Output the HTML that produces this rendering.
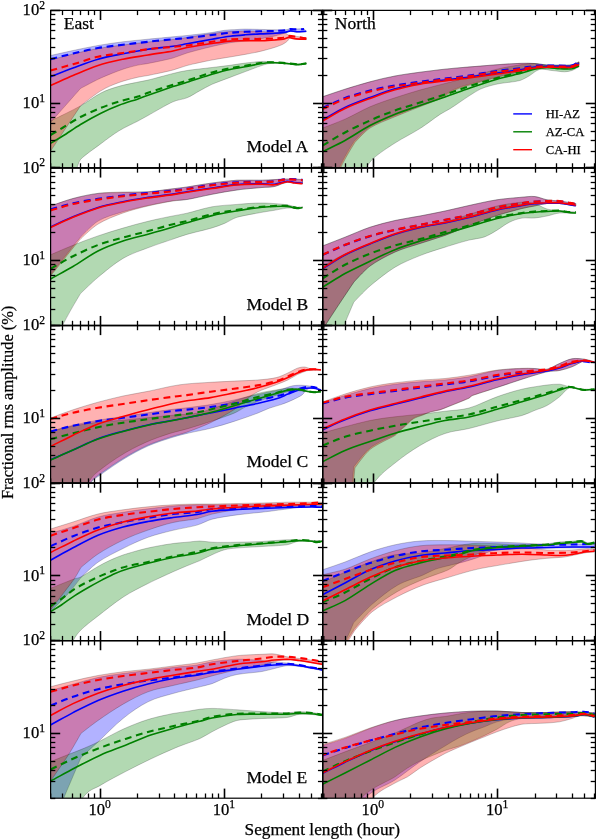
<!DOCTYPE html><html><head><meta charset="utf-8"><style>html,body{margin:0;padding:0;background:#fff}svg{display:block}text{font-family:"Liberation Serif",serif;fill:#000;stroke:#000;stroke-width:0.25px}svg{will-change:transform}</style></head><body>
<svg width="596" height="839" viewBox="0 0 596 839">
<rect width="596" height="839" fill="#fff"/>
<defs>
<clipPath id="c00"><rect x="50.60" y="10.40" width="272.05" height="157.56"/></clipPath>
<clipPath id="c01"><rect x="322.65" y="10.40" width="272.75" height="157.56"/></clipPath>
<clipPath id="c10"><rect x="50.60" y="167.96" width="272.05" height="157.56"/></clipPath>
<clipPath id="c11"><rect x="322.65" y="167.96" width="272.75" height="157.56"/></clipPath>
<clipPath id="c20"><rect x="50.60" y="325.52" width="272.05" height="157.56"/></clipPath>
<clipPath id="c21"><rect x="322.65" y="325.52" width="272.75" height="157.56"/></clipPath>
<clipPath id="c30"><rect x="50.60" y="483.08" width="272.05" height="157.56"/></clipPath>
<clipPath id="c31"><rect x="322.65" y="483.08" width="272.75" height="157.56"/></clipPath>
<clipPath id="c40"><rect x="50.60" y="640.64" width="272.05" height="157.56"/></clipPath>
<clipPath id="c41"><rect x="322.65" y="640.64" width="272.75" height="157.56"/></clipPath>
</defs>
<g clip-path="url(#c00)">
<path d="M50.5,55.5 C58.0,53.8 65.5,52.1 73.0,50.5 C80.9,48.8 89.7,47.0 98.0,45.5 C106.3,44.0 114.7,42.8 123.0,41.8 C131.3,40.7 139.7,40.1 148.0,39.2 C156.3,38.4 166.5,37.4 173.0,36.8 C177.7,36.3 182.3,36.0 187.0,35.5 C193.5,34.8 205.8,33.4 212.0,32.5 C216.2,31.9 220.3,30.8 224.5,30.3 C228.7,29.8 233.6,29.7 237.0,29.5 C239.7,29.3 242.3,29.1 245.0,29.1 C248.8,29.1 255.0,29.3 260.0,29.4 C265.0,29.5 270.7,29.7 275.0,29.8 C278.7,29.9 283.4,30.0 286.0,29.8 C287.5,29.7 288.9,28.7 290.4,28.6 C292.1,28.5 294.5,28.9 296.5,28.9 C298.8,28.9 301.5,28.7 304.0,28.6 L306.3,31.8 C303.0,32.0 299.1,32.4 296.5,32.3 C294.5,32.2 292.1,31.3 290.4,31.4 C288.9,31.5 287.5,32.4 286.0,32.8 C283.4,33.5 278.7,35.0 275.0,35.9 C270.7,36.9 265.0,38.0 260.0,38.9 C255.0,39.8 250.0,40.5 245.0,41.1 C240.0,41.7 235.0,41.9 230.0,42.7 C224.5,43.6 218.0,45.1 212.0,46.5 C204.8,48.2 193.5,51.1 187.0,53.0 C182.3,54.4 177.7,56.7 173.0,58.0 C166.5,59.8 153.8,62.3 148.0,63.5 C144.7,64.2 141.3,64.3 138.0,65.1 C133.8,66.1 128.0,67.5 123.0,69.2 C116.8,71.4 108.0,74.8 100.9,78.0 C94.1,81.1 80.5,88.5 80.5,88.5 C80.5,88.5 60.5,111.2 50.5,122.5Z" fill="#0000ff" fill-opacity="0.3" stroke="#000" stroke-opacity="0.3" stroke-width="0.7"/>
<path d="M50.5,121.0 C60.5,116.0 72.1,110.6 80.5,105.9 C87.3,102.1 94.5,96.3 100.9,93.0 C106.9,89.9 113.0,88.1 119.0,86.3 C125.2,84.5 133.2,83.2 138.0,82.1 C141.3,81.4 144.7,80.9 148.0,80.1 C153.8,78.7 166.5,75.1 173.0,73.5 C177.7,72.3 182.3,71.2 187.0,70.5 C193.5,69.5 204.8,68.4 212.0,67.5 C218.0,66.8 224.5,66.0 230.0,65.3 C235.0,64.6 240.1,63.7 245.1,63.1 C250.1,62.5 256.4,61.8 260.2,61.5 C262.7,61.3 265.3,61.4 267.8,61.5 C270.3,61.6 272.8,62.0 275.3,62.2 C277.8,62.4 280.4,62.4 282.9,62.6 C285.4,62.8 287.9,63.1 290.4,63.3 C292.9,63.5 295.5,64.1 298.0,64.1 C300.6,64.0 303.5,63.4 306.3,63.0 L306.3,64.0 C303.5,64.4 300.6,65.0 298.0,65.1 C295.5,65.1 292.9,64.5 290.4,64.3 C287.9,64.1 285.4,63.8 282.9,63.6 C280.4,63.4 277.8,63.2 275.3,63.2 C272.8,63.2 270.3,63.3 267.8,63.8 C265.3,64.3 262.7,65.2 260.2,66.1 C257.2,67.1 253.1,68.7 249.6,70.0 C244.6,71.9 236.3,75.0 230.0,77.4 C224.0,79.7 217.1,82.1 212.0,84.3 C207.8,86.2 203.7,88.7 199.5,90.9 C195.3,93.2 191.2,96.1 187.0,97.8 C182.6,99.6 177.7,99.6 173.0,101.8 C166.5,104.7 153.8,112.3 148.0,115.5 C144.7,117.3 141.3,119.2 138.0,121.0 C133.2,123.5 125.2,127.0 119.0,130.8 C113.0,134.5 106.9,139.2 100.9,143.7 C94.5,148.5 84.7,155.1 80.5,159.5 C79.0,161.1 77.5,167.2 76.0,170.0 C71.0,179.2 59.0,200.0 50.5,215.0Z" fill="#008000" fill-opacity="0.3" stroke="#000" stroke-opacity="0.3" stroke-width="0.7"/>
<path d="M50.5,60.0 C58.0,58.0 65.5,55.8 73.0,54.0 C80.9,52.1 89.7,50.0 98.0,48.5 C106.3,47.0 114.7,46.1 123.0,45.0 C131.3,43.9 139.7,42.9 148.0,42.0 C156.3,41.1 166.5,40.2 173.0,39.5 C177.7,39.0 182.3,38.2 187.0,37.5 C193.5,36.5 204.8,34.5 212.0,33.5 C218.0,32.7 224.5,31.9 230.0,31.5 C235.0,31.1 240.0,31.0 245.0,31.0 C250.0,31.0 255.0,31.2 260.0,31.5 C265.0,31.8 270.7,32.2 275.0,32.5 C278.7,32.8 283.7,33.0 286.0,33.5 C287.0,33.7 287.9,35.1 288.9,35.4 C290.6,35.9 294.0,36.0 296.5,36.4 C299.4,36.8 303.0,37.5 306.3,38.0 L306.3,39.6 C303.0,39.5 299.3,39.5 296.5,39.3 C294.2,39.1 291.2,38.0 289.7,38.3 C288.9,38.5 288.2,40.4 287.4,41.1 C286.3,42.1 284.4,43.4 282.9,44.2 C280.9,45.2 277.8,46.4 275.3,47.2 C271.5,48.4 265.2,50.2 260.2,51.4 C255.2,52.6 250.1,53.5 245.1,54.4 C240.1,55.3 235.0,56.1 230.0,57.0 C224.5,57.9 218.0,58.8 212.0,60.0 C204.8,61.4 193.5,63.8 187.0,65.5 C182.3,66.7 177.7,68.8 173.0,70.0 C166.5,71.7 153.8,74.3 148.0,75.5 C144.7,76.2 141.3,76.4 138.0,77.2 C133.2,78.4 125.2,80.2 119.0,82.5 C113.0,84.7 106.9,87.1 100.9,90.8 C94.5,94.7 80.5,105.9 80.5,105.9 C80.5,105.9 60.5,136.1 50.5,151.2Z" fill="#ff0000" fill-opacity="0.3" stroke="#000" stroke-opacity="0.3" stroke-width="0.7"/>
<path d="M50.5,76.8 C58.0,73.8 65.5,70.8 73.0,68.0 C80.9,65.1 89.7,61.6 98.0,59.2 C106.3,56.9 114.7,55.4 123.0,53.8 C131.3,52.1 139.7,50.5 148.0,49.2 C156.3,48.0 166.5,47.2 173.0,46.2 C177.7,45.6 182.3,44.6 187.0,43.8 C193.5,42.6 204.8,40.5 212.0,39.2 C218.0,38.2 224.5,37.0 230.0,36.3 C235.0,35.6 240.1,35.2 245.1,34.8 C250.1,34.4 255.2,34.1 260.2,33.9 C265.2,33.6 271.0,33.6 275.3,33.3 C278.8,33.1 283.4,32.5 285.9,32.1 C287.4,31.9 288.9,30.9 290.4,30.9 C292.2,30.8 294.5,31.7 296.5,31.8 C299.1,31.9 303.0,31.5 306.3,31.3" fill="none" stroke="#0000ff" stroke-width="1.6" stroke-linejoin="round"/>
<path d="M50.5,59.2 C58.0,57.3 65.5,55.3 73.0,53.5 C80.9,51.6 89.7,49.5 98.0,48.0 C106.3,46.5 114.7,45.8 123.0,44.8 C131.3,43.7 139.7,42.7 148.0,41.8 C156.3,40.8 166.5,39.9 173.0,39.2 C177.7,38.8 182.3,38.5 187.0,38.0 C193.5,37.3 204.8,35.9 212.0,35.0 C218.0,34.3 224.5,33.3 230.0,32.8 C235.0,32.3 240.1,32.0 245.1,31.8 C250.1,31.6 255.2,31.4 260.2,31.3 C265.2,31.1 271.0,31.1 275.3,30.9 C278.8,30.8 283.4,30.6 285.9,30.3 C287.4,30.1 288.9,29.2 290.4,29.1 C292.2,29.0 294.5,29.4 296.5,29.4 C298.8,29.4 301.5,29.2 304.0,29.1" fill="none" stroke="#0000ff" stroke-width="2.1" stroke-dasharray="6.8,4.7" stroke-dashoffset="0"/>
<path d="M50.5,143.4 C54.7,140.9 58.9,138.4 63.1,135.8 C68.1,132.7 74.7,128.0 80.5,124.5 C86.8,120.7 94.5,116.4 100.9,113.2 C106.9,110.2 113.0,107.6 119.0,105.3 C125.2,102.9 133.2,100.6 138.0,98.9 C141.3,97.7 144.7,96.4 148.0,95.2 C153.8,93.2 166.5,88.7 173.0,86.5 C177.7,85.0 182.3,83.8 187.0,82.3 C193.5,80.3 204.8,76.4 212.0,74.2 C218.0,72.5 224.5,70.7 230.0,69.5 C235.0,68.4 240.1,67.8 245.1,66.8 C250.1,65.8 256.4,64.5 260.2,63.8 C262.7,63.3 265.3,62.9 267.8,62.7 C270.3,62.5 272.8,62.6 275.3,62.7 C277.8,62.8 280.4,62.9 282.9,63.1 C285.4,63.3 287.9,63.6 290.4,63.8 C292.9,64.0 295.5,64.6 298.0,64.6 C300.6,64.5 303.5,63.9 306.3,63.5" fill="none" stroke="#008000" stroke-width="1.6" stroke-linejoin="round"/>
<path d="M50.5,135.0 C54.7,132.5 58.9,130.0 63.1,127.5 C68.1,124.5 74.7,120.0 80.5,117.0 C86.8,113.7 94.5,110.5 100.9,107.9 C106.9,105.5 113.0,103.3 119.0,101.5 C125.2,99.6 133.2,98.1 138.0,96.6 C141.3,95.6 144.7,93.9 148.0,92.8 C153.8,90.8 166.5,86.8 173.0,84.8 C177.7,83.3 182.3,82.1 187.0,80.6 C193.5,78.5 204.8,74.5 212.0,72.5 C218.0,70.8 224.5,69.4 230.0,68.3 C235.0,67.3 240.1,66.7 245.1,65.8 C250.1,64.9 256.4,63.6 260.2,63.0 C262.7,62.6 265.3,62.3 267.8,62.2 C270.3,62.1 272.8,62.3 275.3,62.4 C277.8,62.5 280.4,62.7 282.9,62.9 C285.4,63.1 287.9,63.4 290.4,63.6 C292.9,63.9 295.5,64.4 298.0,64.4 C300.6,64.4 303.5,63.7 306.3,63.3" fill="none" stroke="#008000" stroke-width="2.1" stroke-dasharray="6.8,4.7" stroke-dashoffset="0"/>
<path d="M50.5,85.5 C58.0,82.2 65.5,78.7 73.0,75.5 C80.9,72.2 89.7,68.2 98.0,65.5 C106.3,62.8 114.7,61.0 123.0,59.2 C131.3,57.5 139.7,56.4 148.0,55.0 C156.3,53.6 166.5,52.2 173.0,51.0 C177.7,50.1 182.3,48.4 187.0,47.5 C193.5,46.2 204.8,44.6 212.0,43.5 C218.0,42.6 224.5,41.6 230.0,41.1 C235.0,40.7 240.1,40.8 245.1,40.7 C250.1,40.6 255.2,40.8 260.2,40.7 C265.2,40.6 271.5,40.1 275.3,39.9 C277.8,39.7 280.6,39.7 282.9,39.3 C284.9,38.9 287.4,37.6 288.9,37.4 C289.9,37.3 290.9,37.9 291.9,38.1 C293.2,38.4 295.0,38.8 296.5,38.9 C298.9,39.1 303.0,39.2 306.3,39.3" fill="none" stroke="#ff0000" stroke-width="1.6" stroke-linejoin="round"/>
<path d="M50.5,70.5 C58.0,68.4 65.5,66.4 73.0,64.2 C80.9,62.0 89.7,58.6 98.0,56.8 C106.3,54.9 114.7,54.2 123.0,53.0 C131.3,51.8 139.7,50.3 148.0,49.2 C156.3,48.2 166.5,47.4 173.0,46.8 C177.7,46.3 182.3,46.1 187.0,45.5 C193.5,44.7 204.8,42.8 212.0,41.8 C218.0,40.9 224.5,39.8 230.0,39.3 C235.0,38.9 240.1,39.0 245.1,38.9 C250.1,38.8 255.2,39.0 260.2,38.9 C265.2,38.8 271.5,38.6 275.3,38.4 C277.8,38.3 280.6,38.2 282.9,37.8 C284.9,37.4 286.9,36.0 288.9,35.9 C291.2,35.8 294.0,36.5 296.5,36.9 C299.4,37.3 303.0,37.9 306.3,38.4" fill="none" stroke="#ff0000" stroke-width="2.1" stroke-dasharray="6.8,4.7" stroke-dashoffset="0"/>
</g>
<g clip-path="url(#c01)">
<path d="M322.5,96.8 C330.0,94.2 337.5,91.6 345.0,89.2 C352.9,86.8 361.7,84.0 370.0,81.8 C378.3,79.5 386.7,77.6 395.0,76.0 C403.3,74.4 412.5,73.3 420.0,72.2 C426.7,71.3 433.3,70.5 440.0,69.7 C446.7,68.9 453.3,68.3 460.0,67.7 C466.7,67.1 473.3,66.6 480.0,66.1 C486.7,65.6 493.3,64.9 500.0,64.5 C507.0,64.0 516.2,63.5 522.0,63.3 C526.2,63.2 530.3,63.2 534.5,63.5 C538.7,63.8 542.8,64.8 547.0,65.0 C553.2,65.2 566.7,65.5 572.0,65.0 C574.3,64.8 576.7,62.8 579.0,61.8 L579.0,64.5 C576.7,65.7 574.3,67.7 572.0,68.0 C566.7,68.6 553.2,67.9 547.0,68.0 C542.8,68.1 538.7,68.0 534.5,68.5 C530.3,69.0 526.2,70.1 522.0,71.0 C515.8,72.4 505.3,74.9 497.0,77.0 C488.7,79.1 478.2,81.8 472.0,83.5 C468.0,84.6 463.7,85.7 460.0,87.0 C456.7,88.2 453.3,89.8 450.0,91.5 C446.7,93.2 443.3,95.9 440.0,97.5 C435.0,99.8 426.7,102.8 420.0,105.5 C412.5,108.5 403.3,112.0 395.0,115.5 C386.7,119.0 376.9,122.4 370.0,126.8 C364.6,130.2 353.8,141.8 353.8,141.8 C353.8,141.8 344.1,156.7 339.3,168.0 C334.1,180.2 328.1,199.3 322.5,215.0Z" fill="#0000ff" fill-opacity="0.3" stroke="#000" stroke-opacity="0.3" stroke-width="0.7"/>
<path d="M322.5,128.0 C330.0,125.1 337.5,122.6 345.0,119.2 C352.9,115.7 361.7,110.3 370.0,106.8 C378.3,103.2 386.7,100.5 395.0,97.8 C403.3,95.0 411.7,92.4 420.0,90.0 C428.3,87.6 436.7,85.7 445.0,83.5 C453.3,81.3 461.7,79.3 470.0,77.0 C478.7,74.6 488.3,71.3 497.0,69.2 C505.3,67.2 515.8,65.5 522.0,64.5 C526.2,63.9 530.3,63.4 534.5,63.5 C538.7,63.6 542.8,64.8 547.0,65.0 C553.2,65.2 566.7,65.4 572.0,65.0 C574.3,64.8 576.7,63.3 579.0,62.5 L579.0,66.8 C576.7,68.0 574.3,69.7 572.0,70.5 C569.6,71.3 567.0,71.8 564.5,71.8 C561.2,71.8 555.8,70.9 552.0,70.5 C548.7,70.1 544.5,69.2 542.0,69.2 C540.3,69.2 538.7,69.6 537.0,70.5 C534.8,71.6 531.7,74.4 529.0,76.0 C526.2,77.7 523.0,79.5 520.0,80.5 C516.8,81.5 513.3,81.7 510.0,82.2 C506.7,82.7 503.3,82.9 500.0,83.5 C496.7,84.1 493.3,84.8 490.0,85.8 C486.7,86.8 483.3,87.7 480.0,89.3 C476.7,90.9 473.3,93.2 470.0,95.3 C466.7,97.4 463.3,99.8 460.0,102.0 C456.7,104.3 453.3,106.7 450.0,108.7 C446.7,110.8 443.3,112.2 440.0,114.4 C435.0,117.7 426.7,124.3 420.0,128.5 C412.5,133.3 402.7,138.1 395.0,143.0 C387.9,147.5 378.5,153.8 373.8,158.0 C371.2,160.2 368.8,163.5 366.2,168.0 C357.7,183.3 337.1,222.7 322.5,250.0Z" fill="#008000" fill-opacity="0.3" stroke="#000" stroke-opacity="0.3" stroke-width="0.7"/>
<path d="M322.5,96.8 C330.0,94.2 337.5,91.6 345.0,89.2 C352.9,86.8 361.7,84.0 370.0,81.8 C378.3,79.5 386.7,77.6 395.0,76.0 C403.3,74.4 412.5,73.3 420.0,72.2 C426.7,71.3 433.3,70.5 440.0,69.7 C446.7,68.9 453.3,68.3 460.0,67.7 C466.7,67.1 473.3,66.6 480.0,66.1 C486.7,65.6 493.3,64.9 500.0,64.5 C507.0,64.0 516.2,63.5 522.0,63.3 C526.2,63.2 530.3,63.2 534.5,63.5 C538.7,63.8 542.8,64.8 547.0,65.0 C553.2,65.2 566.7,65.5 572.0,65.0 C574.3,64.8 576.7,62.8 579.0,61.8 L579.0,64.5 C576.7,65.7 574.3,67.7 572.0,68.0 C566.7,68.6 553.2,67.9 547.0,68.0 C542.8,68.1 538.7,67.9 534.5,68.5 C530.3,69.1 526.2,70.5 522.0,71.5 C515.8,73.0 505.3,75.3 497.0,77.5 C488.7,79.7 478.2,82.8 472.0,84.5 C468.0,85.6 463.7,86.6 460.0,88.0 C456.7,89.2 453.3,90.9 450.0,92.7 C446.7,94.5 443.3,97.1 440.0,98.7 C435.0,101.0 426.7,104.0 420.0,106.7 C412.5,109.7 403.3,113.2 395.0,116.7 C386.7,120.2 376.7,123.7 370.0,128.0 C365.0,131.2 354.9,142.5 354.9,142.5 C354.9,142.5 345.4,157.3 340.6,168.0 C335.2,180.1 328.5,199.3 322.5,215.0Z" fill="#ff0000" fill-opacity="0.3" stroke="#000" stroke-opacity="0.3" stroke-width="0.7"/>
<path d="M322.5,120.0 C330.0,115.8 337.5,111.1 345.0,107.5 C352.9,103.8 361.7,100.6 370.0,97.5 C378.3,94.4 386.7,91.1 395.0,88.8 C403.3,86.4 411.7,84.7 420.0,83.2 C428.3,81.8 436.8,81.0 445.0,80.0 C453.0,79.0 461.0,78.1 469.0,77.0 C477.7,75.8 488.2,74.2 497.0,73.0 C505.3,71.8 515.8,70.5 522.0,69.5 C526.2,68.8 530.3,67.5 534.5,67.0 C538.7,66.5 542.8,66.3 547.0,66.2 C553.2,66.1 566.7,66.7 572.0,66.2 C574.3,66.1 576.7,64.6 579.0,63.8" fill="none" stroke="#0000ff" stroke-width="1.6" stroke-linejoin="round"/>
<path d="M322.5,108.0 C330.0,104.7 337.5,100.8 345.0,98.0 C352.9,95.1 361.7,92.6 370.0,90.5 C378.3,88.4 386.7,87.0 395.0,85.5 C403.3,84.0 411.7,82.9 420.0,81.8 C428.3,80.6 436.8,79.5 445.0,78.5 C453.0,77.5 461.0,76.7 469.0,75.5 C477.7,74.2 488.2,72.2 497.0,71.0 C505.3,69.8 515.8,68.8 522.0,68.0 C526.2,67.4 530.3,66.4 534.5,66.0 C538.7,65.6 542.8,65.6 547.0,65.5 C553.2,65.4 566.7,66.1 572.0,65.5 C574.3,65.2 576.7,63.0 579.0,61.8" fill="none" stroke="#0000ff" stroke-width="2.1" stroke-dasharray="6.8,4.7" stroke-dashoffset="0"/>
<path d="M322.5,151.8 C330.0,148.0 337.5,144.6 345.0,140.5 C352.9,136.1 361.7,129.9 370.0,125.5 C378.3,121.1 386.7,117.6 395.0,114.2 C403.3,110.9 411.7,108.4 420.0,105.5 C428.3,102.6 436.7,99.9 445.0,97.0 C453.3,94.1 461.7,90.8 470.0,88.0 C478.7,85.0 488.3,81.8 497.0,79.2 C505.3,76.8 515.8,74.7 522.0,73.0 C526.2,71.9 530.3,70.2 534.5,69.2 C538.7,68.3 542.8,67.6 547.0,67.5 C551.2,67.4 555.3,68.5 559.5,68.8 C563.7,69.0 568.8,69.2 572.0,68.8 C574.3,68.4 576.7,66.9 579.0,66.0" fill="none" stroke="#008000" stroke-width="1.6" stroke-linejoin="round"/>
<path d="M322.5,145.5 C330.0,141.2 337.5,136.4 345.0,132.5 C352.9,128.3 361.7,124.2 370.0,120.5 C378.3,116.8 386.7,113.5 395.0,110.5 C403.3,107.5 411.7,105.2 420.0,102.5 C428.3,99.8 436.7,97.2 445.0,94.5 C453.3,91.8 461.7,88.6 470.0,86.0 C478.7,83.2 488.3,80.4 497.0,78.0 C505.3,75.7 515.8,73.4 522.0,71.8 C526.2,70.6 530.3,68.8 534.5,68.0 C538.7,67.2 542.8,66.8 547.0,66.8 C551.2,66.8 555.3,67.8 559.5,68.0 C563.7,68.2 568.8,68.4 572.0,68.0 C574.3,67.7 576.7,66.3 579.0,65.5" fill="none" stroke="#008000" stroke-width="2.1" stroke-dasharray="6.8,4.7" stroke-dashoffset="0"/>
<path d="M322.5,121.0 C330.0,116.8 337.5,112.1 345.0,108.5 C352.9,104.8 361.7,101.6 370.0,98.5 C378.3,95.4 386.7,92.1 395.0,89.8 C403.3,87.4 411.7,85.7 420.0,84.2 C428.3,82.8 436.8,82.0 445.0,81.0 C453.0,80.0 461.0,79.1 469.0,78.0 C477.7,76.8 488.2,75.2 497.0,74.0 C505.3,72.8 515.8,71.5 522.0,70.5 C526.2,69.8 530.3,68.5 534.5,68.0 C538.7,67.5 542.8,67.3 547.0,67.2 C553.2,67.1 566.7,67.7 572.0,67.2 C574.3,67.0 576.7,65.4 579.0,64.5" fill="none" stroke="#ff0000" stroke-width="1.6" stroke-linejoin="round"/>
<path d="M322.5,109.0 C330.0,105.7 337.5,101.8 345.0,99.0 C352.9,96.1 361.7,93.6 370.0,91.5 C378.3,89.4 386.7,87.9 395.0,86.5 C403.3,85.0 411.7,83.9 420.0,82.7 C428.3,81.5 436.8,80.5 445.0,79.4 C453.0,78.4 461.0,77.6 469.0,76.4 C477.7,75.1 488.2,73.1 497.0,71.9 C505.3,70.7 515.8,69.7 522.0,68.9 C526.2,68.3 530.3,67.3 534.5,66.8 C538.7,66.4 542.8,66.4 547.0,66.3 C553.2,66.2 566.7,66.9 572.0,66.3 C574.3,66.0 576.7,63.8 579.0,62.5" fill="none" stroke="#ff0000" stroke-width="2.1" stroke-dasharray="6.8,4.7" stroke-dashoffset="0"/>
</g>
<g clip-path="url(#c10)">
<path d="M50.5,206.0 C58.0,203.5 65.5,200.5 73.0,198.5 C80.9,196.4 89.7,194.4 98.0,193.4 C106.3,192.4 114.7,192.8 123.0,192.5 C131.3,192.2 139.7,192.4 148.0,191.8 C156.3,191.1 166.5,189.5 173.0,188.8 C177.7,188.2 182.3,187.7 187.0,187.0 C193.5,186.0 203.7,184.1 212.0,183.0 C220.3,181.9 228.7,180.7 237.0,180.2 C245.3,179.8 253.7,180.5 262.0,180.2 C270.3,180.0 280.2,179.1 287.0,179.0 C292.2,178.9 297.3,179.3 302.5,179.5 L302.5,183.5 C297.3,183.1 291.7,181.9 287.0,182.4 C282.8,182.8 278.7,185.6 274.5,186.5 C270.3,187.4 266.2,187.1 262.0,187.5 C255.8,188.1 245.3,188.8 237.0,190.0 C228.7,191.1 220.3,192.7 212.0,194.3 C203.7,195.9 193.5,198.5 187.0,199.5 C182.3,200.3 177.7,200.0 173.0,200.7 C166.5,201.7 156.3,203.7 148.0,205.5 C139.7,207.4 131.3,209.2 123.0,211.8 C114.7,214.3 105.1,216.8 98.0,221.1 C92.2,224.6 80.5,237.2 80.5,237.2 C80.5,237.2 76.3,242.1 74.2,244.8 C69.2,251.0 58.4,264.8 50.5,274.8Z" fill="#0000ff" fill-opacity="0.3" stroke="#000" stroke-opacity="0.3" stroke-width="0.7"/>
<path d="M50.5,254.8 C58.4,251.4 66.3,247.9 74.2,244.8 C82.2,241.6 90.1,238.6 98.0,235.9 C106.1,233.1 114.7,230.5 123.0,228.1 C131.3,225.6 139.7,223.3 148.0,221.3 C156.3,219.2 166.5,217.2 173.0,215.9 C177.7,214.9 182.3,214.3 187.0,213.2 C193.5,211.7 203.7,208.3 212.0,206.8 C220.3,205.3 228.7,205.1 237.0,204.4 C245.3,203.8 253.7,202.9 262.0,203.0 C270.3,203.1 281.2,204.0 287.0,204.8 C290.3,205.2 294.4,206.9 297.0,207.2 C298.8,207.5 300.7,206.9 302.5,206.8 L302.5,208.0 C300.7,208.2 298.8,208.5 297.0,208.5 C294.4,208.5 290.3,207.8 287.0,208.1 C283.2,208.4 278.7,209.6 274.5,210.3 C270.3,211.0 266.2,211.5 262.0,212.3 C255.8,213.5 243.2,215.5 237.0,217.3 C232.8,218.5 228.7,221.6 224.5,223.4 C220.3,225.1 216.2,226.7 212.0,227.9 C205.8,229.8 193.5,232.5 187.0,234.4 C182.3,235.7 177.7,237.4 173.0,239.1 C166.5,241.3 156.3,244.6 148.0,247.8 C139.7,251.0 131.3,253.5 123.0,258.4 C114.7,263.3 105.1,271.4 98.0,277.3 C92.2,282.1 80.5,293.6 80.5,293.6 C80.5,293.6 66.8,316.0 61.8,327.3 C58.0,335.8 54.2,350.0 50.5,361.3Z" fill="#008000" fill-opacity="0.3" stroke="#000" stroke-opacity="0.3" stroke-width="0.7"/>
<path d="M50.5,206.0 C58.0,203.5 65.5,200.5 73.0,198.5 C80.9,196.4 89.7,194.5 98.0,193.4 C106.3,192.3 114.7,192.3 123.0,192.0 C131.3,191.7 139.7,192.3 148.0,191.8 C156.3,191.2 166.5,189.5 173.0,188.8 C177.7,188.2 182.3,187.7 187.0,187.0 C193.5,186.0 203.7,184.1 212.0,183.0 C220.3,181.9 228.7,180.7 237.0,180.2 C245.3,179.8 253.7,180.5 262.0,180.2 C270.3,180.0 280.2,179.1 287.0,179.0 C292.2,178.9 297.3,179.3 302.5,179.5 L302.5,183.5 C297.3,183.1 291.7,181.9 287.0,182.4 C282.8,182.8 278.7,185.6 274.5,186.5 C270.3,187.4 266.2,187.1 262.0,187.5 C255.8,188.1 245.3,188.8 237.0,190.0 C228.7,191.1 220.3,192.7 212.0,194.3 C203.7,195.9 193.5,198.4 187.0,199.5 C182.3,200.3 177.7,200.2 173.0,201.0 C166.5,202.1 156.3,204.0 148.0,206.0 C139.7,208.0 131.3,210.0 123.0,213.0 C114.7,216.0 105.1,219.7 98.0,224.1 C92.2,227.6 80.5,239.0 80.5,239.0 C80.5,239.0 76.3,243.9 74.2,246.5 C69.2,252.7 58.4,266.2 50.5,276.0Z" fill="#ff0000" fill-opacity="0.3" stroke="#000" stroke-opacity="0.3" stroke-width="0.7"/>
<path d="M50.5,227.0 C58.0,223.6 65.5,219.9 73.0,216.8 C80.9,213.6 89.7,210.1 98.0,207.5 C106.3,205.0 114.7,203.4 123.0,201.7 C131.3,200.0 139.7,198.7 148.0,197.4 C156.3,196.2 166.5,195.0 173.0,194.1 C177.7,193.4 182.3,192.4 187.0,191.7 C193.5,190.7 203.7,189.2 212.0,188.0 C220.3,186.8 228.7,185.2 237.0,184.5 C245.3,183.8 255.8,183.8 262.0,183.8 C266.2,183.7 270.3,184.7 274.5,184.2 C278.7,183.8 283.7,181.5 287.0,181.2 C289.5,181.0 292.0,182.2 294.5,182.5 C297.1,182.8 299.8,183.0 302.5,183.2" fill="none" stroke="#0000ff" stroke-width="1.6" stroke-linejoin="round"/>
<path d="M50.5,209.5 C58.0,207.4 65.5,204.9 73.0,203.2 C80.9,201.4 89.7,200.1 98.0,198.8 C106.3,197.5 114.7,196.5 123.0,195.5 C131.3,194.5 139.7,193.8 148.0,193.0 C156.3,192.2 166.5,191.2 173.0,190.5 C177.7,190.0 182.3,189.4 187.0,188.8 C193.5,187.8 203.7,185.8 212.0,184.8 C220.3,183.7 228.7,182.8 237.0,182.3 C245.3,181.8 255.8,181.8 262.0,181.6 C266.2,181.4 270.3,181.5 274.5,181.1 C278.7,180.6 282.8,179.2 287.0,179.1 C291.7,178.8 297.3,179.6 302.5,179.8" fill="none" stroke="#0000ff" stroke-width="2.1" stroke-dasharray="6.8,4.7" stroke-dashoffset="0"/>
<path d="M50.5,279.0 C58.0,274.8 65.5,270.9 73.0,266.5 C80.9,261.8 89.7,255.3 98.0,251.0 C106.3,246.7 114.7,243.8 123.0,241.0 C131.3,238.2 139.7,236.5 148.0,234.2 C156.3,231.9 166.5,229.0 173.0,227.0 C177.7,225.7 182.3,224.0 187.0,222.7 C193.5,220.8 203.7,217.6 212.0,215.6 C220.3,213.7 228.7,212.3 237.0,210.9 C245.3,209.5 253.7,208.0 262.0,207.2 C270.3,206.5 281.2,206.2 287.0,206.4 C290.3,206.5 294.4,208.3 297.0,208.5 C298.8,208.6 300.7,207.8 302.5,207.5" fill="none" stroke="#008000" stroke-width="1.6" stroke-linejoin="round"/>
<path d="M50.5,268.8 C58.0,264.6 65.5,260.0 73.0,256.2 C80.9,252.3 89.7,248.1 98.0,245.0 C106.3,241.9 114.7,239.8 123.0,237.5 C131.3,235.2 139.7,233.3 148.0,231.1 C156.3,228.9 166.5,225.9 173.0,224.2 C177.7,223.0 182.3,222.3 187.0,221.1 C193.5,219.4 203.7,216.1 212.0,214.2 C220.3,212.4 228.7,211.2 237.0,209.9 C245.3,208.7 253.7,207.4 262.0,206.7 C270.3,206.0 281.2,205.7 287.0,205.9 C290.3,206.0 294.4,207.8 297.0,208.0 C298.8,208.2 300.7,207.5 302.5,207.2" fill="none" stroke="#008000" stroke-width="2.1" stroke-dasharray="6.8,4.7" stroke-dashoffset="0"/>
<path d="M50.5,227.5 C58.0,224.1 65.5,220.4 73.0,217.3 C80.9,214.1 89.7,210.6 98.0,208.0 C106.3,205.5 114.7,203.9 123.0,202.2 C131.3,200.5 139.7,199.2 148.0,197.9 C156.3,196.7 166.5,195.5 173.0,194.6 C177.7,193.9 182.3,192.9 187.0,192.2 C193.5,191.2 203.7,189.7 212.0,188.5 C220.3,187.3 228.7,185.7 237.0,185.0 C245.3,184.3 255.8,184.3 262.0,184.2 C266.2,184.2 270.3,185.2 274.5,184.8 C278.7,184.3 283.7,182.0 287.0,181.8 C289.5,181.5 292.0,182.7 294.5,183.0 C297.1,183.3 299.8,183.5 302.5,183.8" fill="none" stroke="#ff0000" stroke-width="1.6" stroke-linejoin="round"/>
<path d="M50.5,210.4 C58.0,208.3 65.5,205.8 73.0,204.1 C80.9,202.3 89.7,200.9 98.0,199.6 C106.3,198.3 114.7,197.2 123.0,196.2 C131.3,195.3 139.7,194.6 148.0,193.7 C156.3,192.9 166.5,191.9 173.0,191.2 C177.7,190.6 182.3,190.0 187.0,189.3 C193.5,188.4 203.7,186.4 212.0,185.3 C220.3,184.2 228.7,183.4 237.0,182.8 C245.3,182.2 255.8,182.2 262.0,182.0 C266.2,181.9 270.3,181.9 274.5,181.5 C278.7,181.0 282.8,179.6 287.0,179.4 C291.7,179.2 297.3,179.9 302.5,180.1" fill="none" stroke="#ff0000" stroke-width="2.1" stroke-dasharray="6.8,4.7" stroke-dashoffset="0"/>
</g>
<g clip-path="url(#c11)">
<path d="M322.5,246.0 C330.0,243.1 337.5,240.2 345.0,237.2 C352.9,234.1 361.7,230.0 370.0,227.2 C378.3,224.5 386.7,222.4 395.0,220.5 C403.3,218.6 411.7,217.6 420.0,216.0 C428.3,214.4 436.8,212.8 445.0,211.0 C453.0,209.3 461.0,207.2 469.0,205.5 C477.7,203.6 488.2,201.1 497.0,199.8 C505.3,198.5 515.8,197.8 522.0,197.2 C526.2,196.9 530.3,196.1 534.5,196.5 C538.7,196.9 542.8,199.0 547.0,199.8 C551.2,200.5 555.3,200.5 559.5,201.0 C564.3,201.6 570.3,202.7 575.8,203.5 L575.8,206.0 C570.3,205.2 564.3,203.9 559.5,203.5 C555.3,203.1 551.2,203.1 547.0,203.5 C542.8,203.9 538.7,205.2 534.5,206.0 C530.3,206.8 526.2,207.4 522.0,208.5 C515.8,210.1 505.3,212.8 497.0,215.5 C488.2,218.4 477.7,222.4 469.0,225.7 C461.0,228.8 453.0,232.5 445.0,235.4 C436.8,238.3 428.3,240.7 420.0,243.5 C411.7,246.3 403.3,248.2 395.0,252.0 C386.7,255.8 376.9,261.0 370.0,266.0 C364.6,270.0 353.8,282.2 353.8,282.2 C353.8,282.2 330.2,317.2 325.0,326.0 C324.2,327.4 323.3,332.0 322.5,335.0Z" fill="#0000ff" fill-opacity="0.3" stroke="#000" stroke-opacity="0.3" stroke-width="0.7"/>
<path d="M322.5,266.0 C330.0,262.0 337.5,257.5 345.0,254.0 C352.9,250.3 361.7,246.9 370.0,243.7 C378.3,240.5 386.7,237.4 395.0,234.8 C403.3,232.1 411.7,230.1 420.0,228.0 C428.3,225.9 436.8,224.3 445.0,222.0 C453.0,219.8 461.0,217.0 469.0,214.5 C477.7,211.8 488.2,208.0 497.0,206.0 C505.3,204.1 515.8,202.7 522.0,202.2 C526.2,202.0 530.3,202.4 534.5,203.5 C538.7,204.6 542.8,207.8 547.0,209.0 C551.2,210.2 555.3,210.1 559.5,210.5 C564.3,211.0 570.3,211.5 575.8,212.0 L575.8,213.5 C570.3,213.3 564.3,212.6 559.5,213.0 C555.3,213.4 551.2,215.2 547.0,216.0 C542.8,216.8 538.7,217.7 534.5,218.0 C530.3,218.4 526.2,217.4 522.0,218.1 C517.8,218.8 513.7,220.1 509.5,222.2 C505.3,224.2 501.2,227.7 497.0,230.2 C492.8,232.7 488.7,235.4 484.5,236.9 C479.8,238.6 474.2,238.8 469.0,240.1 C462.4,241.8 453.0,244.6 445.0,247.2 C436.8,249.7 428.3,252.3 420.0,255.6 C411.7,259.0 403.3,262.2 395.0,267.2 C386.7,272.3 376.9,280.2 370.0,286.0 C364.6,290.6 353.8,302.2 353.8,302.2 C353.8,302.2 347.1,317.7 343.8,326.0 C338.5,339.0 329.6,362.0 322.5,380.0Z" fill="#008000" fill-opacity="0.3" stroke="#000" stroke-opacity="0.3" stroke-width="0.7"/>
<path d="M322.5,246.0 C330.0,243.1 337.5,240.2 345.0,237.2 C352.9,234.1 361.7,230.0 370.0,227.2 C378.3,224.5 386.7,222.4 395.0,220.5 C403.3,218.6 411.7,217.6 420.0,216.0 C428.3,214.4 436.8,212.8 445.0,211.0 C453.0,209.3 461.0,207.2 469.0,205.5 C477.7,203.6 488.2,201.1 497.0,199.8 C505.3,198.5 515.8,197.8 522.0,197.2 C526.2,196.9 530.3,196.1 534.5,196.5 C538.7,196.9 542.8,199.0 547.0,199.8 C551.2,200.5 555.3,200.5 559.5,201.0 C564.3,201.6 570.3,202.7 575.8,203.5 L575.8,206.0 C570.3,205.2 564.3,203.9 559.5,203.5 C555.3,203.1 551.2,203.1 547.0,203.5 C542.8,203.9 538.7,205.2 534.5,206.0 C530.3,206.8 526.2,207.4 522.0,208.5 C515.8,210.1 505.3,212.8 497.0,215.5 C488.2,218.4 477.7,222.4 469.0,225.7 C461.0,228.8 453.0,232.5 445.0,235.4 C436.8,238.3 428.3,240.7 420.0,243.5 C411.7,246.3 403.3,248.2 395.0,252.0 C386.7,255.8 376.9,261.0 370.0,266.0 C364.6,270.0 353.8,282.2 353.8,282.2 C353.8,282.2 330.2,317.2 325.0,326.0 C324.2,327.4 323.3,332.0 322.5,335.0Z" fill="#ff0000" fill-opacity="0.3" stroke="#000" stroke-opacity="0.3" stroke-width="0.7"/>
<path d="M322.5,268.8 C330.0,264.2 337.5,258.9 345.0,255.0 C352.9,250.9 361.7,247.4 370.0,243.9 C378.3,240.5 386.7,237.0 395.0,234.2 C403.3,231.5 411.7,229.3 420.0,227.4 C428.3,225.5 436.8,224.5 445.0,222.9 C453.0,221.3 461.0,219.5 469.0,217.5 C477.7,215.4 488.2,212.0 497.0,210.0 C505.3,208.1 515.8,206.5 522.0,205.5 C526.2,204.8 530.3,204.1 534.5,203.8 C538.7,203.4 542.8,203.3 547.0,203.2 C551.2,203.2 555.3,202.9 559.5,203.2 C564.3,203.7 570.3,204.9 575.8,205.8" fill="none" stroke="#0000ff" stroke-width="1.6" stroke-linejoin="round"/>
<path d="M322.5,255.0 C330.0,251.7 337.5,248.0 345.0,245.0 C352.9,241.9 361.7,238.8 370.0,236.2 C378.3,233.8 386.7,231.9 395.0,230.0 C403.3,228.1 411.7,226.7 420.0,225.0 C428.3,223.3 436.8,221.7 445.0,220.0 C453.0,218.4 461.0,216.9 469.0,215.0 C477.7,212.9 488.2,209.5 497.0,207.5 C505.3,205.7 515.8,204.2 522.0,203.2 C526.2,202.6 530.3,202.1 534.5,201.8 C538.7,201.4 542.8,201.3 547.0,201.2 C551.2,201.2 555.3,200.8 559.5,201.2 C564.3,201.8 570.3,203.2 575.8,204.2" fill="none" stroke="#0000ff" stroke-width="2.1" stroke-dasharray="6.8,4.7" stroke-dashoffset="0"/>
<path d="M322.5,287.2 C330.0,282.7 337.5,277.6 345.0,273.5 C352.9,269.2 361.7,265.2 370.0,261.2 C378.3,257.2 386.7,253.0 395.0,249.7 C403.3,246.3 411.7,243.7 420.0,241.1 C428.3,238.5 436.8,236.3 445.0,233.9 C453.0,231.6 461.0,229.1 469.0,226.8 C477.7,224.2 488.2,220.7 497.0,218.5 C505.3,216.4 515.8,214.5 522.0,213.5 C526.2,212.8 530.3,212.6 534.5,212.2 C538.7,211.9 542.8,211.7 547.0,211.5 C551.2,211.3 556.2,210.9 559.5,211.0 C562.0,211.1 564.5,211.9 567.0,212.2 C569.7,212.6 572.8,212.8 575.8,213.0" fill="none" stroke="#008000" stroke-width="1.6" stroke-linejoin="round"/>
<path d="M322.5,278.5 C330.0,273.9 337.5,268.7 345.0,264.8 C352.9,260.6 361.7,256.9 370.0,253.7 C378.3,250.5 386.7,247.9 395.0,245.5 C403.3,243.1 411.7,241.3 420.0,239.1 C428.3,236.9 436.8,234.4 445.0,232.1 C453.0,229.9 461.0,227.8 469.0,225.5 C477.7,223.0 488.2,219.3 497.0,217.2 C505.3,215.3 515.8,214.0 522.0,213.0 C526.2,212.4 530.3,211.8 534.5,211.5 C538.7,211.2 542.8,211.2 547.0,211.0 C551.2,210.8 556.2,210.4 559.5,210.5 C562.0,210.6 564.5,211.5 567.0,211.8 C569.7,212.0 572.8,212.1 575.8,212.2" fill="none" stroke="#008000" stroke-width="2.1" stroke-dasharray="6.8,4.7" stroke-dashoffset="0"/>
<path d="M322.5,268.2 C330.0,263.7 337.5,258.4 345.0,254.5 C352.9,250.4 361.7,246.9 370.0,243.4 C378.3,240.0 386.7,236.5 395.0,233.8 C403.3,231.0 411.7,228.8 420.0,226.9 C428.3,225.0 436.8,224.0 445.0,222.4 C453.0,220.8 461.0,219.0 469.0,217.0 C477.7,214.9 488.2,211.5 497.0,209.5 C505.3,207.6 515.8,206.0 522.0,205.0 C526.2,204.3 530.3,203.6 534.5,203.2 C538.7,202.9 542.8,202.8 547.0,202.8 C551.2,202.7 555.3,202.4 559.5,202.8 C564.3,203.2 570.3,204.4 575.8,205.2" fill="none" stroke="#ff0000" stroke-width="1.6" stroke-linejoin="round"/>
<path d="M322.5,254.8 C330.0,251.4 337.5,247.7 345.0,244.8 C352.9,241.6 361.7,238.5 370.0,236.0 C378.3,233.5 386.7,231.6 395.0,229.8 C403.3,227.9 411.7,226.4 420.0,224.8 C428.3,223.1 436.8,221.4 445.0,219.8 C453.0,218.1 461.0,216.7 469.0,214.8 C477.7,212.7 488.2,209.2 497.0,207.2 C505.3,205.4 515.8,204.0 522.0,203.0 C526.2,202.4 530.3,201.8 534.5,201.5 C538.7,201.2 542.8,201.1 547.0,201.0 C551.2,200.9 555.3,200.6 559.5,201.0 C564.3,201.5 570.3,203.0 575.8,204.0" fill="none" stroke="#ff0000" stroke-width="2.1" stroke-dasharray="6.8,4.7" stroke-dashoffset="0"/>
</g>
<g clip-path="url(#c20)">
<path d="M50.5,431.5 C58.0,429.4 65.5,427.0 73.0,425.2 C80.9,423.4 89.7,421.7 98.0,420.2 C106.3,418.8 114.7,417.8 123.0,416.5 C131.3,415.2 139.7,414.0 148.0,412.8 C156.3,411.5 166.5,410.1 173.0,409.3 C177.7,408.7 182.3,408.3 187.0,407.8 C193.2,407.0 202.7,405.9 210.5,404.6 C218.3,403.3 226.2,401.7 234.0,400.0 C241.8,398.3 249.7,396.3 257.5,394.5 C265.3,392.7 275.1,390.8 281.0,389.4 C284.9,388.4 288.8,386.5 292.7,385.8 C296.6,385.1 301.0,385.2 304.5,385.4 C307.6,385.6 311.1,386.3 313.8,387.0 C316.2,387.6 318.5,388.6 320.9,389.4 L320.9,390.1 C318.5,389.5 316.1,388.3 313.8,388.2 C311.5,388.1 308.8,388.6 306.8,389.7 C305.2,390.6 303.7,393.8 302.1,394.9 C299.8,396.6 295.8,398.4 292.7,399.9 C289.2,401.5 284.9,403.3 281.0,404.6 C277.1,406.0 273.1,406.8 269.2,408.2 C265.3,409.6 261.4,411.7 257.5,413.2 C251.6,415.4 241.8,418.9 234.0,421.4 C226.2,423.9 218.3,426.3 210.5,428.3 C202.7,430.3 193.2,431.9 187.0,433.4 C182.3,434.5 177.7,435.7 173.0,437.2 C166.5,439.3 156.3,442.3 148.0,446.0 C139.7,449.7 131.3,454.4 123.0,459.5 C114.7,464.6 103.4,472.7 98.0,476.6 C95.5,478.4 93.0,479.5 90.5,483.1 C82.6,494.5 63.8,524.4 50.5,545.0Z" fill="#0000ff" fill-opacity="0.3" stroke="#000" stroke-opacity="0.3" stroke-width="0.7"/>
<path d="M50.5,431.0 C58.0,429.4 65.5,427.5 73.0,426.1 C80.9,424.6 89.7,423.2 98.0,422.2 C106.3,421.2 114.7,420.9 123.0,420.2 C131.3,419.4 139.7,418.5 148.0,417.7 C156.3,416.9 164.8,415.9 173.0,415.2 C181.0,414.5 190.8,414.2 197.0,413.2 C201.5,412.5 206.0,410.7 210.5,409.2 C216.7,407.2 226.2,403.8 234.0,401.2 C241.8,398.6 250.4,395.4 257.5,393.5 C263.8,391.8 271.2,390.8 276.3,389.9 C280.2,389.2 284.5,388.4 288.0,388.2 C291.1,388.0 294.3,388.2 297.4,388.7 C300.5,389.2 303.7,390.5 306.8,391.0 C310.7,391.6 316.2,391.8 320.9,392.2 L320.9,392.0 C316.2,391.9 310.7,392.1 306.8,391.8 C303.7,391.6 300.5,390.7 297.4,390.6 C294.3,390.6 291.1,390.9 288.0,391.6 C284.5,392.4 280.2,394.0 276.3,395.3 C271.2,396.9 262.6,399.5 257.5,401.5 C253.6,402.9 249.6,404.9 245.7,406.8 C241.8,408.8 237.9,411.6 234.0,413.2 C228.1,415.7 218.3,418.9 210.5,421.5 C202.7,424.1 193.8,426.9 187.0,428.9 C181.3,430.5 175.7,431.6 170.0,433.4 C163.0,435.7 153.3,438.9 145.0,442.7 C136.7,446.4 128.2,450.8 120.0,456.0 C111.8,461.1 100.8,469.1 95.5,473.6 C93.0,475.7 90.5,479.3 88.0,483.0 C80.5,494.1 63.0,521.0 50.5,540.0Z" fill="#008000" fill-opacity="0.3" stroke="#000" stroke-opacity="0.3" stroke-width="0.7"/>
<path d="M50.5,418.0 C58.0,415.2 65.5,412.2 73.0,409.8 C80.9,407.1 89.7,404.5 98.0,402.2 C106.3,400.0 114.7,397.8 123.0,396.0 C131.3,394.2 139.7,393.0 148.0,391.3 C156.3,389.6 166.5,387.1 173.0,385.9 C177.7,385.0 182.3,384.4 187.0,383.9 C193.2,383.3 202.7,382.8 210.5,382.3 C218.3,381.8 226.2,381.5 234.0,381.1 C241.8,380.7 250.4,380.6 257.5,380.0 C263.8,379.5 271.2,378.8 276.3,377.6 C280.2,376.7 284.5,374.5 288.0,372.9 C291.1,371.5 294.6,369.2 297.4,368.2 C299.8,367.4 302.1,366.9 304.5,367.0 C306.8,367.1 309.2,368.7 311.5,369.0 C314.2,369.4 317.8,369.3 320.9,369.4 L320.9,370.3 C318.5,370.2 316.1,369.9 313.8,370.0 C311.5,370.1 309.1,370.2 306.8,370.8 C304.1,371.6 300.5,373.1 297.4,374.6 C294.3,376.1 291.1,378.4 288.0,379.9 C284.5,381.6 280.2,383.1 276.3,384.7 C271.2,386.7 262.6,389.4 257.5,392.0 C253.6,393.9 249.6,396.9 245.7,399.8 C241.8,402.8 237.9,407.2 234.0,409.7 C228.1,413.5 218.3,418.9 210.5,422.7 C202.7,426.4 193.3,429.9 187.0,432.2 C182.2,433.9 177.3,434.8 172.5,436.4 C165.9,438.6 155.8,441.6 147.5,445.3 C139.2,449.1 130.8,453.7 122.5,458.8 C114.2,463.9 102.9,471.8 97.5,475.8 C95.0,477.7 92.5,479.4 90.0,483.0 C82.2,494.4 63.7,523.7 50.5,544.0Z" fill="#ff0000" fill-opacity="0.3" stroke="#000" stroke-opacity="0.3" stroke-width="0.7"/>
<path d="M50.5,459.8 C58.0,456.5 65.5,453.2 73.0,449.9 C80.9,446.4 89.7,441.9 98.0,438.8 C106.3,435.6 114.7,433.5 123.0,431.2 C131.3,429.0 139.7,426.8 148.0,425.0 C156.3,423.2 164.8,421.9 173.0,420.3 C181.0,418.8 190.8,416.8 197.0,415.6 C201.5,414.7 206.0,413.9 210.5,413.0 C216.7,411.8 226.2,409.8 234.0,408.2 C241.8,406.6 250.4,405.1 257.5,403.5 C263.8,402.1 271.2,400.4 276.3,398.8 C280.2,397.6 284.5,395.5 288.0,394.1 C291.1,392.9 294.3,391.5 297.4,390.5 C300.5,389.5 304.1,388.6 306.8,388.2 C309.1,387.9 311.5,387.9 313.8,388.2 C316.1,388.5 318.5,389.5 320.9,390.1" fill="none" stroke="#0000ff" stroke-width="1.6" stroke-linejoin="round"/>
<path d="M50.5,431.5 C58.0,429.6 65.5,427.4 73.0,425.8 C80.9,424.0 89.7,422.3 98.0,421.0 C106.3,419.7 114.7,418.8 123.0,417.8 C131.3,416.7 139.7,415.6 148.0,414.5 C156.3,413.4 166.5,411.8 173.0,411.0 C177.7,410.4 182.3,410.1 187.0,409.6 C193.2,408.9 202.7,408.0 210.5,407.0 C218.3,406.0 226.2,404.7 234.0,403.5 C241.8,402.3 250.4,401.2 257.5,400.0 C263.8,398.9 271.2,397.6 276.3,396.4 C280.2,395.5 284.5,394.1 288.0,392.9 C291.1,391.9 294.3,390.4 297.4,389.4 C300.5,388.4 304.1,387.4 306.8,387.0 C309.1,386.7 311.5,386.6 313.8,387.0 C316.1,387.4 318.5,388.6 320.9,389.4" fill="none" stroke="#0000ff" stroke-width="2.1" stroke-dasharray="6.8,4.7" stroke-dashoffset="0"/>
<path d="M50.5,460.0 C58.0,456.7 65.5,453.5 73.0,450.1 C80.9,446.6 89.7,442.1 98.0,439.0 C106.3,435.9 114.7,433.8 123.0,431.5 C131.3,429.2 139.7,427.1 148.0,425.2 C156.3,423.4 164.8,422.1 173.0,420.5 C181.0,419.0 190.8,416.9 197.0,415.6 C201.5,414.7 206.0,413.8 210.5,412.6 C216.7,411.0 226.2,408.1 234.0,405.8 C241.8,403.5 250.4,400.9 257.5,398.8 C263.8,397.0 271.2,394.8 276.3,393.4 C280.2,392.3 284.5,390.8 288.0,390.1 C291.1,389.5 294.3,389.2 297.4,389.4 C300.5,389.6 304.1,390.7 306.8,391.2 C309.1,391.6 311.5,392.1 313.8,392.2 C316.1,392.3 318.5,391.9 320.9,391.7" fill="none" stroke="#008000" stroke-width="1.6" stroke-linejoin="round"/>
<path d="M50.5,439.3 C58.0,437.3 65.5,435.2 73.0,433.3 C80.9,431.3 89.7,429.0 98.0,427.2 C106.3,425.4 114.7,424.0 123.0,422.7 C131.3,421.4 139.7,420.4 148.0,419.2 C156.3,418.0 164.8,416.9 173.0,415.8 C181.0,414.6 190.8,413.4 197.0,412.3 C201.5,411.6 206.0,410.4 210.5,409.4 C216.7,407.9 226.2,405.8 234.0,403.8 C241.8,401.7 250.4,398.8 257.5,397.0 C263.8,395.4 271.2,394.1 276.3,392.9 C280.2,392.0 284.5,390.5 288.0,389.9 C291.1,389.4 294.3,389.0 297.4,389.2 C300.5,389.4 304.1,390.5 306.8,391.0 C309.1,391.4 311.5,392.0 313.8,392.2 C316.1,392.4 318.5,392.2 320.9,392.2" fill="none" stroke="#008000" stroke-width="2.1" stroke-dasharray="6.8,4.7" stroke-dashoffset="0"/>
<path d="M50.5,446.5 C58.0,442.8 65.5,438.8 73.0,435.2 C80.9,431.5 89.7,427.1 98.0,424.0 C106.3,420.9 114.7,418.9 123.0,416.5 C131.3,414.1 139.7,411.9 148.0,409.8 C156.3,407.6 166.5,405.0 173.0,403.5 C177.7,402.4 182.3,401.5 187.0,400.8 C193.2,399.8 202.7,398.9 210.5,397.6 C218.3,396.3 226.2,394.5 234.0,392.9 C241.8,391.2 250.4,389.5 257.5,387.7 C263.8,386.1 271.2,384.0 276.3,382.3 C280.2,381.0 284.5,379.2 288.0,377.6 C291.1,376.2 294.3,374.2 297.4,372.9 C300.5,371.6 304.1,370.5 306.8,369.9 C309.1,369.4 311.5,369.4 313.8,369.4 C316.1,369.4 318.5,369.7 320.9,369.9" fill="none" stroke="#ff0000" stroke-width="1.6" stroke-linejoin="round"/>
<path d="M50.5,419.0 C58.0,416.9 65.5,414.5 73.0,412.8 C80.9,410.9 89.7,409.2 98.0,407.8 C106.3,406.3 114.7,405.2 123.0,404.0 C131.3,402.8 139.7,401.5 148.0,400.2 C156.3,399.0 166.5,397.6 173.0,396.8 C177.7,396.1 182.3,395.7 187.0,395.1 C193.2,394.2 202.7,392.8 210.5,391.7 C218.3,390.6 226.2,389.8 234.0,388.7 C241.8,387.6 250.4,386.7 257.5,385.4 C263.8,384.3 271.2,382.6 276.3,381.1 C280.2,379.9 284.5,377.9 288.0,376.4 C291.1,375.1 294.3,373.4 297.4,372.2 C300.5,371.0 303.7,369.8 306.8,369.4 C310.7,368.9 316.2,369.4 320.9,369.4" fill="none" stroke="#ff0000" stroke-width="2.1" stroke-dasharray="6.8,4.7" stroke-dashoffset="0"/>
</g>
<g clip-path="url(#c21)">
<path d="M322.5,402.5 C330.0,400.2 337.5,397.7 345.0,395.5 C352.9,393.2 361.7,390.4 370.0,388.5 C378.3,386.6 386.7,385.4 395.0,384.2 C403.3,383.1 411.7,382.5 420.0,381.8 C428.3,381.0 436.8,380.8 445.0,380.0 C453.0,379.2 461.0,378.2 469.0,376.8 C477.7,375.2 488.2,371.9 497.0,370.5 C505.3,369.2 515.8,368.8 522.0,368.5 C526.2,368.3 530.3,368.4 534.5,368.5 C538.7,368.6 542.8,370.1 547.0,369.2 C551.2,368.4 555.3,365.2 559.5,363.5 C563.7,361.8 567.8,359.5 572.0,358.8 C576.2,358.0 580.8,358.8 584.5,359.2 C587.8,359.7 591.2,360.9 594.5,361.8 L594.5,362.5 C591.2,362.0 587.8,360.4 584.5,361.0 C580.8,361.7 576.2,365.2 572.0,366.8 C567.8,368.3 563.7,369.7 559.5,370.5 C555.3,371.3 551.2,370.8 547.0,371.8 C540.8,373.2 530.3,376.6 522.0,379.2 C513.7,381.9 505.3,384.8 497.0,387.5 C488.7,390.2 476.7,393.8 472.0,395.5 C471.0,395.9 470.0,397.5 469.0,398.0 C464.8,399.9 451.8,405.1 447.0,407.0 C444.7,407.9 442.3,409.0 440.0,409.7 C437.2,410.5 433.3,410.9 430.4,411.8 C427.7,412.6 425.0,413.8 422.3,414.8 C419.4,415.9 416.1,416.5 413.2,418.3 C410.5,420.0 407.7,423.2 405.2,425.4 C402.8,427.5 399.8,429.9 398.1,431.4 C397.1,432.3 396.0,433.9 395.0,434.5 C390.3,437.3 376.9,442.6 370.0,448.0 C364.6,452.2 353.8,466.8 353.8,466.8 C353.8,466.8 352.7,477.5 352.5,483.0 C352.5,483.0 352.5,500.0 352.5,500.0 C347.5,506.2 332.5,513.3 322.5,520.0Z" fill="#0000ff" fill-opacity="0.3" stroke="#000" stroke-opacity="0.3" stroke-width="0.7"/>
<path d="M322.5,433.0 C330.0,430.9 337.5,428.7 345.0,426.8 C352.9,424.7 361.7,422.2 370.0,420.5 C378.3,418.8 386.7,417.8 395.0,416.8 C403.3,415.7 411.7,415.2 420.0,414.2 C428.3,413.3 436.8,412.3 445.0,411.2 C453.0,410.2 461.0,410.2 469.0,408.0 C477.7,405.6 488.2,399.9 497.0,396.8 C505.3,393.8 513.7,391.2 522.0,389.2 C530.3,387.3 540.8,385.8 547.0,385.0 C551.2,384.4 555.8,384.0 559.5,384.2 C562.8,384.5 566.2,386.1 569.5,386.8 C573.7,387.6 580.3,388.9 584.5,389.2 C587.8,389.6 591.2,389.1 594.5,389.0 L594.5,389.5 C591.2,389.8 587.8,390.7 584.5,390.5 C580.3,390.2 573.7,387.0 569.5,388.0 C566.2,388.8 562.8,394.2 559.5,396.8 C555.8,399.7 551.2,403.2 547.0,405.5 C542.8,407.8 538.7,408.8 534.5,410.5 C530.3,412.2 526.2,414.3 522.0,415.5 C515.8,417.2 505.3,419.0 497.0,421.0 C488.2,423.2 477.7,426.4 469.0,428.5 C461.0,430.4 453.0,430.7 445.0,433.5 C436.8,436.3 428.3,440.6 420.0,445.5 C411.7,450.4 402.7,456.8 395.0,463.0 C387.9,468.7 380.8,473.5 373.8,483.0 C361.7,499.2 339.6,534.3 322.5,560.0Z" fill="#008000" fill-opacity="0.3" stroke="#000" stroke-opacity="0.3" stroke-width="0.7"/>
<path d="M322.5,402.0 C330.0,399.3 337.5,396.4 345.0,394.0 C352.9,391.5 361.7,388.9 370.0,387.0 C378.3,385.1 386.7,383.9 395.0,382.8 C403.3,381.6 411.7,381.0 420.0,380.2 C428.3,379.5 436.8,379.3 445.0,378.5 C453.0,377.7 461.0,376.5 469.0,375.2 C477.7,373.9 488.2,371.3 497.0,370.1 C505.3,369.0 515.8,368.6 522.0,368.3 C526.2,368.1 530.3,368.3 534.5,368.5 C538.7,368.7 542.8,370.1 547.0,369.2 C551.2,368.4 555.3,365.2 559.5,363.5 C563.7,361.8 567.8,359.5 572.0,358.8 C576.2,358.0 580.8,358.8 584.5,359.2 C587.8,359.7 591.2,360.9 594.5,361.8 L594.5,362.5 C591.2,362.0 587.8,360.4 584.5,361.0 C580.8,361.7 576.2,365.2 572.0,366.8 C567.8,368.3 563.7,369.7 559.5,370.5 C555.3,371.3 551.2,370.8 547.0,371.8 C540.8,373.2 530.3,376.6 522.0,379.2 C513.7,381.9 505.3,384.7 497.0,387.5 C488.7,390.3 476.7,394.0 472.0,395.8 C471.0,396.2 470.0,397.8 469.0,398.3 C464.8,400.2 451.8,405.3 447.0,407.2 C444.7,408.1 442.3,409.2 440.0,409.9 C437.2,410.7 433.3,411.2 430.4,412.1 C427.7,412.9 425.0,414.2 422.3,415.3 C419.4,416.4 416.1,417.2 413.2,419.0 C410.5,420.7 407.7,424.0 405.2,426.2 C402.8,428.3 399.8,430.8 398.1,432.4 C397.1,433.3 396.0,434.9 395.0,435.5 C390.3,438.4 376.7,444.1 370.0,449.5 C365.0,453.6 354.9,468.0 354.9,468.0 C354.9,468.0 353.9,477.7 353.7,483.0 C353.7,483.0 353.7,500.0 353.7,500.0 C348.5,506.2 332.9,513.3 322.5,520.0Z" fill="#ff0000" fill-opacity="0.3" stroke="#000" stroke-opacity="0.3" stroke-width="0.7"/>
<path d="M322.5,429.8 C330.0,426.4 337.5,422.7 345.0,419.8 C352.9,416.6 361.7,413.4 370.0,410.8 C378.3,408.2 386.7,406.4 395.0,404.2 C403.3,402.1 411.7,400.1 420.0,398.0 C428.3,395.9 436.8,393.7 445.0,391.8 C453.0,390.0 461.0,388.9 469.0,387.0 C477.7,385.0 488.2,381.8 497.0,379.8 C505.3,377.8 513.7,376.2 522.0,374.8 C530.3,373.3 540.8,372.1 547.0,371.0 C551.2,370.2 555.3,369.2 559.5,368.0 C563.7,366.8 567.8,364.7 572.0,363.5 C576.2,362.3 580.8,360.9 584.5,360.8 C587.8,360.6 591.2,361.9 594.5,362.5" fill="none" stroke="#0000ff" stroke-width="1.6" stroke-linejoin="round"/>
<path d="M322.5,403.6 C330.0,401.6 337.5,399.2 345.0,397.6 C352.9,396.1 361.7,395.2 370.0,394.1 C378.3,393.0 386.7,392.0 395.0,390.9 C403.3,389.8 411.7,388.6 420.0,387.6 C428.3,386.5 436.8,385.4 445.0,384.4 C453.0,383.4 461.0,382.7 469.0,381.4 C477.7,380.0 488.2,377.4 497.0,375.9 C505.3,374.5 513.7,373.6 522.0,372.6 C530.3,371.7 540.8,371.1 547.0,370.1 C551.2,369.5 555.3,368.1 559.5,366.9 C563.7,365.6 567.8,363.6 572.0,362.6 C576.2,361.7 580.8,361.3 584.5,361.4 C587.8,361.5 591.2,362.6 594.5,363.1" fill="none" stroke="#0000ff" stroke-width="2.1" stroke-dasharray="6.8,4.7" stroke-dashoffset="0"/>
<path d="M322.5,461.8 C330.0,458.0 337.5,453.7 345.0,450.5 C352.9,447.1 361.7,444.4 370.0,441.6 C378.3,438.7 386.7,435.8 395.0,433.2 C403.3,430.7 411.7,428.6 420.0,426.5 C428.3,424.4 436.8,422.1 445.0,420.5 C453.0,418.9 461.0,418.7 469.0,417.0 C477.7,415.1 488.2,411.8 497.0,409.2 C505.3,406.9 513.7,404.2 522.0,401.8 C530.3,399.2 540.8,396.2 547.0,394.2 C551.2,392.9 555.8,391.2 559.5,390.0 C562.8,389.0 566.2,387.2 569.5,387.2 C573.7,387.2 580.3,389.7 584.5,390.0 C587.8,390.3 591.2,389.5 594.5,389.2" fill="none" stroke="#008000" stroke-width="1.6" stroke-linejoin="round"/>
<path d="M322.5,445.5 C330.0,442.6 337.5,439.1 345.0,436.8 C352.9,434.3 361.7,432.5 370.0,430.7 C378.3,428.8 386.7,427.3 395.0,425.8 C403.3,424.2 411.7,423.0 420.0,421.7 C428.3,420.4 436.8,419.2 445.0,418.0 C453.0,416.8 461.0,416.2 469.0,414.5 C477.7,412.6 488.2,409.2 497.0,406.8 C505.3,404.5 513.7,402.3 522.0,400.0 C530.3,397.7 540.8,394.8 547.0,393.0 C551.2,391.8 555.8,390.3 559.5,389.2 C562.8,388.3 566.2,386.6 569.5,386.8 C573.7,386.9 580.3,389.6 584.5,390.0 C587.8,390.3 591.2,389.5 594.5,389.2" fill="none" stroke="#008000" stroke-width="2.1" stroke-dasharray="6.8,4.7" stroke-dashoffset="0"/>
<path d="M322.5,429.0 C330.0,425.7 337.5,422.0 345.0,419.0 C352.9,415.8 361.7,412.7 370.0,410.1 C378.3,407.5 386.7,405.6 395.0,403.5 C403.3,401.4 411.7,399.3 420.0,397.2 C428.3,395.2 436.8,392.9 445.0,391.1 C453.0,389.3 461.0,388.1 469.0,386.2 C477.7,384.2 488.2,381.0 497.0,379.0 C505.3,377.1 513.7,375.5 522.0,374.0 C530.3,372.5 540.8,371.4 547.0,370.2 C551.2,369.5 555.3,368.5 559.5,367.2 C563.7,366.0 567.8,364.1 572.0,363.0 C576.2,361.9 580.8,360.6 584.5,360.5 C587.8,360.4 591.2,361.7 594.5,362.2" fill="none" stroke="#ff0000" stroke-width="1.6" stroke-linejoin="round"/>
<path d="M322.5,402.8 C330.0,400.8 337.5,398.3 345.0,396.8 C352.9,395.2 361.7,394.3 370.0,393.2 C378.3,392.1 386.7,391.1 395.0,390.0 C403.3,388.9 411.7,387.8 420.0,386.7 C428.3,385.6 436.8,384.5 445.0,383.5 C453.0,382.5 461.0,381.8 469.0,380.5 C477.7,379.1 488.2,376.5 497.0,375.0 C505.3,373.6 513.7,372.7 522.0,371.8 C530.3,370.8 540.8,370.2 547.0,369.2 C551.2,368.6 555.3,367.2 559.5,366.0 C563.7,364.8 567.8,362.7 572.0,361.8 C576.2,360.8 580.8,360.4 584.5,360.5 C587.8,360.6 591.2,361.7 594.5,362.2" fill="none" stroke="#ff0000" stroke-width="2.1" stroke-dasharray="6.8,4.7" stroke-dashoffset="0"/>
</g>
<g clip-path="url(#c30)">
<path d="M50.5,533.2 C58.0,531.0 65.5,529.1 73.0,526.5 C80.9,523.8 89.7,519.4 98.0,517.0 C106.3,514.6 114.7,513.7 123.0,512.3 C131.3,510.9 139.7,509.8 148.0,508.8 C156.3,507.7 164.8,506.7 173.0,506.0 C181.0,505.3 190.5,505.0 197.0,504.8 C202.0,504.6 207.0,504.8 212.0,504.8 C218.7,504.8 228.7,504.9 237.0,504.8 C245.3,504.6 253.7,504.1 262.0,504.0 C270.3,503.9 278.7,503.9 287.0,504.0 C295.3,504.1 306.2,504.5 312.0,504.8 C315.3,504.9 318.7,505.2 322.0,505.5 L322.0,507.0 C318.7,506.9 315.3,506.7 312.0,506.8 C308.2,506.8 303.7,506.9 299.5,507.2 C295.3,507.6 291.2,508.4 287.0,509.0 C280.8,509.8 270.3,511.3 262.0,512.2 C253.7,513.2 245.3,513.7 237.0,514.9 C228.7,516.0 218.7,517.5 212.0,519.2 C207.0,520.5 202.0,523.7 197.0,525.1 C190.5,527.0 181.0,528.4 173.0,530.3 C164.8,532.4 156.3,534.3 148.0,537.3 C139.7,540.3 131.3,544.3 123.0,548.5 C114.7,552.6 105.0,557.4 98.0,562.2 C92.3,566.2 80.9,577.6 80.9,577.6 C80.9,577.6 72.4,588.9 68.1,593.7 C63.0,599.4 56.4,605.6 50.5,611.5Z" fill="#0000ff" fill-opacity="0.3" stroke="#000" stroke-opacity="0.3" stroke-width="0.7"/>
<path d="M50.5,588.3 C58.4,585.2 69.1,580.8 74.2,578.9 C76.4,578.1 78.7,578.1 80.9,576.9 C84.9,574.8 93.2,569.3 98.0,566.5 C102.0,564.2 106.0,562.1 110.0,560.3 C114.2,558.4 118.7,556.4 123.0,555.0 C129.3,553.0 139.7,549.9 148.0,548.0 C156.3,546.1 166.5,544.5 173.0,543.5 C177.7,542.8 182.6,542.7 187.0,542.2 C191.2,541.9 195.3,541.0 199.5,541.0 C203.7,541.0 207.8,542.1 212.0,542.2 C218.2,542.5 228.7,542.4 237.0,542.2 C245.3,542.1 253.7,541.9 262.0,541.5 C270.3,541.1 278.7,539.9 287.0,539.8 C295.3,539.6 306.2,540.4 312.0,540.5 C315.3,540.6 318.7,540.5 322.0,540.5 L322.0,541.5 C318.7,541.5 315.3,541.6 312.0,541.5 C308.2,541.4 303.7,540.5 299.5,541.0 C295.3,541.5 291.2,544.1 287.0,544.8 C280.8,545.7 270.3,546.0 262.0,546.5 C253.7,547.0 243.2,547.5 237.0,548.0 C232.8,548.4 228.7,548.6 224.5,549.8 C220.3,550.9 216.2,552.9 212.0,554.8 C207.8,556.6 203.7,558.9 199.5,560.8 C195.3,562.6 191.2,564.0 187.0,565.8 C182.6,567.6 177.7,569.7 173.0,571.8 C166.5,574.8 156.3,579.3 148.0,583.5 C139.7,587.7 131.3,591.8 123.0,597.2 C114.7,602.7 105.0,610.5 98.0,616.0 C92.3,620.4 85.1,625.8 80.9,630.0 C78.3,632.6 75.6,635.8 73.0,641.0 C67.9,651.0 58.0,673.7 50.5,690.0Z" fill="#008000" fill-opacity="0.3" stroke="#000" stroke-opacity="0.3" stroke-width="0.7"/>
<path d="M50.5,529.0 C58.0,526.7 65.5,524.4 73.0,522.0 C80.9,519.5 89.7,516.0 98.0,514.0 C106.3,512.0 114.7,511.0 123.0,509.8 C131.3,508.6 139.7,507.6 148.0,506.8 C156.3,505.9 164.8,505.2 173.0,504.8 C181.0,504.3 190.5,504.1 197.0,504.0 C202.0,503.9 207.0,504.1 212.0,504.0 C218.7,503.9 228.7,503.7 237.0,503.5 C245.3,503.3 253.7,503.2 262.0,503.0 C270.3,502.8 278.7,502.4 287.0,502.2 C295.3,502.1 306.2,502.2 312.0,502.2 C315.3,502.2 318.7,502.2 322.0,502.2 L322.0,504.8 C318.7,504.9 315.3,505.1 312.0,505.2 C306.2,505.5 295.3,506.1 287.0,506.5 C278.7,506.9 270.3,507.2 262.0,507.8 C253.7,508.3 245.3,508.6 237.0,509.7 C228.7,510.7 218.7,512.6 212.0,514.1 C207.0,515.2 202.0,517.6 197.0,518.7 C190.5,520.1 181.0,520.6 173.0,522.5 C164.8,524.4 156.3,527.1 148.0,530.1 C139.7,533.0 131.3,536.1 123.0,540.1 C114.7,544.1 105.0,549.4 98.0,554.0 C92.3,557.7 80.9,567.5 80.9,567.5 C80.9,567.5 76.4,575.8 74.2,578.9 C69.1,586.0 58.4,599.6 50.5,610.0Z" fill="#ff0000" fill-opacity="0.3" stroke="#000" stroke-opacity="0.3" stroke-width="0.7"/>
<path d="M50.5,560.2 C58.0,556.1 65.5,551.7 73.0,547.8 C80.9,543.6 89.7,538.7 98.0,535.2 C106.3,531.8 114.7,529.3 123.0,527.0 C131.3,524.7 139.7,523.1 148.0,521.5 C156.3,519.9 164.8,518.7 173.0,517.5 C181.0,516.4 190.5,515.6 197.0,514.5 C202.0,513.7 207.0,511.8 212.0,511.2 C218.7,510.3 228.7,509.9 237.0,509.5 C245.3,509.1 253.7,508.8 262.0,508.5 C270.3,508.2 278.7,507.8 287.0,507.5 C295.3,507.2 306.2,507.0 312.0,507.0 C315.3,507.0 318.7,507.2 322.0,507.2" fill="none" stroke="#0000ff" stroke-width="1.6" stroke-linejoin="round"/>
<path d="M50.5,546.2 C58.0,542.9 65.5,539.2 73.0,536.2 C80.9,533.1 89.7,529.8 98.0,527.5 C106.3,525.2 114.7,523.9 123.0,522.2 C131.3,520.6 139.7,519.2 148.0,517.9 C156.3,516.5 164.8,514.9 173.0,514.0 C181.0,513.1 190.5,513.1 197.0,512.2 C202.0,511.6 207.0,509.6 212.0,509.0 C218.7,508.2 228.7,508.1 237.0,507.8 C245.3,507.4 253.7,507.0 262.0,506.8 C270.3,506.5 278.7,506.1 287.0,506.0 C295.3,505.9 306.2,505.9 312.0,506.0 C315.3,506.0 318.7,506.3 322.0,506.5" fill="none" stroke="#0000ff" stroke-width="2.1" stroke-dasharray="6.8,4.7" stroke-dashoffset="0"/>
<path d="M50.5,611.7 C54.1,609.5 57.8,607.4 61.4,605.0 C65.5,602.3 70.3,598.5 74.8,595.6 C79.3,592.7 83.8,590.1 88.3,587.5 C92.8,584.9 97.2,582.5 101.7,580.1 C106.2,577.8 110.7,575.3 115.1,573.4 C119.4,571.5 123.7,570.0 128.0,568.7 C133.5,567.0 141.3,564.9 148.0,563.2 C155.5,561.4 164.8,559.2 173.0,557.5 C181.0,555.9 190.5,554.7 197.0,553.2 C202.0,552.2 207.0,549.9 212.0,549.0 C218.7,547.8 228.7,546.8 237.0,545.9 C245.3,545.0 253.7,544.5 262.0,543.8 C270.3,543.1 280.8,542.3 287.0,541.8 C291.2,541.4 295.3,540.6 299.5,540.5 C303.7,540.5 309.1,541.0 312.0,541.3 C313.7,541.5 315.3,542.5 317.0,542.5 C318.7,542.5 320.3,541.7 322.0,541.3" fill="none" stroke="#008000" stroke-width="1.6" stroke-linejoin="round"/>
<path d="M50.5,606.3 C54.1,603.8 57.8,601.5 61.4,598.9 C65.5,596.0 70.3,591.8 74.8,588.9 C79.3,586.0 83.8,583.8 88.3,581.5 C92.8,579.3 97.2,577.3 101.7,575.4 C106.2,573.5 110.7,571.7 115.1,570.1 C119.4,568.6 123.7,567.1 128.0,566.0 C133.5,564.6 141.3,563.4 148.0,562.0 C155.5,560.4 164.8,558.2 173.0,556.5 C181.0,554.9 190.5,553.4 197.0,552.0 C202.0,550.9 207.0,549.1 212.0,548.2 C218.7,547.1 228.7,546.0 237.0,545.1 C245.3,544.3 253.7,543.9 262.0,543.3 C270.3,542.7 280.8,541.8 287.0,541.3 C291.2,540.9 295.3,540.1 299.5,540.0 C303.7,540.0 309.1,540.5 312.0,540.8 C313.7,541.0 315.3,542.0 317.0,542.0 C318.7,542.1 320.3,541.5 322.0,541.3" fill="none" stroke="#008000" stroke-width="2.1" stroke-dasharray="6.8,4.7" stroke-dashoffset="0"/>
<path d="M50.5,552.5 C58.0,548.8 65.5,544.8 73.0,541.2 C80.9,537.5 89.7,533.2 98.0,530.0 C106.3,526.8 114.7,524.2 123.0,522.0 C131.3,519.8 139.7,518.3 148.0,516.8 C156.3,515.3 164.8,514.0 173.0,513.0 C181.0,512.1 190.5,511.7 197.0,511.0 C202.0,510.5 207.0,509.5 212.0,509.0 C218.7,508.4 228.7,507.8 237.0,507.2 C245.3,506.8 253.7,506.3 262.0,506.0 C270.3,505.7 278.7,505.5 287.0,505.2 C295.3,505.0 306.2,504.5 312.0,504.2 C315.3,504.1 318.7,504.1 322.0,504.0" fill="none" stroke="#ff0000" stroke-width="1.6" stroke-linejoin="round"/>
<path d="M50.5,535.8 C58.0,533.2 65.5,530.8 73.0,528.2 C80.9,525.5 89.7,521.7 98.0,519.5 C106.3,517.3 114.7,516.2 123.0,514.9 C131.3,513.6 139.7,512.7 148.0,511.8 C156.3,510.8 164.8,509.8 173.0,509.0 C181.0,508.3 190.5,507.7 197.0,507.2 C202.0,506.9 207.0,506.7 212.0,506.5 C218.7,506.2 228.7,505.8 237.0,505.5 C245.3,505.2 253.7,505.0 262.0,504.8 C270.3,504.5 278.7,504.3 287.0,504.0 C295.3,503.7 306.2,503.3 312.0,503.0 C315.3,502.8 318.7,502.5 322.0,502.2" fill="none" stroke="#ff0000" stroke-width="2.1" stroke-dasharray="6.8,4.7" stroke-dashoffset="0"/>
</g>
<g clip-path="url(#c31)">
<path d="M322.5,569.8 C330.0,567.2 337.5,564.8 345.0,562.0 C352.9,559.0 361.7,554.9 370.0,552.0 C378.3,549.1 386.7,546.6 395.0,544.8 C403.3,542.9 411.7,541.7 420.0,541.0 C428.3,540.3 436.7,540.5 445.0,540.5 C453.7,540.5 463.3,541.0 472.0,541.2 C480.3,541.5 488.7,541.7 497.0,542.0 C505.3,542.3 513.7,542.6 522.0,543.0 C530.3,543.4 538.7,544.4 547.0,544.5 C555.3,544.6 564.1,543.8 572.0,543.8 C579.5,543.8 587.0,544.2 594.5,544.5 L594.5,548.0 C587.0,548.0 579.5,548.0 572.0,548.0 C564.1,548.0 555.3,548.1 547.0,548.2 C538.7,548.4 529.8,548.6 522.0,548.8 C514.7,549.0 505.0,549.4 500.0,549.7 C497.3,549.9 494.3,550.2 492.0,550.8 C490.0,551.3 487.9,552.0 486.0,553.0 C484.1,553.9 482.2,555.6 480.3,556.5 C478.0,557.6 474.8,558.5 472.0,559.4 C469.2,560.3 466.4,561.2 463.6,561.9 C459.4,563.0 451.8,564.8 447.0,566.0 C443.0,567.0 439.0,567.8 435.0,569.3 C430.9,570.8 426.8,573.5 422.7,575.2 C416.4,577.9 405.9,580.4 397.5,585.2 C389.1,590.0 379.6,597.8 372.3,604.1 C366.0,609.5 353.5,623.0 353.5,623.0 C353.5,623.0 348.4,635.1 345.9,640.6 C340.7,651.8 330.3,673.5 322.5,690.0Z" fill="#0000ff" fill-opacity="0.3" stroke="#000" stroke-opacity="0.3" stroke-width="0.7"/>
<path d="M322.5,582.2 C330.0,578.9 337.5,575.4 345.0,572.2 C352.9,568.9 361.7,565.2 370.0,562.2 C378.3,559.3 386.7,556.2 395.0,554.8 C403.3,553.2 411.7,554.3 420.0,553.2 C428.3,552.2 436.7,550.1 445.0,548.5 C453.7,546.9 463.3,544.3 472.0,543.5 C480.3,542.7 488.7,543.6 497.0,543.8 C505.3,543.9 513.7,544.5 522.0,544.5 C530.3,544.5 540.8,544.2 547.0,543.8 C551.2,543.5 555.3,542.4 559.5,542.0 C563.7,541.6 568.2,541.5 572.0,541.2 C575.3,541.0 579.3,540.2 582.0,540.5 C584.1,540.7 586.2,542.8 588.2,543.0 C590.3,543.2 592.4,542.3 594.5,542.0 L594.5,543.5 C592.4,543.9 590.3,545.0 588.2,544.8 C586.2,544.5 584.1,542.5 582.0,542.2 C579.3,542.0 575.3,542.7 572.0,543.0 C568.2,543.3 563.7,543.6 559.5,544.0 C555.3,544.4 551.2,545.2 547.0,545.5 C540.8,546.0 530.3,546.5 522.0,547.0 C513.7,547.5 503.2,548.0 497.0,548.8 C492.8,549.2 488.7,550.0 484.5,551.2 C480.3,552.5 476.2,554.4 472.0,556.2 C467.8,558.1 463.5,560.2 459.5,562.5 C455.6,564.7 451.8,568.2 447.9,570.0 C441.8,572.8 431.1,575.9 422.7,579.5 C414.3,583.1 405.9,586.6 397.5,591.5 C389.1,596.4 379.5,602.8 372.3,609.1 C366.3,614.4 354.2,629.3 354.2,629.3 C354.2,629.3 349.5,636.1 347.2,640.6 C341.9,650.7 330.7,673.5 322.5,690.0Z" fill="#008000" fill-opacity="0.3" stroke="#000" stroke-opacity="0.3" stroke-width="0.7"/>
<path d="M322.5,574.8 C330.0,572.9 337.5,571.7 345.0,569.2 C352.9,566.6 361.7,562.1 370.0,559.0 C378.3,556.0 386.7,553.0 395.0,550.8 C403.3,548.5 411.7,546.8 420.0,545.8 C428.3,544.8 436.7,544.9 445.0,544.8 C453.7,544.6 463.3,544.8 472.0,545.0 C480.3,545.2 488.7,545.8 497.0,546.2 C505.3,546.7 513.7,546.9 522.0,547.5 C530.3,548.1 538.7,549.6 547.0,550.0 C555.3,550.4 565.3,550.2 572.0,550.0 C577.0,549.8 583.2,548.8 587.0,548.8 C589.5,548.7 592.0,549.2 594.5,549.5 L594.5,552.0 C592.0,552.2 589.5,552.1 587.0,552.5 C584.1,552.9 580.3,553.8 577.0,554.5 C573.2,555.2 568.7,556.5 564.5,557.0 C559.5,557.6 552.8,557.8 547.0,558.3 C541.3,558.8 535.5,559.5 530.0,560.2 C524.7,560.9 519.3,561.8 514.0,562.7 C508.5,563.6 502.7,564.6 497.0,565.6 C491.3,566.6 485.6,567.4 480.0,568.6 C474.5,569.8 469.0,571.3 463.6,572.8 C458.4,574.3 453.1,575.9 447.9,577.5 C441.1,579.6 431.1,582.0 422.7,585.2 C414.3,588.4 405.9,592.2 397.5,596.6 C389.1,601.0 379.4,606.1 372.3,611.7 C366.4,616.3 354.7,630.5 354.7,630.5 C354.7,630.5 350.6,636.8 348.5,640.6 C343.1,650.5 331.2,673.5 322.5,690.0Z" fill="#ff0000" fill-opacity="0.3" stroke="#000" stroke-opacity="0.3" stroke-width="0.7"/>
<path d="M322.5,594.8 C330.0,590.8 337.5,586.9 345.0,583.0 C352.9,578.8 361.7,573.4 370.0,569.8 C378.3,566.1 386.7,563.4 395.0,561.0 C403.3,558.6 411.7,556.8 420.0,555.5 C428.3,554.2 436.7,553.8 445.0,553.0 C453.7,552.2 463.3,551.1 472.0,550.5 C480.3,549.9 488.7,549.9 497.0,549.5 C505.3,549.1 513.7,548.3 522.0,548.0 C530.3,547.7 538.7,547.7 547.0,547.5 C555.3,547.3 564.1,547.1 572.0,547.0 C579.5,546.9 587.0,547.0 594.5,547.0" fill="none" stroke="#0000ff" stroke-width="1.6" stroke-linejoin="round"/>
<path d="M322.5,581.0 C330.0,578.1 337.5,575.0 345.0,572.2 C352.9,569.2 361.7,565.8 370.0,563.1 C378.3,560.4 386.7,558.0 395.0,556.1 C403.3,554.2 411.7,552.6 420.0,551.5 C428.3,550.4 436.7,550.3 445.0,549.8 C453.7,549.2 463.3,548.5 472.0,548.0 C480.3,547.6 488.7,547.3 497.0,547.0 C505.3,546.7 513.7,546.6 522.0,546.2 C530.3,545.9 538.7,545.3 547.0,545.0 C555.3,544.7 564.1,544.7 572.0,544.5 C579.5,544.3 587.0,544.0 594.5,543.8" fill="none" stroke="#0000ff" stroke-width="2.1" stroke-dasharray="6.8,4.7" stroke-dashoffset="0"/>
<path d="M322.5,611.0 C330.0,607.6 337.5,604.8 345.0,600.6 C352.9,596.2 361.7,589.6 370.0,584.6 C378.3,579.6 386.7,574.1 395.0,570.5 C403.3,566.9 411.7,565.1 420.0,563.0 C428.3,560.9 438.4,559.2 445.0,557.8 C449.8,556.7 455.0,555.7 459.5,554.5 C463.7,553.4 467.8,551.5 472.0,550.8 C478.2,549.6 488.7,548.2 497.0,547.5 C505.3,546.8 513.7,546.7 522.0,546.2 C530.3,545.8 540.8,545.5 547.0,545.0 C551.2,544.7 555.3,543.9 559.5,543.5 C563.7,543.1 568.2,542.8 572.0,542.5 C575.3,542.2 579.3,541.5 582.0,541.8 C584.1,542.0 586.2,544.0 588.2,544.2 C590.3,544.5 592.4,543.4 594.5,543.0" fill="none" stroke="#008000" stroke-width="1.6" stroke-linejoin="round"/>
<path d="M322.5,602.3 C330.0,599.0 337.5,596.2 345.0,592.5 C352.9,588.6 361.7,583.1 370.0,578.9 C378.3,574.7 386.7,570.2 395.0,567.2 C403.3,564.3 411.7,562.8 420.0,561.0 C428.3,559.2 438.4,557.7 445.0,556.5 C449.8,555.6 455.0,554.8 459.5,553.8 C463.7,552.7 467.8,550.8 472.0,550.0 C478.2,548.9 488.7,547.7 497.0,547.0 C505.3,546.3 513.7,546.2 522.0,545.8 C530.3,545.3 540.8,545.0 547.0,544.5 C551.2,544.2 555.3,543.4 559.5,543.0 C563.7,542.6 568.2,542.3 572.0,542.0 C575.3,541.7 579.3,541.0 582.0,541.2 C584.1,541.5 586.2,543.5 588.2,543.8 C590.3,544.0 592.4,542.9 594.5,542.5" fill="none" stroke="#008000" stroke-width="2.1" stroke-dasharray="6.8,4.7" stroke-dashoffset="0"/>
<path d="M322.5,601.0 C330.0,597.3 337.5,593.5 345.0,589.7 C352.9,585.8 361.7,581.1 370.0,577.3 C378.3,573.6 386.7,570.0 395.0,567.2 C403.3,564.5 411.7,562.5 420.0,561.0 C428.3,559.5 436.7,558.8 445.0,558.0 C453.7,557.2 463.3,556.8 472.0,556.2 C480.3,555.8 488.7,555.3 497.0,555.0 C505.3,554.7 513.7,554.2 522.0,554.2 C530.3,554.2 540.8,554.8 547.0,555.0 C551.2,555.1 555.3,555.6 559.5,555.5 C563.7,555.4 567.8,555.1 572.0,554.5 C576.2,553.9 580.8,552.5 584.5,552.0 C587.8,551.5 591.2,551.5 594.5,551.2" fill="none" stroke="#ff0000" stroke-width="1.6" stroke-linejoin="round"/>
<path d="M322.5,587.3 C330.0,584.5 337.5,581.8 345.0,579.1 C352.9,576.2 361.7,572.6 370.0,569.9 C378.3,567.2 386.7,564.8 395.0,562.7 C403.3,560.6 411.7,558.4 420.0,557.2 C428.3,556.1 436.7,555.9 445.0,555.5 C453.7,555.0 463.3,554.9 472.0,554.5 C480.3,554.1 488.7,553.3 497.0,553.0 C505.3,552.7 513.7,552.5 522.0,552.5 C530.3,552.5 538.7,553.0 547.0,553.0 C555.3,553.0 565.8,552.8 572.0,552.5 C576.2,552.3 580.8,551.7 584.5,551.2 C587.8,550.9 591.2,550.4 594.5,550.0" fill="none" stroke="#ff0000" stroke-width="2.1" stroke-dasharray="6.8,4.7" stroke-dashoffset="0"/>
</g>
<g clip-path="url(#c40)">
<path d="M50.5,690.5 C58.0,688.4 65.5,686.3 73.0,684.2 C80.9,682.1 89.7,679.3 98.0,677.5 C106.3,675.7 114.7,674.7 123.0,673.5 C131.3,672.3 139.7,671.5 148.0,670.5 C156.3,669.5 164.8,668.4 173.0,667.5 C181.0,666.6 190.5,666.0 197.0,665.0 C202.0,664.3 207.0,662.5 212.0,661.8 C218.7,660.8 228.7,659.5 237.0,659.2 C245.3,659.0 255.8,660.0 262.0,660.5 C266.2,660.9 270.3,662.1 274.5,662.5 C278.7,662.9 282.8,662.6 287.0,663.0 C291.2,663.4 295.3,664.3 299.5,665.0 C305.3,666.0 314.5,667.8 322.0,669.2 L322.0,670.5 C314.5,669.2 305.3,667.3 299.5,666.5 C295.3,665.9 291.2,665.4 287.0,665.7 C282.8,666.0 278.7,667.5 274.5,668.5 C270.3,669.5 266.2,670.8 262.0,671.5 C255.8,672.5 243.2,673.4 237.0,674.5 C232.8,675.3 228.7,676.6 224.5,678.2 C220.3,679.7 216.2,682.3 212.0,683.7 C207.4,685.2 202.0,686.2 197.0,687.5 C190.5,689.1 181.0,691.2 173.0,693.5 C164.8,695.9 156.3,697.6 148.0,701.8 C139.7,705.9 131.3,711.8 123.0,718.5 C114.6,725.2 104.7,735.7 97.7,742.2 C92.1,747.4 80.9,757.7 80.9,757.7 C80.9,757.7 69.2,785.2 64.1,797.2 C59.6,808.0 55.0,819.1 50.5,830.0Z" fill="#0000ff" fill-opacity="0.3" stroke="#000" stroke-opacity="0.3" stroke-width="0.7"/>
<path d="M50.5,761.7 C56.6,759.2 63.7,756.3 68.8,754.3 C72.8,752.7 76.9,751.3 80.9,749.6 C85.7,747.6 92.1,744.9 97.7,742.2 C104.7,738.8 114.6,733.0 123.0,729.2 C131.3,725.5 139.7,722.1 148.0,719.5 C156.3,716.9 166.5,714.9 173.0,713.5 C177.7,712.6 182.6,712.2 187.0,711.4 C191.2,710.8 195.3,709.8 199.5,709.3 C203.7,708.8 207.8,708.3 212.0,708.4 C218.2,708.4 228.7,709.2 237.0,709.8 C245.3,710.3 253.7,711.1 262.0,711.6 C270.3,712.1 280.8,712.8 287.0,712.8 C291.2,712.8 295.3,711.8 299.5,711.8 C303.7,711.7 308.2,712.1 312.0,712.5 C315.3,712.9 318.7,713.7 322.0,714.2 L322.0,715.8 C318.7,715.3 315.3,714.7 312.0,714.5 C308.2,714.2 303.7,713.8 299.5,714.2 C295.3,714.8 291.2,717.0 287.0,717.5 C280.8,718.2 268.2,718.2 262.0,718.5 C257.8,718.7 253.7,718.9 249.5,719.2 C245.3,719.6 241.2,719.5 237.0,720.5 C232.8,721.5 228.7,723.6 224.5,725.5 C220.3,727.4 216.1,729.6 212.0,731.8 C208.0,733.9 204.0,736.7 200.0,738.5 C194.0,741.2 183.9,744.3 175.8,747.7 C167.6,751.1 159.1,755.0 150.7,759.0 C142.3,763.0 133.9,767.2 125.5,771.6 C117.1,776.0 107.4,781.0 100.3,785.4 C94.4,789.0 88.6,789.2 82.7,798.0 C74.4,810.4 61.2,839.3 50.5,860.0Z" fill="#008000" fill-opacity="0.3" stroke="#000" stroke-opacity="0.3" stroke-width="0.7"/>
<path d="M50.5,686.8 C58.0,684.8 65.5,682.8 73.0,681.0 C80.9,679.1 89.7,677.0 98.0,675.5 C106.3,674.0 114.7,672.8 123.0,671.8 C131.3,670.7 139.7,670.2 148.0,669.2 C156.3,668.3 164.8,667.0 173.0,666.0 C181.0,665.0 190.5,664.0 197.0,663.0 C202.0,662.2 207.0,660.9 212.0,660.0 C218.7,658.8 228.7,656.7 237.0,655.7 C245.3,654.8 255.8,654.5 262.0,654.3 C266.2,654.1 270.3,653.6 274.5,654.0 C278.7,654.4 282.8,656.1 287.0,656.8 C291.2,657.5 295.3,657.9 299.5,658.5 C305.3,659.3 314.5,660.6 322.0,661.8 L322.0,664.8 C314.5,663.5 305.3,661.8 299.5,661.0 C295.3,660.4 291.2,659.6 287.0,659.8 C282.8,659.9 278.7,660.9 274.5,661.8 C270.3,662.6 266.2,664.1 262.0,665.0 C255.8,666.3 245.3,667.9 237.0,669.7 C228.7,671.5 218.7,674.2 212.0,675.9 C207.0,677.2 202.0,678.8 197.0,680.0 C190.5,681.6 181.0,683.6 173.0,685.5 C164.8,687.5 156.3,688.6 148.0,691.8 C139.7,694.9 131.3,699.5 123.0,704.2 C114.7,709.0 105.0,715.6 98.0,720.5 C92.3,724.5 80.9,733.5 80.9,733.5 C80.9,733.5 72.8,748.0 68.8,754.3 C63.7,762.2 56.6,772.2 50.5,781.1Z" fill="#ff0000" fill-opacity="0.3" stroke="#000" stroke-opacity="0.3" stroke-width="0.7"/>
<path d="M50.5,725.0 C58.0,720.9 65.5,716.5 73.0,712.6 C80.9,708.6 89.7,704.1 98.0,700.5 C106.3,696.9 114.7,694.0 123.0,691.2 C131.3,688.5 139.7,686.1 148.0,684.0 C156.3,681.9 164.8,680.0 173.0,678.5 C181.0,677.0 190.5,676.1 197.0,675.1 C202.0,674.3 207.0,673.2 212.0,672.5 C218.7,671.5 228.7,670.3 237.0,669.2 C245.3,668.2 255.8,667.0 262.0,666.2 C266.2,665.8 270.3,665.3 274.5,665.0 C278.7,664.7 282.8,664.4 287.0,664.5 C291.2,664.6 295.3,665.2 299.5,665.8 C303.7,666.3 308.2,667.3 312.0,668.0 C315.3,668.6 318.7,669.3 322.0,670.0" fill="none" stroke="#0000ff" stroke-width="1.6" stroke-linejoin="round"/>
<path d="M50.5,705.5 C58.0,702.6 65.5,699.3 73.0,696.8 C80.9,694.0 89.7,691.3 98.0,689.2 C106.3,687.2 114.7,685.7 123.0,684.2 C131.3,682.8 139.7,681.6 148.0,680.5 C156.3,679.4 164.8,678.5 173.0,677.5 C181.0,676.5 190.5,675.5 197.0,674.5 C202.0,673.8 207.0,672.5 212.0,671.8 C218.7,670.8 228.7,669.5 237.0,668.5 C245.3,667.5 255.8,666.2 262.0,665.5 C266.2,665.0 270.3,664.5 274.5,664.2 C278.7,664.0 282.8,663.6 287.0,663.8 C291.2,663.9 295.3,664.4 299.5,665.0 C303.7,665.6 308.2,666.8 312.0,667.5 C315.3,668.1 318.7,668.7 322.0,669.2" fill="none" stroke="#0000ff" stroke-width="2.1" stroke-dasharray="6.8,4.7" stroke-dashoffset="0"/>
<path d="M50.5,781.1 C58.7,776.7 67.0,772.1 75.2,767.8 C83.5,763.5 91.9,759.0 100.3,755.2 C108.7,751.4 117.1,748.6 125.5,745.2 C133.9,741.9 142.3,738.0 150.7,735.1 C159.1,732.2 167.6,729.9 175.8,727.6 C183.9,725.3 194.0,722.9 200.0,721.3 C204.0,720.2 208.0,718.7 212.0,718.0 C218.2,716.9 228.7,715.1 237.0,714.5 C245.3,713.9 253.7,714.3 262.0,714.2 C270.3,714.2 280.8,714.4 287.0,714.2 C291.2,714.1 295.3,713.3 299.5,713.2 C303.7,713.2 308.2,713.4 312.0,713.8 C315.3,714.0 318.7,714.8 322.0,715.2" fill="none" stroke="#008000" stroke-width="1.6" stroke-linejoin="round"/>
<path d="M50.5,769.5 C58.7,765.6 67.0,761.4 75.2,757.8 C83.5,754.2 91.9,750.8 100.3,747.7 C108.7,744.6 117.1,741.6 125.5,738.9 C133.9,736.2 142.3,733.5 150.7,731.3 C159.1,729.1 167.6,727.3 175.8,725.5 C183.9,723.7 194.0,722.0 200.0,720.5 C204.0,719.5 208.0,717.5 212.0,716.8 C218.2,715.6 228.7,714.3 237.0,713.8 C245.3,713.2 253.7,713.5 262.0,713.5 C270.3,713.5 280.8,713.7 287.0,713.5 C291.2,713.4 295.3,712.6 299.5,712.5 C303.7,712.4 308.2,712.6 312.0,713.0 C315.3,713.3 318.7,714.2 322.0,714.8" fill="none" stroke="#008000" stroke-width="2.1" stroke-dasharray="6.8,4.7" stroke-dashoffset="0"/>
<path d="M50.5,715.5 C58.0,711.5 65.5,707.1 73.0,703.6 C80.9,699.9 89.7,696.3 98.0,693.2 C106.3,690.2 114.7,687.7 123.0,685.5 C131.3,683.2 139.7,681.3 148.0,679.6 C156.3,677.9 164.8,676.6 173.0,675.2 C181.0,673.9 190.5,672.4 197.0,671.4 C202.0,670.6 207.0,670.1 212.0,669.2 C218.7,668.0 228.7,665.5 237.0,664.2 C245.3,663.0 255.8,662.5 262.0,661.8 C266.2,661.3 270.3,660.4 274.5,660.0 C278.7,659.6 282.8,659.2 287.0,659.2 C291.2,659.3 295.3,660.0 299.5,660.5 C303.7,661.0 308.2,661.9 312.0,662.5 C315.3,663.1 318.7,663.7 322.0,664.2" fill="none" stroke="#ff0000" stroke-width="1.6" stroke-linejoin="round"/>
<path d="M50.5,691.8 C58.0,689.7 65.5,687.4 73.0,685.5 C80.9,683.5 89.7,681.6 98.0,680.0 C106.3,678.4 114.7,677.2 123.0,676.0 C131.3,674.8 139.7,674.0 148.0,673.0 C156.3,672.0 164.8,670.9 173.0,670.0 C181.0,669.1 190.5,668.5 197.0,667.5 C202.0,666.8 207.0,665.1 212.0,664.2 C218.7,663.2 228.7,662.0 237.0,661.0 C245.3,660.0 255.8,659.2 262.0,658.5 C266.2,658.0 270.3,657.0 274.5,656.8 C278.7,656.5 282.8,656.5 287.0,656.8 C291.2,657.0 295.3,657.5 299.5,658.0 C303.7,658.5 308.2,659.1 312.0,659.8 C315.3,660.3 318.7,661.1 322.0,661.8" fill="none" stroke="#ff0000" stroke-width="2.1" stroke-dasharray="6.8,4.7" stroke-dashoffset="0"/>
</g>
<g clip-path="url(#c41)">
<path d="M322.5,745.5 C330.0,743.1 337.5,741.1 345.0,738.4 C352.9,735.6 361.7,731.5 370.0,728.5 C378.3,725.5 386.7,722.6 395.0,720.5 C403.3,718.4 411.7,717.2 420.0,716.0 C428.3,714.8 436.7,713.8 445.0,713.0 C453.7,712.2 463.3,711.6 472.0,711.2 C480.3,710.9 488.7,710.8 497.0,711.0 C505.3,711.2 513.7,712.2 522.0,712.5 C530.3,712.8 538.7,712.6 547.0,712.5 C555.3,712.4 564.1,711.7 572.0,711.8 C579.5,711.8 587.0,712.6 594.5,713.0 L594.5,717.0 C591.2,716.3 587.8,715.1 584.5,715.0 C580.8,714.9 576.2,716.2 572.0,716.5 C565.8,717.0 555.3,717.5 547.0,717.8 C538.7,718.0 528.2,717.8 522.0,718.0 C517.8,718.2 513.7,718.6 509.5,719.2 C505.3,719.9 501.2,720.5 497.0,721.8 C492.8,723.0 488.7,725.1 484.5,726.8 C480.3,728.4 476.2,729.7 472.0,731.5 C467.8,733.3 463.7,735.3 459.5,737.5 C455.0,739.9 449.8,743.0 445.0,746.0 C438.4,750.0 428.3,756.1 420.0,761.8 C411.7,767.4 403.3,774.5 395.0,780.0 C385.8,786.0 375.0,788.3 365.0,798.0 C352.9,809.7 336.7,832.7 322.5,850.0Z" fill="#0000ff" fill-opacity="0.3" stroke="#000" stroke-opacity="0.3" stroke-width="0.7"/>
<path d="M322.5,760.5 C330.0,757.6 337.5,754.6 345.0,751.8 C352.9,748.8 361.7,745.8 370.0,742.7 C378.3,739.5 386.7,736.5 395.0,733.0 C403.3,729.5 413.8,724.2 420.0,721.8 C424.2,720.1 428.3,718.9 432.5,718.0 C436.7,717.1 440.8,717.1 445.0,716.5 C451.6,715.5 463.3,712.9 472.0,712.0 C480.3,711.2 488.7,711.2 497.0,711.2 C505.3,711.3 513.7,712.3 522.0,712.5 C530.3,712.7 538.7,712.6 547.0,712.5 C555.3,712.4 564.1,711.7 572.0,711.8 C579.5,711.8 587.0,712.6 594.5,713.0 L594.5,717.0 C591.2,716.3 587.8,715.1 584.5,715.0 C580.8,714.9 576.2,716.2 572.0,716.5 C565.8,717.0 555.3,717.7 547.0,718.0 C538.7,718.3 528.2,717.9 522.0,718.5 C517.8,718.9 513.7,720.0 509.5,721.8 C505.3,723.5 501.2,727.0 497.0,729.2 C492.8,731.5 488.7,733.5 484.5,735.5 C480.3,737.5 476.2,739.2 472.0,741.0 C467.8,742.8 463.7,744.5 459.5,746.0 C455.0,747.6 449.5,748.9 445.0,750.5 C440.8,752.0 436.7,753.8 432.5,755.5 C428.3,757.2 424.2,758.9 420.0,761.0 C415.8,763.1 411.7,765.4 407.5,768.0 C403.3,770.6 399.2,774.0 395.0,776.8 C387.3,781.8 372.5,786.6 361.2,798.0 C349.2,810.2 335.4,832.7 322.5,850.0Z" fill="#008000" fill-opacity="0.3" stroke="#000" stroke-opacity="0.3" stroke-width="0.7"/>
<path d="M322.5,744.5 C330.0,742.1 337.5,740.0 345.0,737.4 C352.9,734.7 361.7,730.8 370.0,728.0 C378.3,725.2 386.7,722.5 395.0,720.5 C403.3,718.5 411.7,717.2 420.0,716.0 C428.3,714.8 436.7,713.8 445.0,713.0 C453.7,712.2 463.3,711.6 472.0,711.2 C480.3,710.9 488.7,710.8 497.0,711.0 C505.3,711.2 513.7,712.2 522.0,712.5 C530.3,712.8 538.7,712.6 547.0,712.5 C555.3,712.4 564.1,711.7 572.0,711.8 C579.5,711.8 587.0,712.6 594.5,713.0 L594.5,717.0 C589.5,716.7 583.2,715.8 579.5,716.0 C577.0,716.2 574.5,717.8 572.0,718.5 C568.7,719.5 563.7,721.0 559.5,721.8 C555.3,722.5 551.2,722.7 547.0,723.0 C542.8,723.3 538.7,723.3 534.5,723.5 C530.3,723.7 526.2,723.6 522.0,724.2 C517.8,724.9 513.7,726.2 509.5,727.5 C505.3,728.8 501.2,730.2 497.0,731.8 C492.8,733.3 488.7,735.1 484.5,736.8 C480.3,738.4 476.2,740.0 472.0,741.8 C467.8,743.5 463.7,745.2 459.5,747.0 C455.0,749.0 449.5,751.2 445.0,753.5 C440.8,755.6 436.7,758.1 432.5,760.5 C428.3,762.9 424.2,765.3 420.0,768.0 C415.8,770.7 411.7,774.2 407.5,776.8 C403.3,779.2 399.2,780.5 395.0,783.0 C389.2,786.5 380.0,790.0 372.5,798.0 C360.4,810.8 339.2,839.3 322.5,860.0Z" fill="#ff0000" fill-opacity="0.3" stroke="#000" stroke-opacity="0.3" stroke-width="0.7"/>
<path d="M322.5,773.5 C330.0,769.8 337.5,765.8 345.0,762.2 C352.9,758.5 361.7,754.3 370.0,750.9 C378.3,747.4 386.7,744.5 395.0,741.8 C403.3,739.0 411.7,736.6 420.0,734.2 C428.3,731.9 436.7,729.6 445.0,727.8 C453.7,725.9 463.3,724.3 472.0,723.0 C480.3,721.7 488.7,720.6 497.0,719.8 C505.3,718.9 513.7,718.4 522.0,718.0 C530.3,717.6 538.7,717.8 547.0,717.5 C555.3,717.2 565.8,717.0 572.0,716.5 C576.2,716.2 580.8,714.7 584.5,714.8 C587.8,714.8 591.2,716.2 594.5,717.0" fill="none" stroke="#0000ff" stroke-width="1.6" stroke-linejoin="round"/>
<path d="M322.5,755.5 C330.0,753.0 337.5,750.4 345.0,748.0 C352.9,745.5 361.7,742.9 370.0,740.6 C378.3,738.2 386.7,736.0 395.0,733.8 C403.3,731.7 411.7,729.3 420.0,727.5 C428.3,725.7 436.7,724.3 445.0,723.0 C453.7,721.6 463.3,720.4 472.0,719.2 C480.3,718.1 488.7,716.8 497.0,716.0 C505.3,715.2 513.7,714.8 522.0,714.2 C530.3,713.8 538.7,713.3 547.0,713.0 C555.3,712.7 565.8,712.5 572.0,712.2 C576.2,712.1 580.8,711.5 584.5,711.8 C587.8,711.9 591.2,712.9 594.5,713.5" fill="none" stroke="#0000ff" stroke-width="2.1" stroke-dasharray="6.8,4.7" stroke-dashoffset="0"/>
<path d="M322.5,784.3 C330.0,780.5 337.5,776.8 345.0,773.0 C352.9,769.0 361.7,764.5 370.0,760.2 C378.3,756.0 386.7,751.3 395.0,747.4 C403.3,743.5 411.7,740.1 420.0,737.0 C428.3,733.9 436.7,731.2 445.0,729.0 C453.7,726.7 463.3,724.6 472.0,723.0 C480.3,721.5 488.7,720.4 497.0,719.5 C505.3,718.6 513.7,718.1 522.0,717.8 C530.3,717.4 538.7,717.5 547.0,717.2 C555.3,717.0 565.8,716.7 572.0,716.2 C576.2,715.9 580.8,714.4 584.5,714.5 C587.8,714.6 591.2,716.0 594.5,716.8" fill="none" stroke="#008000" stroke-width="1.6" stroke-linejoin="round"/>
<path d="M322.5,771.8 C330.0,768.2 337.5,764.3 345.0,761.1 C352.9,757.7 361.7,754.4 370.0,751.3 C378.3,748.2 386.7,745.2 395.0,742.4 C403.3,739.6 411.7,736.9 420.0,734.5 C428.3,732.1 436.7,730.0 445.0,728.0 C453.7,725.9 463.3,723.8 472.0,722.0 C480.3,720.3 488.7,718.7 497.0,717.5 C505.3,716.3 513.7,715.5 522.0,715.0 C530.3,714.5 538.7,714.5 547.0,714.2 C555.3,714.0 565.8,714.0 572.0,713.8 C576.2,713.6 580.8,712.8 584.5,713.0 C587.8,713.2 591.2,714.3 594.5,715.0" fill="none" stroke="#008000" stroke-width="2.1" stroke-dasharray="6.8,4.7" stroke-dashoffset="0"/>
<path d="M322.5,773.0 C330.0,769.2 337.5,765.3 345.0,761.8 C352.9,758.0 361.7,753.8 370.0,750.4 C378.3,746.9 386.7,744.0 395.0,741.2 C403.3,738.5 411.7,736.0 420.0,733.8 C428.3,731.5 436.7,729.3 445.0,727.5 C453.7,725.6 463.3,723.9 472.0,722.5 C480.3,721.2 488.7,720.1 497.0,719.2 C505.3,718.4 513.7,717.9 522.0,717.5 C530.3,717.1 538.7,717.2 547.0,717.0 C555.3,716.8 565.8,716.5 572.0,716.0 C576.2,715.7 580.8,714.2 584.5,714.2 C587.8,714.3 591.2,715.8 594.5,716.5" fill="none" stroke="#ff0000" stroke-width="1.6" stroke-linejoin="round"/>
<path d="M322.5,755.0 C330.0,752.5 337.5,749.8 345.0,747.5 C352.9,745.1 361.7,742.7 370.0,740.6 C378.3,738.4 386.7,736.6 395.0,734.6 C403.3,732.6 411.7,730.3 420.0,728.8 C428.3,727.2 436.7,726.1 445.0,725.0 C453.7,723.8 463.3,722.8 472.0,721.8 C480.3,720.7 488.7,719.3 497.0,718.5 C505.3,717.7 513.7,717.2 522.0,716.8 C530.3,716.3 538.7,716.3 547.0,716.0 C555.3,715.7 565.8,715.4 572.0,715.0 C576.2,714.8 580.8,713.6 584.5,713.8 C587.8,713.9 591.2,715.2 594.5,716.0" fill="none" stroke="#ff0000" stroke-width="2.1" stroke-dasharray="6.8,4.7" stroke-dashoffset="3"/>
</g>
<path d="M50.60,167.50 L55.30,167.50" stroke="#000" stroke-width="1.3" fill="none"/>
<path d="M322.65,167.50 L317.95,167.50" stroke="#000" stroke-width="1.3" fill="none"/>
<path d="M50.60,151.50 L55.30,151.50" stroke="#000" stroke-width="1.3" fill="none"/>
<path d="M322.65,151.50 L317.95,151.50" stroke="#000" stroke-width="1.3" fill="none"/>
<path d="M50.60,140.50 L55.30,140.50" stroke="#000" stroke-width="1.3" fill="none"/>
<path d="M322.65,140.50 L317.95,140.50" stroke="#000" stroke-width="1.3" fill="none"/>
<path d="M50.60,131.50 L55.30,131.50" stroke="#000" stroke-width="1.3" fill="none"/>
<path d="M322.65,131.50 L317.95,131.50" stroke="#000" stroke-width="1.3" fill="none"/>
<path d="M50.60,123.50 L55.30,123.50" stroke="#000" stroke-width="1.3" fill="none"/>
<path d="M322.65,123.50 L317.95,123.50" stroke="#000" stroke-width="1.3" fill="none"/>
<path d="M50.60,117.50 L55.30,117.50" stroke="#000" stroke-width="1.3" fill="none"/>
<path d="M322.65,117.50 L317.95,117.50" stroke="#000" stroke-width="1.3" fill="none"/>
<path d="M50.60,112.50 L55.30,112.50" stroke="#000" stroke-width="1.3" fill="none"/>
<path d="M322.65,112.50 L317.95,112.50" stroke="#000" stroke-width="1.3" fill="none"/>
<path d="M50.60,107.50 L55.30,107.50" stroke="#000" stroke-width="1.3" fill="none"/>
<path d="M322.65,107.50 L317.95,107.50" stroke="#000" stroke-width="1.3" fill="none"/>
<path d="M50.60,103.50 L60.20,103.50" stroke="#000" stroke-width="1.6" fill="none"/>
<path d="M322.65,103.50 L313.05,103.50" stroke="#000" stroke-width="1.6" fill="none"/>
<path d="M50.60,75.50 L55.30,75.50" stroke="#000" stroke-width="1.3" fill="none"/>
<path d="M322.65,75.50 L317.95,75.50" stroke="#000" stroke-width="1.3" fill="none"/>
<path d="M50.60,58.50 L55.30,58.50" stroke="#000" stroke-width="1.3" fill="none"/>
<path d="M322.65,58.50 L317.95,58.50" stroke="#000" stroke-width="1.3" fill="none"/>
<path d="M50.60,47.50 L55.30,47.50" stroke="#000" stroke-width="1.3" fill="none"/>
<path d="M322.65,47.50 L317.95,47.50" stroke="#000" stroke-width="1.3" fill="none"/>
<path d="M50.60,38.50 L55.30,38.50" stroke="#000" stroke-width="1.3" fill="none"/>
<path d="M322.65,38.50 L317.95,38.50" stroke="#000" stroke-width="1.3" fill="none"/>
<path d="M50.60,30.50 L55.30,30.50" stroke="#000" stroke-width="1.3" fill="none"/>
<path d="M322.65,30.50 L317.95,30.50" stroke="#000" stroke-width="1.3" fill="none"/>
<path d="M50.60,24.50 L55.30,24.50" stroke="#000" stroke-width="1.3" fill="none"/>
<path d="M322.65,24.50 L317.95,24.50" stroke="#000" stroke-width="1.3" fill="none"/>
<path d="M50.60,19.50 L55.30,19.50" stroke="#000" stroke-width="1.3" fill="none"/>
<path d="M322.65,19.50 L317.95,19.50" stroke="#000" stroke-width="1.3" fill="none"/>
<path d="M50.60,14.50 L55.30,14.50" stroke="#000" stroke-width="1.3" fill="none"/>
<path d="M322.65,14.50 L317.95,14.50" stroke="#000" stroke-width="1.3" fill="none"/>
<path d="M50.60,10.50 L60.20,10.50" stroke="#000" stroke-width="1.6" fill="none"/>
<path d="M322.65,10.50 L313.05,10.50" stroke="#000" stroke-width="1.6" fill="none"/>
<path d="M50.64,10.40 L50.64,15.10" stroke="#000" stroke-width="1.3" fill="none"/>
<path d="M50.64,167.96 L50.64,163.26" stroke="#000" stroke-width="1.3" fill="none"/>
<path d="M62.50,10.40 L62.50,15.10" stroke="#000" stroke-width="1.3" fill="none"/>
<path d="M62.50,167.96 L62.50,163.26" stroke="#000" stroke-width="1.3" fill="none"/>
<path d="M72.50,10.40 L72.50,15.10" stroke="#000" stroke-width="1.3" fill="none"/>
<path d="M72.50,167.96 L72.50,163.26" stroke="#000" stroke-width="1.3" fill="none"/>
<path d="M80.50,10.40 L80.50,15.10" stroke="#000" stroke-width="1.3" fill="none"/>
<path d="M80.50,167.96 L80.50,163.26" stroke="#000" stroke-width="1.3" fill="none"/>
<path d="M88.50,10.40 L88.50,15.10" stroke="#000" stroke-width="1.3" fill="none"/>
<path d="M88.50,167.96 L88.50,163.26" stroke="#000" stroke-width="1.3" fill="none"/>
<path d="M94.50,10.40 L94.50,15.10" stroke="#000" stroke-width="1.3" fill="none"/>
<path d="M94.50,167.96 L94.50,163.26" stroke="#000" stroke-width="1.3" fill="none"/>
<path d="M100.50,10.40 L100.50,20.00" stroke="#000" stroke-width="1.6" fill="none"/>
<path d="M100.50,167.96 L100.50,158.36" stroke="#000" stroke-width="1.6" fill="none"/>
<path d="M137.50,10.40 L137.50,15.10" stroke="#000" stroke-width="1.3" fill="none"/>
<path d="M137.50,167.96 L137.50,163.26" stroke="#000" stroke-width="1.3" fill="none"/>
<path d="M159.50,10.40 L159.50,15.10" stroke="#000" stroke-width="1.3" fill="none"/>
<path d="M159.50,167.96 L159.50,163.26" stroke="#000" stroke-width="1.3" fill="none"/>
<path d="M174.50,10.40 L174.50,15.10" stroke="#000" stroke-width="1.3" fill="none"/>
<path d="M174.50,167.96 L174.50,163.26" stroke="#000" stroke-width="1.3" fill="none"/>
<path d="M186.50,10.40 L186.50,15.10" stroke="#000" stroke-width="1.3" fill="none"/>
<path d="M186.50,167.96 L186.50,163.26" stroke="#000" stroke-width="1.3" fill="none"/>
<path d="M196.50,10.40 L196.50,15.10" stroke="#000" stroke-width="1.3" fill="none"/>
<path d="M196.50,167.96 L196.50,163.26" stroke="#000" stroke-width="1.3" fill="none"/>
<path d="M205.50,10.40 L205.50,15.10" stroke="#000" stroke-width="1.3" fill="none"/>
<path d="M205.50,167.96 L205.50,163.26" stroke="#000" stroke-width="1.3" fill="none"/>
<path d="M212.50,10.40 L212.50,15.10" stroke="#000" stroke-width="1.3" fill="none"/>
<path d="M212.50,167.96 L212.50,163.26" stroke="#000" stroke-width="1.3" fill="none"/>
<path d="M218.50,10.40 L218.50,15.10" stroke="#000" stroke-width="1.3" fill="none"/>
<path d="M218.50,167.96 L218.50,163.26" stroke="#000" stroke-width="1.3" fill="none"/>
<path d="M224.50,10.40 L224.50,20.00" stroke="#000" stroke-width="1.6" fill="none"/>
<path d="M224.50,167.96 L224.50,158.36" stroke="#000" stroke-width="1.6" fill="none"/>
<path d="M261.50,10.40 L261.50,15.10" stroke="#000" stroke-width="1.3" fill="none"/>
<path d="M261.50,167.96 L261.50,163.26" stroke="#000" stroke-width="1.3" fill="none"/>
<path d="M283.50,10.40 L283.50,15.10" stroke="#000" stroke-width="1.3" fill="none"/>
<path d="M283.50,167.96 L283.50,163.26" stroke="#000" stroke-width="1.3" fill="none"/>
<path d="M299.50,10.40 L299.50,15.10" stroke="#000" stroke-width="1.3" fill="none"/>
<path d="M299.50,167.96 L299.50,163.26" stroke="#000" stroke-width="1.3" fill="none"/>
<path d="M311.50,10.40 L311.50,15.10" stroke="#000" stroke-width="1.3" fill="none"/>
<path d="M311.50,167.96 L311.50,163.26" stroke="#000" stroke-width="1.3" fill="none"/>
<path d="M321.50,10.40 L321.50,15.10" stroke="#000" stroke-width="1.3" fill="none"/>
<path d="M321.50,167.96 L321.50,163.26" stroke="#000" stroke-width="1.3" fill="none"/>
<path d="M322.65,167.50 L327.35,167.50" stroke="#000" stroke-width="1.3" fill="none"/>
<path d="M595.40,167.50 L590.70,167.50" stroke="#000" stroke-width="1.3" fill="none"/>
<path d="M322.65,151.50 L327.35,151.50" stroke="#000" stroke-width="1.3" fill="none"/>
<path d="M595.40,151.50 L590.70,151.50" stroke="#000" stroke-width="1.3" fill="none"/>
<path d="M322.65,140.50 L327.35,140.50" stroke="#000" stroke-width="1.3" fill="none"/>
<path d="M595.40,140.50 L590.70,140.50" stroke="#000" stroke-width="1.3" fill="none"/>
<path d="M322.65,131.50 L327.35,131.50" stroke="#000" stroke-width="1.3" fill="none"/>
<path d="M595.40,131.50 L590.70,131.50" stroke="#000" stroke-width="1.3" fill="none"/>
<path d="M322.65,123.50 L327.35,123.50" stroke="#000" stroke-width="1.3" fill="none"/>
<path d="M595.40,123.50 L590.70,123.50" stroke="#000" stroke-width="1.3" fill="none"/>
<path d="M322.65,117.50 L327.35,117.50" stroke="#000" stroke-width="1.3" fill="none"/>
<path d="M595.40,117.50 L590.70,117.50" stroke="#000" stroke-width="1.3" fill="none"/>
<path d="M322.65,112.50 L327.35,112.50" stroke="#000" stroke-width="1.3" fill="none"/>
<path d="M595.40,112.50 L590.70,112.50" stroke="#000" stroke-width="1.3" fill="none"/>
<path d="M322.65,107.50 L327.35,107.50" stroke="#000" stroke-width="1.3" fill="none"/>
<path d="M595.40,107.50 L590.70,107.50" stroke="#000" stroke-width="1.3" fill="none"/>
<path d="M322.65,103.50 L332.25,103.50" stroke="#000" stroke-width="1.6" fill="none"/>
<path d="M595.40,103.50 L585.80,103.50" stroke="#000" stroke-width="1.6" fill="none"/>
<path d="M322.65,75.50 L327.35,75.50" stroke="#000" stroke-width="1.3" fill="none"/>
<path d="M595.40,75.50 L590.70,75.50" stroke="#000" stroke-width="1.3" fill="none"/>
<path d="M322.65,58.50 L327.35,58.50" stroke="#000" stroke-width="1.3" fill="none"/>
<path d="M595.40,58.50 L590.70,58.50" stroke="#000" stroke-width="1.3" fill="none"/>
<path d="M322.65,47.50 L327.35,47.50" stroke="#000" stroke-width="1.3" fill="none"/>
<path d="M595.40,47.50 L590.70,47.50" stroke="#000" stroke-width="1.3" fill="none"/>
<path d="M322.65,38.50 L327.35,38.50" stroke="#000" stroke-width="1.3" fill="none"/>
<path d="M595.40,38.50 L590.70,38.50" stroke="#000" stroke-width="1.3" fill="none"/>
<path d="M322.65,30.50 L327.35,30.50" stroke="#000" stroke-width="1.3" fill="none"/>
<path d="M595.40,30.50 L590.70,30.50" stroke="#000" stroke-width="1.3" fill="none"/>
<path d="M322.65,24.50 L327.35,24.50" stroke="#000" stroke-width="1.3" fill="none"/>
<path d="M595.40,24.50 L590.70,24.50" stroke="#000" stroke-width="1.3" fill="none"/>
<path d="M322.65,19.50 L327.35,19.50" stroke="#000" stroke-width="1.3" fill="none"/>
<path d="M595.40,19.50 L590.70,19.50" stroke="#000" stroke-width="1.3" fill="none"/>
<path d="M322.65,14.50 L327.35,14.50" stroke="#000" stroke-width="1.3" fill="none"/>
<path d="M595.40,14.50 L590.70,14.50" stroke="#000" stroke-width="1.3" fill="none"/>
<path d="M322.65,10.50 L332.25,10.50" stroke="#000" stroke-width="1.6" fill="none"/>
<path d="M595.40,10.50 L585.80,10.50" stroke="#000" stroke-width="1.6" fill="none"/>
<path d="M323.84,10.40 L323.84,15.10" stroke="#000" stroke-width="1.3" fill="none"/>
<path d="M323.84,167.96 L323.84,163.26" stroke="#000" stroke-width="1.3" fill="none"/>
<path d="M335.50,10.40 L335.50,15.10" stroke="#000" stroke-width="1.3" fill="none"/>
<path d="M335.50,167.96 L335.50,163.26" stroke="#000" stroke-width="1.3" fill="none"/>
<path d="M345.50,10.40 L345.50,15.10" stroke="#000" stroke-width="1.3" fill="none"/>
<path d="M345.50,167.96 L345.50,163.26" stroke="#000" stroke-width="1.3" fill="none"/>
<path d="M354.50,10.40 L354.50,15.10" stroke="#000" stroke-width="1.3" fill="none"/>
<path d="M354.50,167.96 L354.50,163.26" stroke="#000" stroke-width="1.3" fill="none"/>
<path d="M361.50,10.40 L361.50,15.10" stroke="#000" stroke-width="1.3" fill="none"/>
<path d="M361.50,167.96 L361.50,163.26" stroke="#000" stroke-width="1.3" fill="none"/>
<path d="M367.50,10.40 L367.50,15.10" stroke="#000" stroke-width="1.3" fill="none"/>
<path d="M367.50,167.96 L367.50,163.26" stroke="#000" stroke-width="1.3" fill="none"/>
<path d="M373.50,10.40 L373.50,20.00" stroke="#000" stroke-width="1.6" fill="none"/>
<path d="M373.50,167.96 L373.50,158.36" stroke="#000" stroke-width="1.6" fill="none"/>
<path d="M410.50,10.40 L410.50,15.10" stroke="#000" stroke-width="1.3" fill="none"/>
<path d="M410.50,167.96 L410.50,163.26" stroke="#000" stroke-width="1.3" fill="none"/>
<path d="M432.50,10.40 L432.50,15.10" stroke="#000" stroke-width="1.3" fill="none"/>
<path d="M432.50,167.96 L432.50,163.26" stroke="#000" stroke-width="1.3" fill="none"/>
<path d="M448.50,10.40 L448.50,15.10" stroke="#000" stroke-width="1.3" fill="none"/>
<path d="M448.50,167.96 L448.50,163.26" stroke="#000" stroke-width="1.3" fill="none"/>
<path d="M460.50,10.40 L460.50,15.10" stroke="#000" stroke-width="1.3" fill="none"/>
<path d="M460.50,167.96 L460.50,163.26" stroke="#000" stroke-width="1.3" fill="none"/>
<path d="M470.50,10.40 L470.50,15.10" stroke="#000" stroke-width="1.3" fill="none"/>
<path d="M470.50,167.96 L470.50,163.26" stroke="#000" stroke-width="1.3" fill="none"/>
<path d="M478.50,10.40 L478.50,15.10" stroke="#000" stroke-width="1.3" fill="none"/>
<path d="M478.50,167.96 L478.50,163.26" stroke="#000" stroke-width="1.3" fill="none"/>
<path d="M485.50,10.40 L485.50,15.10" stroke="#000" stroke-width="1.3" fill="none"/>
<path d="M485.50,167.96 L485.50,163.26" stroke="#000" stroke-width="1.3" fill="none"/>
<path d="M491.50,10.40 L491.50,15.10" stroke="#000" stroke-width="1.3" fill="none"/>
<path d="M491.50,167.96 L491.50,163.26" stroke="#000" stroke-width="1.3" fill="none"/>
<path d="M497.50,10.40 L497.50,20.00" stroke="#000" stroke-width="1.6" fill="none"/>
<path d="M497.50,167.96 L497.50,158.36" stroke="#000" stroke-width="1.6" fill="none"/>
<path d="M535.50,10.40 L535.50,15.10" stroke="#000" stroke-width="1.3" fill="none"/>
<path d="M535.50,167.96 L535.50,163.26" stroke="#000" stroke-width="1.3" fill="none"/>
<path d="M556.50,10.40 L556.50,15.10" stroke="#000" stroke-width="1.3" fill="none"/>
<path d="M556.50,167.96 L556.50,163.26" stroke="#000" stroke-width="1.3" fill="none"/>
<path d="M572.50,10.40 L572.50,15.10" stroke="#000" stroke-width="1.3" fill="none"/>
<path d="M572.50,167.96 L572.50,163.26" stroke="#000" stroke-width="1.3" fill="none"/>
<path d="M584.50,10.40 L584.50,15.10" stroke="#000" stroke-width="1.3" fill="none"/>
<path d="M584.50,167.96 L584.50,163.26" stroke="#000" stroke-width="1.3" fill="none"/>
<path d="M594.50,10.40 L594.50,15.10" stroke="#000" stroke-width="1.3" fill="none"/>
<path d="M594.50,167.96 L594.50,163.26" stroke="#000" stroke-width="1.3" fill="none"/>
<path d="M50.60,325.50 L55.30,325.50" stroke="#000" stroke-width="1.3" fill="none"/>
<path d="M322.65,325.50 L317.95,325.50" stroke="#000" stroke-width="1.3" fill="none"/>
<path d="M50.60,309.50 L55.30,309.50" stroke="#000" stroke-width="1.3" fill="none"/>
<path d="M322.65,309.50 L317.95,309.50" stroke="#000" stroke-width="1.3" fill="none"/>
<path d="M50.60,297.50 L55.30,297.50" stroke="#000" stroke-width="1.3" fill="none"/>
<path d="M322.65,297.50 L317.95,297.50" stroke="#000" stroke-width="1.3" fill="none"/>
<path d="M50.60,288.50 L55.30,288.50" stroke="#000" stroke-width="1.3" fill="none"/>
<path d="M322.65,288.50 L317.95,288.50" stroke="#000" stroke-width="1.3" fill="none"/>
<path d="M50.60,281.50 L55.30,281.50" stroke="#000" stroke-width="1.3" fill="none"/>
<path d="M322.65,281.50 L317.95,281.50" stroke="#000" stroke-width="1.3" fill="none"/>
<path d="M50.60,275.50 L55.30,275.50" stroke="#000" stroke-width="1.3" fill="none"/>
<path d="M322.65,275.50 L317.95,275.50" stroke="#000" stroke-width="1.3" fill="none"/>
<path d="M50.60,269.50 L55.30,269.50" stroke="#000" stroke-width="1.3" fill="none"/>
<path d="M322.65,269.50 L317.95,269.50" stroke="#000" stroke-width="1.3" fill="none"/>
<path d="M50.60,264.50 L55.30,264.50" stroke="#000" stroke-width="1.3" fill="none"/>
<path d="M322.65,264.50 L317.95,264.50" stroke="#000" stroke-width="1.3" fill="none"/>
<path d="M50.60,260.50 L60.20,260.50" stroke="#000" stroke-width="1.6" fill="none"/>
<path d="M322.65,260.50 L313.05,260.50" stroke="#000" stroke-width="1.6" fill="none"/>
<path d="M50.60,232.50 L55.30,232.50" stroke="#000" stroke-width="1.3" fill="none"/>
<path d="M322.65,232.50 L317.95,232.50" stroke="#000" stroke-width="1.3" fill="none"/>
<path d="M50.60,216.50 L55.30,216.50" stroke="#000" stroke-width="1.3" fill="none"/>
<path d="M322.65,216.50 L317.95,216.50" stroke="#000" stroke-width="1.3" fill="none"/>
<path d="M50.60,204.50 L55.30,204.50" stroke="#000" stroke-width="1.3" fill="none"/>
<path d="M322.65,204.50 L317.95,204.50" stroke="#000" stroke-width="1.3" fill="none"/>
<path d="M50.60,195.50 L55.30,195.50" stroke="#000" stroke-width="1.3" fill="none"/>
<path d="M322.65,195.50 L317.95,195.50" stroke="#000" stroke-width="1.3" fill="none"/>
<path d="M50.60,188.50 L55.30,188.50" stroke="#000" stroke-width="1.3" fill="none"/>
<path d="M322.65,188.50 L317.95,188.50" stroke="#000" stroke-width="1.3" fill="none"/>
<path d="M50.60,182.50 L55.30,182.50" stroke="#000" stroke-width="1.3" fill="none"/>
<path d="M322.65,182.50 L317.95,182.50" stroke="#000" stroke-width="1.3" fill="none"/>
<path d="M50.60,176.50 L55.30,176.50" stroke="#000" stroke-width="1.3" fill="none"/>
<path d="M322.65,176.50 L317.95,176.50" stroke="#000" stroke-width="1.3" fill="none"/>
<path d="M50.60,172.50 L55.30,172.50" stroke="#000" stroke-width="1.3" fill="none"/>
<path d="M322.65,172.50 L317.95,172.50" stroke="#000" stroke-width="1.3" fill="none"/>
<path d="M50.60,167.50 L60.20,167.50" stroke="#000" stroke-width="1.6" fill="none"/>
<path d="M322.65,167.50 L313.05,167.50" stroke="#000" stroke-width="1.6" fill="none"/>
<path d="M50.64,167.96 L50.64,172.66" stroke="#000" stroke-width="1.3" fill="none"/>
<path d="M50.64,325.52 L50.64,320.82" stroke="#000" stroke-width="1.3" fill="none"/>
<path d="M62.50,167.96 L62.50,172.66" stroke="#000" stroke-width="1.3" fill="none"/>
<path d="M62.50,325.52 L62.50,320.82" stroke="#000" stroke-width="1.3" fill="none"/>
<path d="M72.50,167.96 L72.50,172.66" stroke="#000" stroke-width="1.3" fill="none"/>
<path d="M72.50,325.52 L72.50,320.82" stroke="#000" stroke-width="1.3" fill="none"/>
<path d="M80.50,167.96 L80.50,172.66" stroke="#000" stroke-width="1.3" fill="none"/>
<path d="M80.50,325.52 L80.50,320.82" stroke="#000" stroke-width="1.3" fill="none"/>
<path d="M88.50,167.96 L88.50,172.66" stroke="#000" stroke-width="1.3" fill="none"/>
<path d="M88.50,325.52 L88.50,320.82" stroke="#000" stroke-width="1.3" fill="none"/>
<path d="M94.50,167.96 L94.50,172.66" stroke="#000" stroke-width="1.3" fill="none"/>
<path d="M94.50,325.52 L94.50,320.82" stroke="#000" stroke-width="1.3" fill="none"/>
<path d="M100.50,167.96 L100.50,177.56" stroke="#000" stroke-width="1.6" fill="none"/>
<path d="M100.50,325.52 L100.50,315.92" stroke="#000" stroke-width="1.6" fill="none"/>
<path d="M137.50,167.96 L137.50,172.66" stroke="#000" stroke-width="1.3" fill="none"/>
<path d="M137.50,325.52 L137.50,320.82" stroke="#000" stroke-width="1.3" fill="none"/>
<path d="M159.50,167.96 L159.50,172.66" stroke="#000" stroke-width="1.3" fill="none"/>
<path d="M159.50,325.52 L159.50,320.82" stroke="#000" stroke-width="1.3" fill="none"/>
<path d="M174.50,167.96 L174.50,172.66" stroke="#000" stroke-width="1.3" fill="none"/>
<path d="M174.50,325.52 L174.50,320.82" stroke="#000" stroke-width="1.3" fill="none"/>
<path d="M186.50,167.96 L186.50,172.66" stroke="#000" stroke-width="1.3" fill="none"/>
<path d="M186.50,325.52 L186.50,320.82" stroke="#000" stroke-width="1.3" fill="none"/>
<path d="M196.50,167.96 L196.50,172.66" stroke="#000" stroke-width="1.3" fill="none"/>
<path d="M196.50,325.52 L196.50,320.82" stroke="#000" stroke-width="1.3" fill="none"/>
<path d="M205.50,167.96 L205.50,172.66" stroke="#000" stroke-width="1.3" fill="none"/>
<path d="M205.50,325.52 L205.50,320.82" stroke="#000" stroke-width="1.3" fill="none"/>
<path d="M212.50,167.96 L212.50,172.66" stroke="#000" stroke-width="1.3" fill="none"/>
<path d="M212.50,325.52 L212.50,320.82" stroke="#000" stroke-width="1.3" fill="none"/>
<path d="M218.50,167.96 L218.50,172.66" stroke="#000" stroke-width="1.3" fill="none"/>
<path d="M218.50,325.52 L218.50,320.82" stroke="#000" stroke-width="1.3" fill="none"/>
<path d="M224.50,167.96 L224.50,177.56" stroke="#000" stroke-width="1.6" fill="none"/>
<path d="M224.50,325.52 L224.50,315.92" stroke="#000" stroke-width="1.6" fill="none"/>
<path d="M261.50,167.96 L261.50,172.66" stroke="#000" stroke-width="1.3" fill="none"/>
<path d="M261.50,325.52 L261.50,320.82" stroke="#000" stroke-width="1.3" fill="none"/>
<path d="M283.50,167.96 L283.50,172.66" stroke="#000" stroke-width="1.3" fill="none"/>
<path d="M283.50,325.52 L283.50,320.82" stroke="#000" stroke-width="1.3" fill="none"/>
<path d="M299.50,167.96 L299.50,172.66" stroke="#000" stroke-width="1.3" fill="none"/>
<path d="M299.50,325.52 L299.50,320.82" stroke="#000" stroke-width="1.3" fill="none"/>
<path d="M311.50,167.96 L311.50,172.66" stroke="#000" stroke-width="1.3" fill="none"/>
<path d="M311.50,325.52 L311.50,320.82" stroke="#000" stroke-width="1.3" fill="none"/>
<path d="M321.50,167.96 L321.50,172.66" stroke="#000" stroke-width="1.3" fill="none"/>
<path d="M321.50,325.52 L321.50,320.82" stroke="#000" stroke-width="1.3" fill="none"/>
<path d="M322.65,325.50 L327.35,325.50" stroke="#000" stroke-width="1.3" fill="none"/>
<path d="M595.40,325.50 L590.70,325.50" stroke="#000" stroke-width="1.3" fill="none"/>
<path d="M322.65,309.50 L327.35,309.50" stroke="#000" stroke-width="1.3" fill="none"/>
<path d="M595.40,309.50 L590.70,309.50" stroke="#000" stroke-width="1.3" fill="none"/>
<path d="M322.65,297.50 L327.35,297.50" stroke="#000" stroke-width="1.3" fill="none"/>
<path d="M595.40,297.50 L590.70,297.50" stroke="#000" stroke-width="1.3" fill="none"/>
<path d="M322.65,288.50 L327.35,288.50" stroke="#000" stroke-width="1.3" fill="none"/>
<path d="M595.40,288.50 L590.70,288.50" stroke="#000" stroke-width="1.3" fill="none"/>
<path d="M322.65,281.50 L327.35,281.50" stroke="#000" stroke-width="1.3" fill="none"/>
<path d="M595.40,281.50 L590.70,281.50" stroke="#000" stroke-width="1.3" fill="none"/>
<path d="M322.65,275.50 L327.35,275.50" stroke="#000" stroke-width="1.3" fill="none"/>
<path d="M595.40,275.50 L590.70,275.50" stroke="#000" stroke-width="1.3" fill="none"/>
<path d="M322.65,269.50 L327.35,269.50" stroke="#000" stroke-width="1.3" fill="none"/>
<path d="M595.40,269.50 L590.70,269.50" stroke="#000" stroke-width="1.3" fill="none"/>
<path d="M322.65,264.50 L327.35,264.50" stroke="#000" stroke-width="1.3" fill="none"/>
<path d="M595.40,264.50 L590.70,264.50" stroke="#000" stroke-width="1.3" fill="none"/>
<path d="M322.65,260.50 L332.25,260.50" stroke="#000" stroke-width="1.6" fill="none"/>
<path d="M595.40,260.50 L585.80,260.50" stroke="#000" stroke-width="1.6" fill="none"/>
<path d="M322.65,232.50 L327.35,232.50" stroke="#000" stroke-width="1.3" fill="none"/>
<path d="M595.40,232.50 L590.70,232.50" stroke="#000" stroke-width="1.3" fill="none"/>
<path d="M322.65,216.50 L327.35,216.50" stroke="#000" stroke-width="1.3" fill="none"/>
<path d="M595.40,216.50 L590.70,216.50" stroke="#000" stroke-width="1.3" fill="none"/>
<path d="M322.65,204.50 L327.35,204.50" stroke="#000" stroke-width="1.3" fill="none"/>
<path d="M595.40,204.50 L590.70,204.50" stroke="#000" stroke-width="1.3" fill="none"/>
<path d="M322.65,195.50 L327.35,195.50" stroke="#000" stroke-width="1.3" fill="none"/>
<path d="M595.40,195.50 L590.70,195.50" stroke="#000" stroke-width="1.3" fill="none"/>
<path d="M322.65,188.50 L327.35,188.50" stroke="#000" stroke-width="1.3" fill="none"/>
<path d="M595.40,188.50 L590.70,188.50" stroke="#000" stroke-width="1.3" fill="none"/>
<path d="M322.65,182.50 L327.35,182.50" stroke="#000" stroke-width="1.3" fill="none"/>
<path d="M595.40,182.50 L590.70,182.50" stroke="#000" stroke-width="1.3" fill="none"/>
<path d="M322.65,176.50 L327.35,176.50" stroke="#000" stroke-width="1.3" fill="none"/>
<path d="M595.40,176.50 L590.70,176.50" stroke="#000" stroke-width="1.3" fill="none"/>
<path d="M322.65,172.50 L327.35,172.50" stroke="#000" stroke-width="1.3" fill="none"/>
<path d="M595.40,172.50 L590.70,172.50" stroke="#000" stroke-width="1.3" fill="none"/>
<path d="M322.65,167.50 L332.25,167.50" stroke="#000" stroke-width="1.6" fill="none"/>
<path d="M595.40,167.50 L585.80,167.50" stroke="#000" stroke-width="1.6" fill="none"/>
<path d="M323.84,167.96 L323.84,172.66" stroke="#000" stroke-width="1.3" fill="none"/>
<path d="M323.84,325.52 L323.84,320.82" stroke="#000" stroke-width="1.3" fill="none"/>
<path d="M335.50,167.96 L335.50,172.66" stroke="#000" stroke-width="1.3" fill="none"/>
<path d="M335.50,325.52 L335.50,320.82" stroke="#000" stroke-width="1.3" fill="none"/>
<path d="M345.50,167.96 L345.50,172.66" stroke="#000" stroke-width="1.3" fill="none"/>
<path d="M345.50,325.52 L345.50,320.82" stroke="#000" stroke-width="1.3" fill="none"/>
<path d="M354.50,167.96 L354.50,172.66" stroke="#000" stroke-width="1.3" fill="none"/>
<path d="M354.50,325.52 L354.50,320.82" stroke="#000" stroke-width="1.3" fill="none"/>
<path d="M361.50,167.96 L361.50,172.66" stroke="#000" stroke-width="1.3" fill="none"/>
<path d="M361.50,325.52 L361.50,320.82" stroke="#000" stroke-width="1.3" fill="none"/>
<path d="M367.50,167.96 L367.50,172.66" stroke="#000" stroke-width="1.3" fill="none"/>
<path d="M367.50,325.52 L367.50,320.82" stroke="#000" stroke-width="1.3" fill="none"/>
<path d="M373.50,167.96 L373.50,177.56" stroke="#000" stroke-width="1.6" fill="none"/>
<path d="M373.50,325.52 L373.50,315.92" stroke="#000" stroke-width="1.6" fill="none"/>
<path d="M410.50,167.96 L410.50,172.66" stroke="#000" stroke-width="1.3" fill="none"/>
<path d="M410.50,325.52 L410.50,320.82" stroke="#000" stroke-width="1.3" fill="none"/>
<path d="M432.50,167.96 L432.50,172.66" stroke="#000" stroke-width="1.3" fill="none"/>
<path d="M432.50,325.52 L432.50,320.82" stroke="#000" stroke-width="1.3" fill="none"/>
<path d="M448.50,167.96 L448.50,172.66" stroke="#000" stroke-width="1.3" fill="none"/>
<path d="M448.50,325.52 L448.50,320.82" stroke="#000" stroke-width="1.3" fill="none"/>
<path d="M460.50,167.96 L460.50,172.66" stroke="#000" stroke-width="1.3" fill="none"/>
<path d="M460.50,325.52 L460.50,320.82" stroke="#000" stroke-width="1.3" fill="none"/>
<path d="M470.50,167.96 L470.50,172.66" stroke="#000" stroke-width="1.3" fill="none"/>
<path d="M470.50,325.52 L470.50,320.82" stroke="#000" stroke-width="1.3" fill="none"/>
<path d="M478.50,167.96 L478.50,172.66" stroke="#000" stroke-width="1.3" fill="none"/>
<path d="M478.50,325.52 L478.50,320.82" stroke="#000" stroke-width="1.3" fill="none"/>
<path d="M485.50,167.96 L485.50,172.66" stroke="#000" stroke-width="1.3" fill="none"/>
<path d="M485.50,325.52 L485.50,320.82" stroke="#000" stroke-width="1.3" fill="none"/>
<path d="M491.50,167.96 L491.50,172.66" stroke="#000" stroke-width="1.3" fill="none"/>
<path d="M491.50,325.52 L491.50,320.82" stroke="#000" stroke-width="1.3" fill="none"/>
<path d="M497.50,167.96 L497.50,177.56" stroke="#000" stroke-width="1.6" fill="none"/>
<path d="M497.50,325.52 L497.50,315.92" stroke="#000" stroke-width="1.6" fill="none"/>
<path d="M535.50,167.96 L535.50,172.66" stroke="#000" stroke-width="1.3" fill="none"/>
<path d="M535.50,325.52 L535.50,320.82" stroke="#000" stroke-width="1.3" fill="none"/>
<path d="M556.50,167.96 L556.50,172.66" stroke="#000" stroke-width="1.3" fill="none"/>
<path d="M556.50,325.52 L556.50,320.82" stroke="#000" stroke-width="1.3" fill="none"/>
<path d="M572.50,167.96 L572.50,172.66" stroke="#000" stroke-width="1.3" fill="none"/>
<path d="M572.50,325.52 L572.50,320.82" stroke="#000" stroke-width="1.3" fill="none"/>
<path d="M584.50,167.96 L584.50,172.66" stroke="#000" stroke-width="1.3" fill="none"/>
<path d="M584.50,325.52 L584.50,320.82" stroke="#000" stroke-width="1.3" fill="none"/>
<path d="M594.50,167.96 L594.50,172.66" stroke="#000" stroke-width="1.3" fill="none"/>
<path d="M594.50,325.52 L594.50,320.82" stroke="#000" stroke-width="1.3" fill="none"/>
<path d="M50.60,483.50 L55.30,483.50" stroke="#000" stroke-width="1.3" fill="none"/>
<path d="M322.65,483.50 L317.95,483.50" stroke="#000" stroke-width="1.3" fill="none"/>
<path d="M50.60,466.50 L55.30,466.50" stroke="#000" stroke-width="1.3" fill="none"/>
<path d="M322.65,466.50 L317.95,466.50" stroke="#000" stroke-width="1.3" fill="none"/>
<path d="M50.60,455.50 L55.30,455.50" stroke="#000" stroke-width="1.3" fill="none"/>
<path d="M322.65,455.50 L317.95,455.50" stroke="#000" stroke-width="1.3" fill="none"/>
<path d="M50.60,446.50 L55.30,446.50" stroke="#000" stroke-width="1.3" fill="none"/>
<path d="M322.65,446.50 L317.95,446.50" stroke="#000" stroke-width="1.3" fill="none"/>
<path d="M50.60,438.50 L55.30,438.50" stroke="#000" stroke-width="1.3" fill="none"/>
<path d="M322.65,438.50 L317.95,438.50" stroke="#000" stroke-width="1.3" fill="none"/>
<path d="M50.60,432.50 L55.30,432.50" stroke="#000" stroke-width="1.3" fill="none"/>
<path d="M322.65,432.50 L317.95,432.50" stroke="#000" stroke-width="1.3" fill="none"/>
<path d="M50.60,427.50 L55.30,427.50" stroke="#000" stroke-width="1.3" fill="none"/>
<path d="M322.65,427.50 L317.95,427.50" stroke="#000" stroke-width="1.3" fill="none"/>
<path d="M50.60,422.50 L55.30,422.50" stroke="#000" stroke-width="1.3" fill="none"/>
<path d="M322.65,422.50 L317.95,422.50" stroke="#000" stroke-width="1.3" fill="none"/>
<path d="M50.60,418.50 L60.20,418.50" stroke="#000" stroke-width="1.6" fill="none"/>
<path d="M322.65,418.50 L313.05,418.50" stroke="#000" stroke-width="1.6" fill="none"/>
<path d="M50.60,390.50 L55.30,390.50" stroke="#000" stroke-width="1.3" fill="none"/>
<path d="M322.65,390.50 L317.95,390.50" stroke="#000" stroke-width="1.3" fill="none"/>
<path d="M50.60,374.50 L55.30,374.50" stroke="#000" stroke-width="1.3" fill="none"/>
<path d="M322.65,374.50 L317.95,374.50" stroke="#000" stroke-width="1.3" fill="none"/>
<path d="M50.60,362.50 L55.30,362.50" stroke="#000" stroke-width="1.3" fill="none"/>
<path d="M322.65,362.50 L317.95,362.50" stroke="#000" stroke-width="1.3" fill="none"/>
<path d="M50.60,353.50 L55.30,353.50" stroke="#000" stroke-width="1.3" fill="none"/>
<path d="M322.65,353.50 L317.95,353.50" stroke="#000" stroke-width="1.3" fill="none"/>
<path d="M50.60,346.50 L55.30,346.50" stroke="#000" stroke-width="1.3" fill="none"/>
<path d="M322.65,346.50 L317.95,346.50" stroke="#000" stroke-width="1.3" fill="none"/>
<path d="M50.60,339.50 L55.30,339.50" stroke="#000" stroke-width="1.3" fill="none"/>
<path d="M322.65,339.50 L317.95,339.50" stroke="#000" stroke-width="1.3" fill="none"/>
<path d="M50.60,334.50 L55.30,334.50" stroke="#000" stroke-width="1.3" fill="none"/>
<path d="M322.65,334.50 L317.95,334.50" stroke="#000" stroke-width="1.3" fill="none"/>
<path d="M50.60,329.50 L55.30,329.50" stroke="#000" stroke-width="1.3" fill="none"/>
<path d="M322.65,329.50 L317.95,329.50" stroke="#000" stroke-width="1.3" fill="none"/>
<path d="M50.60,325.50 L60.20,325.50" stroke="#000" stroke-width="1.6" fill="none"/>
<path d="M322.65,325.50 L313.05,325.50" stroke="#000" stroke-width="1.6" fill="none"/>
<path d="M50.64,325.52 L50.64,330.22" stroke="#000" stroke-width="1.3" fill="none"/>
<path d="M50.64,483.08 L50.64,478.38" stroke="#000" stroke-width="1.3" fill="none"/>
<path d="M62.50,325.52 L62.50,330.22" stroke="#000" stroke-width="1.3" fill="none"/>
<path d="M62.50,483.08 L62.50,478.38" stroke="#000" stroke-width="1.3" fill="none"/>
<path d="M72.50,325.52 L72.50,330.22" stroke="#000" stroke-width="1.3" fill="none"/>
<path d="M72.50,483.08 L72.50,478.38" stroke="#000" stroke-width="1.3" fill="none"/>
<path d="M80.50,325.52 L80.50,330.22" stroke="#000" stroke-width="1.3" fill="none"/>
<path d="M80.50,483.08 L80.50,478.38" stroke="#000" stroke-width="1.3" fill="none"/>
<path d="M88.50,325.52 L88.50,330.22" stroke="#000" stroke-width="1.3" fill="none"/>
<path d="M88.50,483.08 L88.50,478.38" stroke="#000" stroke-width="1.3" fill="none"/>
<path d="M94.50,325.52 L94.50,330.22" stroke="#000" stroke-width="1.3" fill="none"/>
<path d="M94.50,483.08 L94.50,478.38" stroke="#000" stroke-width="1.3" fill="none"/>
<path d="M100.50,325.52 L100.50,335.12" stroke="#000" stroke-width="1.6" fill="none"/>
<path d="M100.50,483.08 L100.50,473.48" stroke="#000" stroke-width="1.6" fill="none"/>
<path d="M137.50,325.52 L137.50,330.22" stroke="#000" stroke-width="1.3" fill="none"/>
<path d="M137.50,483.08 L137.50,478.38" stroke="#000" stroke-width="1.3" fill="none"/>
<path d="M159.50,325.52 L159.50,330.22" stroke="#000" stroke-width="1.3" fill="none"/>
<path d="M159.50,483.08 L159.50,478.38" stroke="#000" stroke-width="1.3" fill="none"/>
<path d="M174.50,325.52 L174.50,330.22" stroke="#000" stroke-width="1.3" fill="none"/>
<path d="M174.50,483.08 L174.50,478.38" stroke="#000" stroke-width="1.3" fill="none"/>
<path d="M186.50,325.52 L186.50,330.22" stroke="#000" stroke-width="1.3" fill="none"/>
<path d="M186.50,483.08 L186.50,478.38" stroke="#000" stroke-width="1.3" fill="none"/>
<path d="M196.50,325.52 L196.50,330.22" stroke="#000" stroke-width="1.3" fill="none"/>
<path d="M196.50,483.08 L196.50,478.38" stroke="#000" stroke-width="1.3" fill="none"/>
<path d="M205.50,325.52 L205.50,330.22" stroke="#000" stroke-width="1.3" fill="none"/>
<path d="M205.50,483.08 L205.50,478.38" stroke="#000" stroke-width="1.3" fill="none"/>
<path d="M212.50,325.52 L212.50,330.22" stroke="#000" stroke-width="1.3" fill="none"/>
<path d="M212.50,483.08 L212.50,478.38" stroke="#000" stroke-width="1.3" fill="none"/>
<path d="M218.50,325.52 L218.50,330.22" stroke="#000" stroke-width="1.3" fill="none"/>
<path d="M218.50,483.08 L218.50,478.38" stroke="#000" stroke-width="1.3" fill="none"/>
<path d="M224.50,325.52 L224.50,335.12" stroke="#000" stroke-width="1.6" fill="none"/>
<path d="M224.50,483.08 L224.50,473.48" stroke="#000" stroke-width="1.6" fill="none"/>
<path d="M261.50,325.52 L261.50,330.22" stroke="#000" stroke-width="1.3" fill="none"/>
<path d="M261.50,483.08 L261.50,478.38" stroke="#000" stroke-width="1.3" fill="none"/>
<path d="M283.50,325.52 L283.50,330.22" stroke="#000" stroke-width="1.3" fill="none"/>
<path d="M283.50,483.08 L283.50,478.38" stroke="#000" stroke-width="1.3" fill="none"/>
<path d="M299.50,325.52 L299.50,330.22" stroke="#000" stroke-width="1.3" fill="none"/>
<path d="M299.50,483.08 L299.50,478.38" stroke="#000" stroke-width="1.3" fill="none"/>
<path d="M311.50,325.52 L311.50,330.22" stroke="#000" stroke-width="1.3" fill="none"/>
<path d="M311.50,483.08 L311.50,478.38" stroke="#000" stroke-width="1.3" fill="none"/>
<path d="M321.50,325.52 L321.50,330.22" stroke="#000" stroke-width="1.3" fill="none"/>
<path d="M321.50,483.08 L321.50,478.38" stroke="#000" stroke-width="1.3" fill="none"/>
<path d="M322.65,483.50 L327.35,483.50" stroke="#000" stroke-width="1.3" fill="none"/>
<path d="M595.40,483.50 L590.70,483.50" stroke="#000" stroke-width="1.3" fill="none"/>
<path d="M322.65,466.50 L327.35,466.50" stroke="#000" stroke-width="1.3" fill="none"/>
<path d="M595.40,466.50 L590.70,466.50" stroke="#000" stroke-width="1.3" fill="none"/>
<path d="M322.65,455.50 L327.35,455.50" stroke="#000" stroke-width="1.3" fill="none"/>
<path d="M595.40,455.50 L590.70,455.50" stroke="#000" stroke-width="1.3" fill="none"/>
<path d="M322.65,446.50 L327.35,446.50" stroke="#000" stroke-width="1.3" fill="none"/>
<path d="M595.40,446.50 L590.70,446.50" stroke="#000" stroke-width="1.3" fill="none"/>
<path d="M322.65,438.50 L327.35,438.50" stroke="#000" stroke-width="1.3" fill="none"/>
<path d="M595.40,438.50 L590.70,438.50" stroke="#000" stroke-width="1.3" fill="none"/>
<path d="M322.65,432.50 L327.35,432.50" stroke="#000" stroke-width="1.3" fill="none"/>
<path d="M595.40,432.50 L590.70,432.50" stroke="#000" stroke-width="1.3" fill="none"/>
<path d="M322.65,427.50 L327.35,427.50" stroke="#000" stroke-width="1.3" fill="none"/>
<path d="M595.40,427.50 L590.70,427.50" stroke="#000" stroke-width="1.3" fill="none"/>
<path d="M322.65,422.50 L327.35,422.50" stroke="#000" stroke-width="1.3" fill="none"/>
<path d="M595.40,422.50 L590.70,422.50" stroke="#000" stroke-width="1.3" fill="none"/>
<path d="M322.65,418.50 L332.25,418.50" stroke="#000" stroke-width="1.6" fill="none"/>
<path d="M595.40,418.50 L585.80,418.50" stroke="#000" stroke-width="1.6" fill="none"/>
<path d="M322.65,390.50 L327.35,390.50" stroke="#000" stroke-width="1.3" fill="none"/>
<path d="M595.40,390.50 L590.70,390.50" stroke="#000" stroke-width="1.3" fill="none"/>
<path d="M322.65,374.50 L327.35,374.50" stroke="#000" stroke-width="1.3" fill="none"/>
<path d="M595.40,374.50 L590.70,374.50" stroke="#000" stroke-width="1.3" fill="none"/>
<path d="M322.65,362.50 L327.35,362.50" stroke="#000" stroke-width="1.3" fill="none"/>
<path d="M595.40,362.50 L590.70,362.50" stroke="#000" stroke-width="1.3" fill="none"/>
<path d="M322.65,353.50 L327.35,353.50" stroke="#000" stroke-width="1.3" fill="none"/>
<path d="M595.40,353.50 L590.70,353.50" stroke="#000" stroke-width="1.3" fill="none"/>
<path d="M322.65,346.50 L327.35,346.50" stroke="#000" stroke-width="1.3" fill="none"/>
<path d="M595.40,346.50 L590.70,346.50" stroke="#000" stroke-width="1.3" fill="none"/>
<path d="M322.65,339.50 L327.35,339.50" stroke="#000" stroke-width="1.3" fill="none"/>
<path d="M595.40,339.50 L590.70,339.50" stroke="#000" stroke-width="1.3" fill="none"/>
<path d="M322.65,334.50 L327.35,334.50" stroke="#000" stroke-width="1.3" fill="none"/>
<path d="M595.40,334.50 L590.70,334.50" stroke="#000" stroke-width="1.3" fill="none"/>
<path d="M322.65,329.50 L327.35,329.50" stroke="#000" stroke-width="1.3" fill="none"/>
<path d="M595.40,329.50 L590.70,329.50" stroke="#000" stroke-width="1.3" fill="none"/>
<path d="M322.65,325.50 L332.25,325.50" stroke="#000" stroke-width="1.6" fill="none"/>
<path d="M595.40,325.50 L585.80,325.50" stroke="#000" stroke-width="1.6" fill="none"/>
<path d="M323.84,325.52 L323.84,330.22" stroke="#000" stroke-width="1.3" fill="none"/>
<path d="M323.84,483.08 L323.84,478.38" stroke="#000" stroke-width="1.3" fill="none"/>
<path d="M335.50,325.52 L335.50,330.22" stroke="#000" stroke-width="1.3" fill="none"/>
<path d="M335.50,483.08 L335.50,478.38" stroke="#000" stroke-width="1.3" fill="none"/>
<path d="M345.50,325.52 L345.50,330.22" stroke="#000" stroke-width="1.3" fill="none"/>
<path d="M345.50,483.08 L345.50,478.38" stroke="#000" stroke-width="1.3" fill="none"/>
<path d="M354.50,325.52 L354.50,330.22" stroke="#000" stroke-width="1.3" fill="none"/>
<path d="M354.50,483.08 L354.50,478.38" stroke="#000" stroke-width="1.3" fill="none"/>
<path d="M361.50,325.52 L361.50,330.22" stroke="#000" stroke-width="1.3" fill="none"/>
<path d="M361.50,483.08 L361.50,478.38" stroke="#000" stroke-width="1.3" fill="none"/>
<path d="M367.50,325.52 L367.50,330.22" stroke="#000" stroke-width="1.3" fill="none"/>
<path d="M367.50,483.08 L367.50,478.38" stroke="#000" stroke-width="1.3" fill="none"/>
<path d="M373.50,325.52 L373.50,335.12" stroke="#000" stroke-width="1.6" fill="none"/>
<path d="M373.50,483.08 L373.50,473.48" stroke="#000" stroke-width="1.6" fill="none"/>
<path d="M410.50,325.52 L410.50,330.22" stroke="#000" stroke-width="1.3" fill="none"/>
<path d="M410.50,483.08 L410.50,478.38" stroke="#000" stroke-width="1.3" fill="none"/>
<path d="M432.50,325.52 L432.50,330.22" stroke="#000" stroke-width="1.3" fill="none"/>
<path d="M432.50,483.08 L432.50,478.38" stroke="#000" stroke-width="1.3" fill="none"/>
<path d="M448.50,325.52 L448.50,330.22" stroke="#000" stroke-width="1.3" fill="none"/>
<path d="M448.50,483.08 L448.50,478.38" stroke="#000" stroke-width="1.3" fill="none"/>
<path d="M460.50,325.52 L460.50,330.22" stroke="#000" stroke-width="1.3" fill="none"/>
<path d="M460.50,483.08 L460.50,478.38" stroke="#000" stroke-width="1.3" fill="none"/>
<path d="M470.50,325.52 L470.50,330.22" stroke="#000" stroke-width="1.3" fill="none"/>
<path d="M470.50,483.08 L470.50,478.38" stroke="#000" stroke-width="1.3" fill="none"/>
<path d="M478.50,325.52 L478.50,330.22" stroke="#000" stroke-width="1.3" fill="none"/>
<path d="M478.50,483.08 L478.50,478.38" stroke="#000" stroke-width="1.3" fill="none"/>
<path d="M485.50,325.52 L485.50,330.22" stroke="#000" stroke-width="1.3" fill="none"/>
<path d="M485.50,483.08 L485.50,478.38" stroke="#000" stroke-width="1.3" fill="none"/>
<path d="M491.50,325.52 L491.50,330.22" stroke="#000" stroke-width="1.3" fill="none"/>
<path d="M491.50,483.08 L491.50,478.38" stroke="#000" stroke-width="1.3" fill="none"/>
<path d="M497.50,325.52 L497.50,335.12" stroke="#000" stroke-width="1.6" fill="none"/>
<path d="M497.50,483.08 L497.50,473.48" stroke="#000" stroke-width="1.6" fill="none"/>
<path d="M535.50,325.52 L535.50,330.22" stroke="#000" stroke-width="1.3" fill="none"/>
<path d="M535.50,483.08 L535.50,478.38" stroke="#000" stroke-width="1.3" fill="none"/>
<path d="M556.50,325.52 L556.50,330.22" stroke="#000" stroke-width="1.3" fill="none"/>
<path d="M556.50,483.08 L556.50,478.38" stroke="#000" stroke-width="1.3" fill="none"/>
<path d="M572.50,325.52 L572.50,330.22" stroke="#000" stroke-width="1.3" fill="none"/>
<path d="M572.50,483.08 L572.50,478.38" stroke="#000" stroke-width="1.3" fill="none"/>
<path d="M584.50,325.52 L584.50,330.22" stroke="#000" stroke-width="1.3" fill="none"/>
<path d="M584.50,483.08 L584.50,478.38" stroke="#000" stroke-width="1.3" fill="none"/>
<path d="M594.50,325.52 L594.50,330.22" stroke="#000" stroke-width="1.3" fill="none"/>
<path d="M594.50,483.08 L594.50,478.38" stroke="#000" stroke-width="1.3" fill="none"/>
<path d="M50.60,640.50 L55.30,640.50" stroke="#000" stroke-width="1.3" fill="none"/>
<path d="M322.65,640.50 L317.95,640.50" stroke="#000" stroke-width="1.3" fill="none"/>
<path d="M50.60,624.50 L55.30,624.50" stroke="#000" stroke-width="1.3" fill="none"/>
<path d="M322.65,624.50 L317.95,624.50" stroke="#000" stroke-width="1.3" fill="none"/>
<path d="M50.60,612.50 L55.30,612.50" stroke="#000" stroke-width="1.3" fill="none"/>
<path d="M322.65,612.50 L317.95,612.50" stroke="#000" stroke-width="1.3" fill="none"/>
<path d="M50.60,603.50 L55.30,603.50" stroke="#000" stroke-width="1.3" fill="none"/>
<path d="M322.65,603.50 L317.95,603.50" stroke="#000" stroke-width="1.3" fill="none"/>
<path d="M50.60,596.50 L55.30,596.50" stroke="#000" stroke-width="1.3" fill="none"/>
<path d="M322.65,596.50 L317.95,596.50" stroke="#000" stroke-width="1.3" fill="none"/>
<path d="M50.60,590.50 L55.30,590.50" stroke="#000" stroke-width="1.3" fill="none"/>
<path d="M322.65,590.50 L317.95,590.50" stroke="#000" stroke-width="1.3" fill="none"/>
<path d="M50.60,584.50 L55.30,584.50" stroke="#000" stroke-width="1.3" fill="none"/>
<path d="M322.65,584.50 L317.95,584.50" stroke="#000" stroke-width="1.3" fill="none"/>
<path d="M50.60,580.50 L55.30,580.50" stroke="#000" stroke-width="1.3" fill="none"/>
<path d="M322.65,580.50 L317.95,580.50" stroke="#000" stroke-width="1.3" fill="none"/>
<path d="M50.60,575.50 L60.20,575.50" stroke="#000" stroke-width="1.6" fill="none"/>
<path d="M322.65,575.50 L313.05,575.50" stroke="#000" stroke-width="1.6" fill="none"/>
<path d="M50.60,547.50 L55.30,547.50" stroke="#000" stroke-width="1.3" fill="none"/>
<path d="M322.65,547.50 L317.95,547.50" stroke="#000" stroke-width="1.3" fill="none"/>
<path d="M50.60,531.50 L55.30,531.50" stroke="#000" stroke-width="1.3" fill="none"/>
<path d="M322.65,531.50 L317.95,531.50" stroke="#000" stroke-width="1.3" fill="none"/>
<path d="M50.60,519.50 L55.30,519.50" stroke="#000" stroke-width="1.3" fill="none"/>
<path d="M322.65,519.50 L317.95,519.50" stroke="#000" stroke-width="1.3" fill="none"/>
<path d="M50.60,510.50 L55.30,510.50" stroke="#000" stroke-width="1.3" fill="none"/>
<path d="M322.65,510.50 L317.95,510.50" stroke="#000" stroke-width="1.3" fill="none"/>
<path d="M50.60,503.50 L55.30,503.50" stroke="#000" stroke-width="1.3" fill="none"/>
<path d="M322.65,503.50 L317.95,503.50" stroke="#000" stroke-width="1.3" fill="none"/>
<path d="M50.60,497.50 L55.30,497.50" stroke="#000" stroke-width="1.3" fill="none"/>
<path d="M322.65,497.50 L317.95,497.50" stroke="#000" stroke-width="1.3" fill="none"/>
<path d="M50.60,492.50 L55.30,492.50" stroke="#000" stroke-width="1.3" fill="none"/>
<path d="M322.65,492.50 L317.95,492.50" stroke="#000" stroke-width="1.3" fill="none"/>
<path d="M50.60,487.50 L55.30,487.50" stroke="#000" stroke-width="1.3" fill="none"/>
<path d="M322.65,487.50 L317.95,487.50" stroke="#000" stroke-width="1.3" fill="none"/>
<path d="M50.60,483.50 L60.20,483.50" stroke="#000" stroke-width="1.6" fill="none"/>
<path d="M322.65,483.50 L313.05,483.50" stroke="#000" stroke-width="1.6" fill="none"/>
<path d="M50.64,483.08 L50.64,487.78" stroke="#000" stroke-width="1.3" fill="none"/>
<path d="M50.64,640.64 L50.64,635.94" stroke="#000" stroke-width="1.3" fill="none"/>
<path d="M62.50,483.08 L62.50,487.78" stroke="#000" stroke-width="1.3" fill="none"/>
<path d="M62.50,640.64 L62.50,635.94" stroke="#000" stroke-width="1.3" fill="none"/>
<path d="M72.50,483.08 L72.50,487.78" stroke="#000" stroke-width="1.3" fill="none"/>
<path d="M72.50,640.64 L72.50,635.94" stroke="#000" stroke-width="1.3" fill="none"/>
<path d="M80.50,483.08 L80.50,487.78" stroke="#000" stroke-width="1.3" fill="none"/>
<path d="M80.50,640.64 L80.50,635.94" stroke="#000" stroke-width="1.3" fill="none"/>
<path d="M88.50,483.08 L88.50,487.78" stroke="#000" stroke-width="1.3" fill="none"/>
<path d="M88.50,640.64 L88.50,635.94" stroke="#000" stroke-width="1.3" fill="none"/>
<path d="M94.50,483.08 L94.50,487.78" stroke="#000" stroke-width="1.3" fill="none"/>
<path d="M94.50,640.64 L94.50,635.94" stroke="#000" stroke-width="1.3" fill="none"/>
<path d="M100.50,483.08 L100.50,492.68" stroke="#000" stroke-width="1.6" fill="none"/>
<path d="M100.50,640.64 L100.50,631.04" stroke="#000" stroke-width="1.6" fill="none"/>
<path d="M137.50,483.08 L137.50,487.78" stroke="#000" stroke-width="1.3" fill="none"/>
<path d="M137.50,640.64 L137.50,635.94" stroke="#000" stroke-width="1.3" fill="none"/>
<path d="M159.50,483.08 L159.50,487.78" stroke="#000" stroke-width="1.3" fill="none"/>
<path d="M159.50,640.64 L159.50,635.94" stroke="#000" stroke-width="1.3" fill="none"/>
<path d="M174.50,483.08 L174.50,487.78" stroke="#000" stroke-width="1.3" fill="none"/>
<path d="M174.50,640.64 L174.50,635.94" stroke="#000" stroke-width="1.3" fill="none"/>
<path d="M186.50,483.08 L186.50,487.78" stroke="#000" stroke-width="1.3" fill="none"/>
<path d="M186.50,640.64 L186.50,635.94" stroke="#000" stroke-width="1.3" fill="none"/>
<path d="M196.50,483.08 L196.50,487.78" stroke="#000" stroke-width="1.3" fill="none"/>
<path d="M196.50,640.64 L196.50,635.94" stroke="#000" stroke-width="1.3" fill="none"/>
<path d="M205.50,483.08 L205.50,487.78" stroke="#000" stroke-width="1.3" fill="none"/>
<path d="M205.50,640.64 L205.50,635.94" stroke="#000" stroke-width="1.3" fill="none"/>
<path d="M212.50,483.08 L212.50,487.78" stroke="#000" stroke-width="1.3" fill="none"/>
<path d="M212.50,640.64 L212.50,635.94" stroke="#000" stroke-width="1.3" fill="none"/>
<path d="M218.50,483.08 L218.50,487.78" stroke="#000" stroke-width="1.3" fill="none"/>
<path d="M218.50,640.64 L218.50,635.94" stroke="#000" stroke-width="1.3" fill="none"/>
<path d="M224.50,483.08 L224.50,492.68" stroke="#000" stroke-width="1.6" fill="none"/>
<path d="M224.50,640.64 L224.50,631.04" stroke="#000" stroke-width="1.6" fill="none"/>
<path d="M261.50,483.08 L261.50,487.78" stroke="#000" stroke-width="1.3" fill="none"/>
<path d="M261.50,640.64 L261.50,635.94" stroke="#000" stroke-width="1.3" fill="none"/>
<path d="M283.50,483.08 L283.50,487.78" stroke="#000" stroke-width="1.3" fill="none"/>
<path d="M283.50,640.64 L283.50,635.94" stroke="#000" stroke-width="1.3" fill="none"/>
<path d="M299.50,483.08 L299.50,487.78" stroke="#000" stroke-width="1.3" fill="none"/>
<path d="M299.50,640.64 L299.50,635.94" stroke="#000" stroke-width="1.3" fill="none"/>
<path d="M311.50,483.08 L311.50,487.78" stroke="#000" stroke-width="1.3" fill="none"/>
<path d="M311.50,640.64 L311.50,635.94" stroke="#000" stroke-width="1.3" fill="none"/>
<path d="M321.50,483.08 L321.50,487.78" stroke="#000" stroke-width="1.3" fill="none"/>
<path d="M321.50,640.64 L321.50,635.94" stroke="#000" stroke-width="1.3" fill="none"/>
<path d="M322.65,640.50 L327.35,640.50" stroke="#000" stroke-width="1.3" fill="none"/>
<path d="M595.40,640.50 L590.70,640.50" stroke="#000" stroke-width="1.3" fill="none"/>
<path d="M322.65,624.50 L327.35,624.50" stroke="#000" stroke-width="1.3" fill="none"/>
<path d="M595.40,624.50 L590.70,624.50" stroke="#000" stroke-width="1.3" fill="none"/>
<path d="M322.65,612.50 L327.35,612.50" stroke="#000" stroke-width="1.3" fill="none"/>
<path d="M595.40,612.50 L590.70,612.50" stroke="#000" stroke-width="1.3" fill="none"/>
<path d="M322.65,603.50 L327.35,603.50" stroke="#000" stroke-width="1.3" fill="none"/>
<path d="M595.40,603.50 L590.70,603.50" stroke="#000" stroke-width="1.3" fill="none"/>
<path d="M322.65,596.50 L327.35,596.50" stroke="#000" stroke-width="1.3" fill="none"/>
<path d="M595.40,596.50 L590.70,596.50" stroke="#000" stroke-width="1.3" fill="none"/>
<path d="M322.65,590.50 L327.35,590.50" stroke="#000" stroke-width="1.3" fill="none"/>
<path d="M595.40,590.50 L590.70,590.50" stroke="#000" stroke-width="1.3" fill="none"/>
<path d="M322.65,584.50 L327.35,584.50" stroke="#000" stroke-width="1.3" fill="none"/>
<path d="M595.40,584.50 L590.70,584.50" stroke="#000" stroke-width="1.3" fill="none"/>
<path d="M322.65,580.50 L327.35,580.50" stroke="#000" stroke-width="1.3" fill="none"/>
<path d="M595.40,580.50 L590.70,580.50" stroke="#000" stroke-width="1.3" fill="none"/>
<path d="M322.65,575.50 L332.25,575.50" stroke="#000" stroke-width="1.6" fill="none"/>
<path d="M595.40,575.50 L585.80,575.50" stroke="#000" stroke-width="1.6" fill="none"/>
<path d="M322.65,547.50 L327.35,547.50" stroke="#000" stroke-width="1.3" fill="none"/>
<path d="M595.40,547.50 L590.70,547.50" stroke="#000" stroke-width="1.3" fill="none"/>
<path d="M322.65,531.50 L327.35,531.50" stroke="#000" stroke-width="1.3" fill="none"/>
<path d="M595.40,531.50 L590.70,531.50" stroke="#000" stroke-width="1.3" fill="none"/>
<path d="M322.65,519.50 L327.35,519.50" stroke="#000" stroke-width="1.3" fill="none"/>
<path d="M595.40,519.50 L590.70,519.50" stroke="#000" stroke-width="1.3" fill="none"/>
<path d="M322.65,510.50 L327.35,510.50" stroke="#000" stroke-width="1.3" fill="none"/>
<path d="M595.40,510.50 L590.70,510.50" stroke="#000" stroke-width="1.3" fill="none"/>
<path d="M322.65,503.50 L327.35,503.50" stroke="#000" stroke-width="1.3" fill="none"/>
<path d="M595.40,503.50 L590.70,503.50" stroke="#000" stroke-width="1.3" fill="none"/>
<path d="M322.65,497.50 L327.35,497.50" stroke="#000" stroke-width="1.3" fill="none"/>
<path d="M595.40,497.50 L590.70,497.50" stroke="#000" stroke-width="1.3" fill="none"/>
<path d="M322.65,492.50 L327.35,492.50" stroke="#000" stroke-width="1.3" fill="none"/>
<path d="M595.40,492.50 L590.70,492.50" stroke="#000" stroke-width="1.3" fill="none"/>
<path d="M322.65,487.50 L327.35,487.50" stroke="#000" stroke-width="1.3" fill="none"/>
<path d="M595.40,487.50 L590.70,487.50" stroke="#000" stroke-width="1.3" fill="none"/>
<path d="M322.65,483.50 L332.25,483.50" stroke="#000" stroke-width="1.6" fill="none"/>
<path d="M595.40,483.50 L585.80,483.50" stroke="#000" stroke-width="1.6" fill="none"/>
<path d="M323.84,483.08 L323.84,487.78" stroke="#000" stroke-width="1.3" fill="none"/>
<path d="M323.84,640.64 L323.84,635.94" stroke="#000" stroke-width="1.3" fill="none"/>
<path d="M335.50,483.08 L335.50,487.78" stroke="#000" stroke-width="1.3" fill="none"/>
<path d="M335.50,640.64 L335.50,635.94" stroke="#000" stroke-width="1.3" fill="none"/>
<path d="M345.50,483.08 L345.50,487.78" stroke="#000" stroke-width="1.3" fill="none"/>
<path d="M345.50,640.64 L345.50,635.94" stroke="#000" stroke-width="1.3" fill="none"/>
<path d="M354.50,483.08 L354.50,487.78" stroke="#000" stroke-width="1.3" fill="none"/>
<path d="M354.50,640.64 L354.50,635.94" stroke="#000" stroke-width="1.3" fill="none"/>
<path d="M361.50,483.08 L361.50,487.78" stroke="#000" stroke-width="1.3" fill="none"/>
<path d="M361.50,640.64 L361.50,635.94" stroke="#000" stroke-width="1.3" fill="none"/>
<path d="M367.50,483.08 L367.50,487.78" stroke="#000" stroke-width="1.3" fill="none"/>
<path d="M367.50,640.64 L367.50,635.94" stroke="#000" stroke-width="1.3" fill="none"/>
<path d="M373.50,483.08 L373.50,492.68" stroke="#000" stroke-width="1.6" fill="none"/>
<path d="M373.50,640.64 L373.50,631.04" stroke="#000" stroke-width="1.6" fill="none"/>
<path d="M410.50,483.08 L410.50,487.78" stroke="#000" stroke-width="1.3" fill="none"/>
<path d="M410.50,640.64 L410.50,635.94" stroke="#000" stroke-width="1.3" fill="none"/>
<path d="M432.50,483.08 L432.50,487.78" stroke="#000" stroke-width="1.3" fill="none"/>
<path d="M432.50,640.64 L432.50,635.94" stroke="#000" stroke-width="1.3" fill="none"/>
<path d="M448.50,483.08 L448.50,487.78" stroke="#000" stroke-width="1.3" fill="none"/>
<path d="M448.50,640.64 L448.50,635.94" stroke="#000" stroke-width="1.3" fill="none"/>
<path d="M460.50,483.08 L460.50,487.78" stroke="#000" stroke-width="1.3" fill="none"/>
<path d="M460.50,640.64 L460.50,635.94" stroke="#000" stroke-width="1.3" fill="none"/>
<path d="M470.50,483.08 L470.50,487.78" stroke="#000" stroke-width="1.3" fill="none"/>
<path d="M470.50,640.64 L470.50,635.94" stroke="#000" stroke-width="1.3" fill="none"/>
<path d="M478.50,483.08 L478.50,487.78" stroke="#000" stroke-width="1.3" fill="none"/>
<path d="M478.50,640.64 L478.50,635.94" stroke="#000" stroke-width="1.3" fill="none"/>
<path d="M485.50,483.08 L485.50,487.78" stroke="#000" stroke-width="1.3" fill="none"/>
<path d="M485.50,640.64 L485.50,635.94" stroke="#000" stroke-width="1.3" fill="none"/>
<path d="M491.50,483.08 L491.50,487.78" stroke="#000" stroke-width="1.3" fill="none"/>
<path d="M491.50,640.64 L491.50,635.94" stroke="#000" stroke-width="1.3" fill="none"/>
<path d="M497.50,483.08 L497.50,492.68" stroke="#000" stroke-width="1.6" fill="none"/>
<path d="M497.50,640.64 L497.50,631.04" stroke="#000" stroke-width="1.6" fill="none"/>
<path d="M535.50,483.08 L535.50,487.78" stroke="#000" stroke-width="1.3" fill="none"/>
<path d="M535.50,640.64 L535.50,635.94" stroke="#000" stroke-width="1.3" fill="none"/>
<path d="M556.50,483.08 L556.50,487.78" stroke="#000" stroke-width="1.3" fill="none"/>
<path d="M556.50,640.64 L556.50,635.94" stroke="#000" stroke-width="1.3" fill="none"/>
<path d="M572.50,483.08 L572.50,487.78" stroke="#000" stroke-width="1.3" fill="none"/>
<path d="M572.50,640.64 L572.50,635.94" stroke="#000" stroke-width="1.3" fill="none"/>
<path d="M584.50,483.08 L584.50,487.78" stroke="#000" stroke-width="1.3" fill="none"/>
<path d="M584.50,640.64 L584.50,635.94" stroke="#000" stroke-width="1.3" fill="none"/>
<path d="M594.50,483.08 L594.50,487.78" stroke="#000" stroke-width="1.3" fill="none"/>
<path d="M594.50,640.64 L594.50,635.94" stroke="#000" stroke-width="1.3" fill="none"/>
<path d="M50.60,798.50 L55.30,798.50" stroke="#000" stroke-width="1.3" fill="none"/>
<path d="M322.65,798.50 L317.95,798.50" stroke="#000" stroke-width="1.3" fill="none"/>
<path d="M50.60,781.50 L55.30,781.50" stroke="#000" stroke-width="1.3" fill="none"/>
<path d="M322.65,781.50 L317.95,781.50" stroke="#000" stroke-width="1.3" fill="none"/>
<path d="M50.60,770.50 L55.30,770.50" stroke="#000" stroke-width="1.3" fill="none"/>
<path d="M322.65,770.50 L317.95,770.50" stroke="#000" stroke-width="1.3" fill="none"/>
<path d="M50.60,761.50 L55.30,761.50" stroke="#000" stroke-width="1.3" fill="none"/>
<path d="M322.65,761.50 L317.95,761.50" stroke="#000" stroke-width="1.3" fill="none"/>
<path d="M50.60,753.50 L55.30,753.50" stroke="#000" stroke-width="1.3" fill="none"/>
<path d="M322.65,753.50 L317.95,753.50" stroke="#000" stroke-width="1.3" fill="none"/>
<path d="M50.60,747.50 L55.30,747.50" stroke="#000" stroke-width="1.3" fill="none"/>
<path d="M322.65,747.50 L317.95,747.50" stroke="#000" stroke-width="1.3" fill="none"/>
<path d="M50.60,742.50 L55.30,742.50" stroke="#000" stroke-width="1.3" fill="none"/>
<path d="M322.65,742.50 L317.95,742.50" stroke="#000" stroke-width="1.3" fill="none"/>
<path d="M50.60,737.50 L55.30,737.50" stroke="#000" stroke-width="1.3" fill="none"/>
<path d="M322.65,737.50 L317.95,737.50" stroke="#000" stroke-width="1.3" fill="none"/>
<path d="M50.60,733.50 L60.20,733.50" stroke="#000" stroke-width="1.6" fill="none"/>
<path d="M322.65,733.50 L313.05,733.50" stroke="#000" stroke-width="1.6" fill="none"/>
<path d="M50.60,705.50 L55.30,705.50" stroke="#000" stroke-width="1.3" fill="none"/>
<path d="M322.65,705.50 L317.95,705.50" stroke="#000" stroke-width="1.3" fill="none"/>
<path d="M50.60,689.50 L55.30,689.50" stroke="#000" stroke-width="1.3" fill="none"/>
<path d="M322.65,689.50 L317.95,689.50" stroke="#000" stroke-width="1.3" fill="none"/>
<path d="M50.60,677.50 L55.30,677.50" stroke="#000" stroke-width="1.3" fill="none"/>
<path d="M322.65,677.50 L317.95,677.50" stroke="#000" stroke-width="1.3" fill="none"/>
<path d="M50.60,668.50 L55.30,668.50" stroke="#000" stroke-width="1.3" fill="none"/>
<path d="M322.65,668.50 L317.95,668.50" stroke="#000" stroke-width="1.3" fill="none"/>
<path d="M50.60,661.50 L55.30,661.50" stroke="#000" stroke-width="1.3" fill="none"/>
<path d="M322.65,661.50 L317.95,661.50" stroke="#000" stroke-width="1.3" fill="none"/>
<path d="M50.60,655.50 L55.30,655.50" stroke="#000" stroke-width="1.3" fill="none"/>
<path d="M322.65,655.50 L317.95,655.50" stroke="#000" stroke-width="1.3" fill="none"/>
<path d="M50.60,649.50 L55.30,649.50" stroke="#000" stroke-width="1.3" fill="none"/>
<path d="M322.65,649.50 L317.95,649.50" stroke="#000" stroke-width="1.3" fill="none"/>
<path d="M50.60,644.50 L55.30,644.50" stroke="#000" stroke-width="1.3" fill="none"/>
<path d="M322.65,644.50 L317.95,644.50" stroke="#000" stroke-width="1.3" fill="none"/>
<path d="M50.60,640.50 L60.20,640.50" stroke="#000" stroke-width="1.6" fill="none"/>
<path d="M322.65,640.50 L313.05,640.50" stroke="#000" stroke-width="1.6" fill="none"/>
<path d="M50.64,640.64 L50.64,645.34" stroke="#000" stroke-width="1.3" fill="none"/>
<path d="M50.64,798.20 L50.64,793.50" stroke="#000" stroke-width="1.3" fill="none"/>
<path d="M62.50,640.64 L62.50,645.34" stroke="#000" stroke-width="1.3" fill="none"/>
<path d="M62.50,798.20 L62.50,793.50" stroke="#000" stroke-width="1.3" fill="none"/>
<path d="M72.50,640.64 L72.50,645.34" stroke="#000" stroke-width="1.3" fill="none"/>
<path d="M72.50,798.20 L72.50,793.50" stroke="#000" stroke-width="1.3" fill="none"/>
<path d="M80.50,640.64 L80.50,645.34" stroke="#000" stroke-width="1.3" fill="none"/>
<path d="M80.50,798.20 L80.50,793.50" stroke="#000" stroke-width="1.3" fill="none"/>
<path d="M88.50,640.64 L88.50,645.34" stroke="#000" stroke-width="1.3" fill="none"/>
<path d="M88.50,798.20 L88.50,793.50" stroke="#000" stroke-width="1.3" fill="none"/>
<path d="M94.50,640.64 L94.50,645.34" stroke="#000" stroke-width="1.3" fill="none"/>
<path d="M94.50,798.20 L94.50,793.50" stroke="#000" stroke-width="1.3" fill="none"/>
<path d="M100.50,640.64 L100.50,650.24" stroke="#000" stroke-width="1.6" fill="none"/>
<path d="M100.50,798.20 L100.50,788.60" stroke="#000" stroke-width="1.6" fill="none"/>
<path d="M137.50,640.64 L137.50,645.34" stroke="#000" stroke-width="1.3" fill="none"/>
<path d="M137.50,798.20 L137.50,793.50" stroke="#000" stroke-width="1.3" fill="none"/>
<path d="M159.50,640.64 L159.50,645.34" stroke="#000" stroke-width="1.3" fill="none"/>
<path d="M159.50,798.20 L159.50,793.50" stroke="#000" stroke-width="1.3" fill="none"/>
<path d="M174.50,640.64 L174.50,645.34" stroke="#000" stroke-width="1.3" fill="none"/>
<path d="M174.50,798.20 L174.50,793.50" stroke="#000" stroke-width="1.3" fill="none"/>
<path d="M186.50,640.64 L186.50,645.34" stroke="#000" stroke-width="1.3" fill="none"/>
<path d="M186.50,798.20 L186.50,793.50" stroke="#000" stroke-width="1.3" fill="none"/>
<path d="M196.50,640.64 L196.50,645.34" stroke="#000" stroke-width="1.3" fill="none"/>
<path d="M196.50,798.20 L196.50,793.50" stroke="#000" stroke-width="1.3" fill="none"/>
<path d="M205.50,640.64 L205.50,645.34" stroke="#000" stroke-width="1.3" fill="none"/>
<path d="M205.50,798.20 L205.50,793.50" stroke="#000" stroke-width="1.3" fill="none"/>
<path d="M212.50,640.64 L212.50,645.34" stroke="#000" stroke-width="1.3" fill="none"/>
<path d="M212.50,798.20 L212.50,793.50" stroke="#000" stroke-width="1.3" fill="none"/>
<path d="M218.50,640.64 L218.50,645.34" stroke="#000" stroke-width="1.3" fill="none"/>
<path d="M218.50,798.20 L218.50,793.50" stroke="#000" stroke-width="1.3" fill="none"/>
<path d="M224.50,640.64 L224.50,650.24" stroke="#000" stroke-width="1.6" fill="none"/>
<path d="M224.50,798.20 L224.50,788.60" stroke="#000" stroke-width="1.6" fill="none"/>
<path d="M261.50,640.64 L261.50,645.34" stroke="#000" stroke-width="1.3" fill="none"/>
<path d="M261.50,798.20 L261.50,793.50" stroke="#000" stroke-width="1.3" fill="none"/>
<path d="M283.50,640.64 L283.50,645.34" stroke="#000" stroke-width="1.3" fill="none"/>
<path d="M283.50,798.20 L283.50,793.50" stroke="#000" stroke-width="1.3" fill="none"/>
<path d="M299.50,640.64 L299.50,645.34" stroke="#000" stroke-width="1.3" fill="none"/>
<path d="M299.50,798.20 L299.50,793.50" stroke="#000" stroke-width="1.3" fill="none"/>
<path d="M311.50,640.64 L311.50,645.34" stroke="#000" stroke-width="1.3" fill="none"/>
<path d="M311.50,798.20 L311.50,793.50" stroke="#000" stroke-width="1.3" fill="none"/>
<path d="M321.50,640.64 L321.50,645.34" stroke="#000" stroke-width="1.3" fill="none"/>
<path d="M321.50,798.20 L321.50,793.50" stroke="#000" stroke-width="1.3" fill="none"/>
<path d="M322.65,798.50 L327.35,798.50" stroke="#000" stroke-width="1.3" fill="none"/>
<path d="M595.40,798.50 L590.70,798.50" stroke="#000" stroke-width="1.3" fill="none"/>
<path d="M322.65,781.50 L327.35,781.50" stroke="#000" stroke-width="1.3" fill="none"/>
<path d="M595.40,781.50 L590.70,781.50" stroke="#000" stroke-width="1.3" fill="none"/>
<path d="M322.65,770.50 L327.35,770.50" stroke="#000" stroke-width="1.3" fill="none"/>
<path d="M595.40,770.50 L590.70,770.50" stroke="#000" stroke-width="1.3" fill="none"/>
<path d="M322.65,761.50 L327.35,761.50" stroke="#000" stroke-width="1.3" fill="none"/>
<path d="M595.40,761.50 L590.70,761.50" stroke="#000" stroke-width="1.3" fill="none"/>
<path d="M322.65,753.50 L327.35,753.50" stroke="#000" stroke-width="1.3" fill="none"/>
<path d="M595.40,753.50 L590.70,753.50" stroke="#000" stroke-width="1.3" fill="none"/>
<path d="M322.65,747.50 L327.35,747.50" stroke="#000" stroke-width="1.3" fill="none"/>
<path d="M595.40,747.50 L590.70,747.50" stroke="#000" stroke-width="1.3" fill="none"/>
<path d="M322.65,742.50 L327.35,742.50" stroke="#000" stroke-width="1.3" fill="none"/>
<path d="M595.40,742.50 L590.70,742.50" stroke="#000" stroke-width="1.3" fill="none"/>
<path d="M322.65,737.50 L327.35,737.50" stroke="#000" stroke-width="1.3" fill="none"/>
<path d="M595.40,737.50 L590.70,737.50" stroke="#000" stroke-width="1.3" fill="none"/>
<path d="M322.65,733.50 L332.25,733.50" stroke="#000" stroke-width="1.6" fill="none"/>
<path d="M595.40,733.50 L585.80,733.50" stroke="#000" stroke-width="1.6" fill="none"/>
<path d="M322.65,705.50 L327.35,705.50" stroke="#000" stroke-width="1.3" fill="none"/>
<path d="M595.40,705.50 L590.70,705.50" stroke="#000" stroke-width="1.3" fill="none"/>
<path d="M322.65,689.50 L327.35,689.50" stroke="#000" stroke-width="1.3" fill="none"/>
<path d="M595.40,689.50 L590.70,689.50" stroke="#000" stroke-width="1.3" fill="none"/>
<path d="M322.65,677.50 L327.35,677.50" stroke="#000" stroke-width="1.3" fill="none"/>
<path d="M595.40,677.50 L590.70,677.50" stroke="#000" stroke-width="1.3" fill="none"/>
<path d="M322.65,668.50 L327.35,668.50" stroke="#000" stroke-width="1.3" fill="none"/>
<path d="M595.40,668.50 L590.70,668.50" stroke="#000" stroke-width="1.3" fill="none"/>
<path d="M322.65,661.50 L327.35,661.50" stroke="#000" stroke-width="1.3" fill="none"/>
<path d="M595.40,661.50 L590.70,661.50" stroke="#000" stroke-width="1.3" fill="none"/>
<path d="M322.65,655.50 L327.35,655.50" stroke="#000" stroke-width="1.3" fill="none"/>
<path d="M595.40,655.50 L590.70,655.50" stroke="#000" stroke-width="1.3" fill="none"/>
<path d="M322.65,649.50 L327.35,649.50" stroke="#000" stroke-width="1.3" fill="none"/>
<path d="M595.40,649.50 L590.70,649.50" stroke="#000" stroke-width="1.3" fill="none"/>
<path d="M322.65,644.50 L327.35,644.50" stroke="#000" stroke-width="1.3" fill="none"/>
<path d="M595.40,644.50 L590.70,644.50" stroke="#000" stroke-width="1.3" fill="none"/>
<path d="M322.65,640.50 L332.25,640.50" stroke="#000" stroke-width="1.6" fill="none"/>
<path d="M595.40,640.50 L585.80,640.50" stroke="#000" stroke-width="1.6" fill="none"/>
<path d="M323.84,640.64 L323.84,645.34" stroke="#000" stroke-width="1.3" fill="none"/>
<path d="M323.84,798.20 L323.84,793.50" stroke="#000" stroke-width="1.3" fill="none"/>
<path d="M335.50,640.64 L335.50,645.34" stroke="#000" stroke-width="1.3" fill="none"/>
<path d="M335.50,798.20 L335.50,793.50" stroke="#000" stroke-width="1.3" fill="none"/>
<path d="M345.50,640.64 L345.50,645.34" stroke="#000" stroke-width="1.3" fill="none"/>
<path d="M345.50,798.20 L345.50,793.50" stroke="#000" stroke-width="1.3" fill="none"/>
<path d="M354.50,640.64 L354.50,645.34" stroke="#000" stroke-width="1.3" fill="none"/>
<path d="M354.50,798.20 L354.50,793.50" stroke="#000" stroke-width="1.3" fill="none"/>
<path d="M361.50,640.64 L361.50,645.34" stroke="#000" stroke-width="1.3" fill="none"/>
<path d="M361.50,798.20 L361.50,793.50" stroke="#000" stroke-width="1.3" fill="none"/>
<path d="M367.50,640.64 L367.50,645.34" stroke="#000" stroke-width="1.3" fill="none"/>
<path d="M367.50,798.20 L367.50,793.50" stroke="#000" stroke-width="1.3" fill="none"/>
<path d="M373.50,640.64 L373.50,650.24" stroke="#000" stroke-width="1.6" fill="none"/>
<path d="M373.50,798.20 L373.50,788.60" stroke="#000" stroke-width="1.6" fill="none"/>
<path d="M410.50,640.64 L410.50,645.34" stroke="#000" stroke-width="1.3" fill="none"/>
<path d="M410.50,798.20 L410.50,793.50" stroke="#000" stroke-width="1.3" fill="none"/>
<path d="M432.50,640.64 L432.50,645.34" stroke="#000" stroke-width="1.3" fill="none"/>
<path d="M432.50,798.20 L432.50,793.50" stroke="#000" stroke-width="1.3" fill="none"/>
<path d="M448.50,640.64 L448.50,645.34" stroke="#000" stroke-width="1.3" fill="none"/>
<path d="M448.50,798.20 L448.50,793.50" stroke="#000" stroke-width="1.3" fill="none"/>
<path d="M460.50,640.64 L460.50,645.34" stroke="#000" stroke-width="1.3" fill="none"/>
<path d="M460.50,798.20 L460.50,793.50" stroke="#000" stroke-width="1.3" fill="none"/>
<path d="M470.50,640.64 L470.50,645.34" stroke="#000" stroke-width="1.3" fill="none"/>
<path d="M470.50,798.20 L470.50,793.50" stroke="#000" stroke-width="1.3" fill="none"/>
<path d="M478.50,640.64 L478.50,645.34" stroke="#000" stroke-width="1.3" fill="none"/>
<path d="M478.50,798.20 L478.50,793.50" stroke="#000" stroke-width="1.3" fill="none"/>
<path d="M485.50,640.64 L485.50,645.34" stroke="#000" stroke-width="1.3" fill="none"/>
<path d="M485.50,798.20 L485.50,793.50" stroke="#000" stroke-width="1.3" fill="none"/>
<path d="M491.50,640.64 L491.50,645.34" stroke="#000" stroke-width="1.3" fill="none"/>
<path d="M491.50,798.20 L491.50,793.50" stroke="#000" stroke-width="1.3" fill="none"/>
<path d="M497.50,640.64 L497.50,650.24" stroke="#000" stroke-width="1.6" fill="none"/>
<path d="M497.50,798.20 L497.50,788.60" stroke="#000" stroke-width="1.6" fill="none"/>
<path d="M535.50,640.64 L535.50,645.34" stroke="#000" stroke-width="1.3" fill="none"/>
<path d="M535.50,798.20 L535.50,793.50" stroke="#000" stroke-width="1.3" fill="none"/>
<path d="M556.50,640.64 L556.50,645.34" stroke="#000" stroke-width="1.3" fill="none"/>
<path d="M556.50,798.20 L556.50,793.50" stroke="#000" stroke-width="1.3" fill="none"/>
<path d="M572.50,640.64 L572.50,645.34" stroke="#000" stroke-width="1.3" fill="none"/>
<path d="M572.50,798.20 L572.50,793.50" stroke="#000" stroke-width="1.3" fill="none"/>
<path d="M584.50,640.64 L584.50,645.34" stroke="#000" stroke-width="1.3" fill="none"/>
<path d="M584.50,798.20 L584.50,793.50" stroke="#000" stroke-width="1.3" fill="none"/>
<path d="M594.50,640.64 L594.50,645.34" stroke="#000" stroke-width="1.3" fill="none"/>
<path d="M594.50,798.20 L594.50,793.50" stroke="#000" stroke-width="1.3" fill="none"/>
<rect x="50.60" y="10.40" width="272.05" height="157.56" fill="none" stroke="#000" stroke-width="1.2"/>
<rect x="322.65" y="10.40" width="272.75" height="157.56" fill="none" stroke="#000" stroke-width="1.2"/>
<rect x="50.60" y="167.96" width="272.05" height="157.56" fill="none" stroke="#000" stroke-width="1.2"/>
<rect x="322.65" y="167.96" width="272.75" height="157.56" fill="none" stroke="#000" stroke-width="1.2"/>
<rect x="50.60" y="325.52" width="272.05" height="157.56" fill="none" stroke="#000" stroke-width="1.2"/>
<rect x="322.65" y="325.52" width="272.75" height="157.56" fill="none" stroke="#000" stroke-width="1.2"/>
<rect x="50.60" y="483.08" width="272.05" height="157.56" fill="none" stroke="#000" stroke-width="1.2"/>
<rect x="322.65" y="483.08" width="272.75" height="157.56" fill="none" stroke="#000" stroke-width="1.2"/>
<rect x="50.60" y="640.64" width="272.05" height="157.56" fill="none" stroke="#000" stroke-width="1.2"/>
<rect x="322.65" y="640.64" width="272.75" height="157.56" fill="none" stroke="#000" stroke-width="1.2"/>
<path d="M50.60,167.96 L595.40,167.96" stroke="#000" stroke-width="1.3"/>
<path d="M50.60,325.52 L595.40,325.52" stroke="#000" stroke-width="1.3"/>
<path d="M50.60,483.08 L595.40,483.08" stroke="#000" stroke-width="1.3"/>
<path d="M50.60,640.64 L595.40,640.64" stroke="#000" stroke-width="1.3"/>
<path d="M322.65,10.40 L322.65,798.20" stroke="#000" stroke-width="1.3"/>
<text x="45.0" y="15.10" font-size="16.6" text-anchor="end">10<tspan font-size="11.6" dy="-6.2">2</tspan></text>
<text x="45.0" y="107.84" font-size="16.6" text-anchor="end">10<tspan font-size="11.6" dy="-6.2">1</tspan></text>
<text x="45.0" y="172.66" font-size="16.6" text-anchor="end">10<tspan font-size="11.6" dy="-6.2">2</tspan></text>
<text x="45.0" y="265.40" font-size="16.6" text-anchor="end">10<tspan font-size="11.6" dy="-6.2">1</tspan></text>
<text x="45.0" y="330.22" font-size="16.6" text-anchor="end">10<tspan font-size="11.6" dy="-6.2">2</tspan></text>
<text x="45.0" y="422.96" font-size="16.6" text-anchor="end">10<tspan font-size="11.6" dy="-6.2">1</tspan></text>
<text x="45.0" y="487.78" font-size="16.6" text-anchor="end">10<tspan font-size="11.6" dy="-6.2">2</tspan></text>
<text x="45.0" y="580.52" font-size="16.6" text-anchor="end">10<tspan font-size="11.6" dy="-6.2">1</tspan></text>
<text x="45.0" y="645.34" font-size="16.6" text-anchor="end">10<tspan font-size="11.6" dy="-6.2">2</tspan></text>
<text x="45.0" y="738.08" font-size="16.6" text-anchor="end">10<tspan font-size="11.6" dy="-6.2">1</tspan></text>
<text x="99.60" y="814.5" font-size="16.6" text-anchor="middle">10<tspan font-size="11.6" dy="-6.2">0</tspan></text>
<text x="223.90" y="814.5" font-size="16.6" text-anchor="middle">10<tspan font-size="11.6" dy="-6.2">1</tspan></text>
<text x="372.80" y="814.5" font-size="16.6" text-anchor="middle">10<tspan font-size="11.6" dy="-6.2">0</tspan></text>
<text x="497.10" y="814.5" font-size="16.6" text-anchor="middle">10<tspan font-size="11.6" dy="-6.2">1</tspan></text>
<text x="246.4" y="152.30" font-size="17.55" >Model A</text>
<text x="246.4" y="309.86" font-size="17.55" >Model B</text>
<text x="246.4" y="467.42" font-size="17.55" >Model C</text>
<text x="246.4" y="624.98" font-size="17.55" >Model D</text>
<text x="246.4" y="782.54" font-size="17.55" >Model E</text>
<text x="63.7" y="29.3" font-size="17.55">East</text>
<text x="334.8" y="29.3" font-size="17.55">North</text>
<text x="322.3" y="834.6" font-size="17.3" text-anchor="middle">Segment length (hour)</text>
<text transform="translate(12.8,402.4) rotate(-90)" font-size="16.4" text-anchor="middle">Fractional rms amplitude (%)</text>
<path d="M513.25,113.9 L532,113.9" stroke="#0000ff" stroke-width="1.4"/>
<text x="545.75" y="118.4" font-size="12.6">HI-AZ</text>
<path d="M513.25,131.8 L532,131.8" stroke="#008000" stroke-width="1.4"/>
<text x="545.75" y="136.3" font-size="12.6">AZ-CA</text>
<path d="M513.25,149.7 L532,149.7" stroke="#ff0000" stroke-width="1.4"/>
<text x="545.75" y="154.2" font-size="12.6">CA-HI</text>
</svg></body></html>
